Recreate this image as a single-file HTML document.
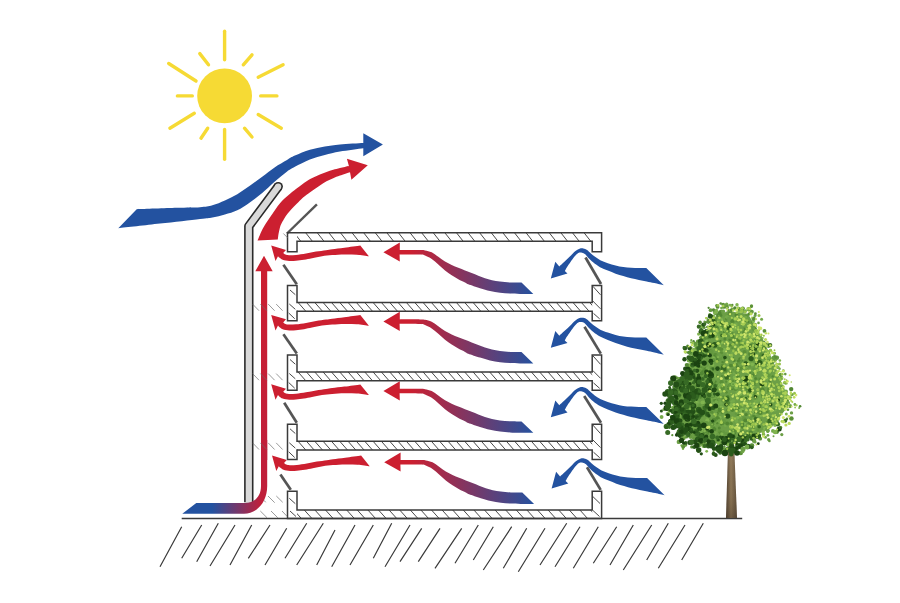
<!DOCTYPE html><html><head><meta charset="utf-8"><style>html,body{margin:0;padding:0;background:#fff;}svg{display:block;}</style></head><body>
<svg width="900" height="603" viewBox="0 0 900 603">
<defs>
<linearGradient id="gm" gradientUnits="userSpaceOnUse" x1="410" y1="0" x2="535" y2="0"><stop offset="0" stop-color="#cc1f30"/><stop offset="1" stop-color="#2352a0"/></linearGradient>
<linearGradient id="gb" gradientUnits="userSpaceOnUse" x1="212" y1="0" x2="261" y2="0"><stop offset="0" stop-color="#2352a0"/><stop offset="1" stop-color="#c01f3a"/></linearGradient>
<linearGradient id="gv" gradientUnits="userSpaceOnUse" x1="0" y1="460" x2="0" y2="256"><stop offset="0" stop-color="#c01f3a"/><stop offset="1" stop-color="#cc1f30"/></linearGradient>
<linearGradient id="gt" x1="0" y1="0" x2="1" y2="0"><stop offset="0" stop-color="#4e3f2e"/><stop offset="0.45" stop-color="#8c7656"/><stop offset="1" stop-color="#5e4e3a"/></linearGradient>
<linearGradient id="gt2" x1="0" y1="0" x2="0" y2="1"><stop offset="0" stop-color="#c8b08a" stop-opacity="0.35"/><stop offset="0.6" stop-color="#8a7252" stop-opacity="0"/><stop offset="1" stop-color="#3a2e22" stop-opacity="0.35"/></linearGradient>
</defs>
<rect width="900" height="603" fill="#fff"/>
<circle cx="224.6" cy="95.9" r="27.4" fill="#f6da34"/>
<line x1="224.6" y1="31.2" x2="224.6" y2="59.8" stroke="#f6da34" stroke-width="3.4" stroke-linecap="round"/>
<line x1="224.6" y1="129.5" x2="224.6" y2="159.3" stroke="#f6da34" stroke-width="3.4" stroke-linecap="round"/>
<line x1="177.4" y1="95.9" x2="192.3" y2="95.9" stroke="#f6da34" stroke-width="3.4" stroke-linecap="round"/>
<line x1="260.7" y1="95.9" x2="276.9" y2="95.9" stroke="#f6da34" stroke-width="3.4" stroke-linecap="round"/>
<line x1="168.7" y1="63.5" x2="196" y2="81" stroke="#f6da34" stroke-width="3.4" stroke-linecap="round"/>
<line x1="258.2" y1="77.2" x2="283.1" y2="64.8" stroke="#f6da34" stroke-width="3.4" stroke-linecap="round"/>
<line x1="169.9" y1="128.2" x2="194.3" y2="113.3" stroke="#f6da34" stroke-width="3.4" stroke-linecap="round"/>
<line x1="258.2" y1="114.5" x2="281.3" y2="128.2" stroke="#f6da34" stroke-width="3.4" stroke-linecap="round"/>
<line x1="199.8" y1="53.6" x2="208.5" y2="64.8" stroke="#f6da34" stroke-width="3.4" stroke-linecap="round"/>
<line x1="252" y1="54.8" x2="243.3" y2="64.8" stroke="#f6da34" stroke-width="3.4" stroke-linecap="round"/>
<line x1="207.7" y1="128.2" x2="201" y2="138.2" stroke="#f6da34" stroke-width="3.4" stroke-linecap="round"/>
<line x1="244.5" y1="128.2" x2="252" y2="137" stroke="#f6da34" stroke-width="3.4" stroke-linecap="round"/>
<path d="M118.3,228.3L136.7,209.2L136.7,209.2C143.37,208.97 166.15,208.13 176.70,207.80C187.25,207.47 194.05,207.62 200.00,207.20C205.95,206.78 208.25,206.42 212.40,205.30C216.55,204.18 220.75,202.35 224.90,200.50C229.05,198.65 233.15,196.65 237.30,194.20C241.45,191.75 245.65,188.70 249.80,185.80C253.95,182.90 258.07,179.87 262.20,176.80C266.33,173.73 270.47,170.20 274.60,167.40C278.73,164.60 283.62,161.97 287.00,160.00C290.38,158.03 291.08,157.30 294.90,155.60C298.72,153.90 304.92,151.33 309.90,149.80C314.88,148.27 319.78,147.30 324.80,146.40C329.82,145.50 333.58,144.97 340.00,144.40C346.42,143.83 359.42,143.23 363.30,143.00L363.3,133.3L382.9,144.4L363.3,156.3L363.3,148.2L363.3,148.2C359.42,148.75 346.42,150.37 340.00,151.50C333.58,152.63 329.82,153.67 324.80,155.00C319.78,156.33 314.88,157.53 309.90,159.50C304.92,161.47 298.70,164.80 294.90,166.80C291.10,168.80 290.48,169.00 287.10,171.50C283.72,174.00 278.75,178.22 274.60,181.80C270.45,185.38 266.33,189.57 262.20,193.00C258.07,196.43 253.95,199.53 249.80,202.40C245.65,205.27 241.45,208.20 237.30,210.20C233.15,212.20 229.05,213.20 224.90,214.40C220.75,215.60 216.55,216.65 212.40,217.40C208.25,218.15 208.73,217.87 200.00,218.90C191.27,219.93 173.62,222.03 160.00,223.60C146.38,225.17 125.25,227.52 118.30,228.30Z" fill="#2352a0"/>
<path d="M257.5,240.6C258.42,238.53 260.88,232.13 263.00,228.20C265.12,224.27 267.37,221.17 270.20,217.00C273.03,212.83 276.98,206.82 280.00,203.20C283.02,199.58 285.53,197.75 288.30,195.30C291.07,192.85 293.55,190.85 296.60,188.50C299.65,186.15 303.82,183.02 306.60,181.20C309.38,179.38 311.08,178.70 313.30,177.60C315.52,176.50 317.70,175.55 319.90,174.60C322.10,173.65 324.28,172.72 326.50,171.90C328.72,171.08 330.95,170.37 333.20,169.70C335.45,169.03 337.38,168.53 340.00,167.90C342.62,167.27 347.42,166.23 348.90,165.90L346.9,158.8L367.8,165.3L351.4,179.7L350,172.3L350,172.3C348.33,172.85 342.80,174.62 340.00,175.60C337.20,176.58 335.45,177.25 333.20,178.20C330.95,179.15 328.72,180.08 326.50,181.30C324.28,182.52 322.10,184.05 319.90,185.50C317.70,186.95 315.52,188.45 313.30,190.00C311.08,191.55 308.43,193.43 306.60,194.80C304.77,196.17 303.90,196.75 302.30,198.20C300.70,199.65 298.78,201.70 297.00,203.50C295.22,205.30 293.18,207.28 291.60,209.00C290.02,210.72 288.77,212.13 287.50,213.80C286.23,215.47 285.08,217.22 284.00,219.00C282.92,220.78 281.72,222.92 281.00,224.50C280.28,226.08 280.12,226.92 279.70,228.50C279.28,230.08 278.82,232.15 278.50,234.00C278.18,235.85 277.92,238.67 277.80,239.60Z" fill="#cc1f30"/>
<path d="M278.2,186.6L248.8,226.2V502.3" fill="none" stroke="#2a2a2a" stroke-width="9.4" stroke-linejoin="round"/>
<circle cx="278.2" cy="186.6" r="4.7" fill="#2a2a2a"/>
<path d="M278.2,186.6L248.8,226.2V502.3" fill="none" stroke="#d9d9d9" stroke-width="6.2" stroke-linejoin="round"/>
<circle cx="278.2" cy="186.6" r="3.1" fill="#d9d9d9"/>
<line x1="287" y1="233.5" x2="316.9" y2="204.3" stroke="#555" stroke-width="2.4"/>
<clipPath id="c0"><rect x="297.0" y="232.8" width="295.20000000000005" height="8.5"/></clipPath>
<g clip-path="url(#c0)"><path d="M270.9,232.8L277.6,241.3M282.5,232.8L289.2,241.3M294.1,232.8L300.8,241.3M305.7,232.8L312.4,241.3M317.3,232.8L324.0,241.3M328.9,232.8L335.6,241.3M340.5,232.8L347.2,241.3M352.1,232.8L358.8,241.3M363.7,232.8L370.4,241.3M375.3,232.8L382.0,241.3M386.9,232.8L393.6,241.3M398.5,232.8L405.2,241.3M410.1,232.8L416.8,241.3M421.7,232.8L428.4,241.3M433.3,232.8L440.0,241.3M444.9,232.8L451.6,241.3M456.5,232.8L463.2,241.3M468.1,232.8L474.8,241.3M479.7,232.8L486.4,241.3M491.3,232.8L498.0,241.3M502.9,232.8L509.6,241.3M514.5,232.8L521.2,241.3M526.1,232.8L532.8,241.3M537.7,232.8L544.4,241.3M549.3,232.8L556.0,241.3M560.9,232.8L567.6,241.3M572.5,232.8L579.2,241.3M584.1,232.8L590.8,241.3M595.7,232.8L602.4,241.3M607.3,232.8L614.0,241.3M618.9,232.8L625.6,241.3" stroke="#4a4a4a" stroke-width="1.0" fill="none"/></g>
<path d="M287.5,232.8H601.6V251.8H592.2V241.3H297.0V251.8H287.5Z" fill="none" stroke="#3a3a3a" stroke-width="1.5"/>
<clipPath id="c1"><rect x="297.0" y="302.5" width="295.20000000000005" height="8.800000000000011"/></clipPath>
<g clip-path="url(#c1)"><path d="M246.7,272.5L299.5,332.5M255.1,272.5L307.9,332.5M263.4,272.5L316.2,332.5M271.7,272.5L324.5,332.5M280.1,272.5L332.9,332.5M288.4,272.5L341.2,332.5M296.7,272.5L349.5,332.5M305.1,272.5L357.9,332.5M313.4,272.5L366.2,332.5M321.7,272.5L374.5,332.5M330.0,272.5L382.8,332.5M338.4,272.5L391.2,332.5M346.7,272.5L399.5,332.5M355.0,272.5L407.8,332.5M363.4,272.5L416.2,332.5M371.7,272.5L424.5,332.5M380.0,272.5L432.8,332.5M388.4,272.5L441.2,332.5M396.7,272.5L449.5,332.5M405.0,272.5L457.8,332.5M413.3,272.5L466.1,332.5M421.7,272.5L474.5,332.5M430.0,272.5L482.8,332.5M438.3,272.5L491.1,332.5M446.7,272.5L499.5,332.5M455.0,272.5L507.8,332.5M463.3,272.5L516.1,332.5M471.7,272.5L524.5,332.5M480.0,272.5L532.8,332.5M488.3,272.5L541.1,332.5M496.6,272.5L549.4,332.5M505.0,272.5L557.8,332.5M513.3,272.5L566.1,332.5M521.6,272.5L574.4,332.5M530.0,272.5L582.8,332.5M538.3,272.5L591.1,332.5M546.6,272.5L599.4,332.5M555.0,272.5L607.8,332.5M563.3,272.5L616.1,332.5M571.6,272.5L624.4,332.5M579.9,272.5L632.7,332.5M588.3,272.5L641.1,332.5M596.6,272.5L649.4,332.5M604.9,272.5L657.7,332.5M613.3,272.5L666.1,332.5M621.6,272.5L674.4,332.5M629.9,272.5L682.7,332.5" stroke="#4a4a4a" stroke-width="1.0" fill="none"/></g>
<path d="M290,290.0L295.3,294.7M289.3,304.0L295.3,309.3M288.7,313.0L294.7,318.7M592.8,286.2L600.5,294.8M592.8,301.0L600.5,308.8M593.5,313.4L599.7,318.9" stroke="#4a4a4a" stroke-width="1.0" fill="none"/>
<path d="M287.5,285.5H297.0V302.5H592.2V285.5H601.6V320.8H592.2V311.3H297.0V320.8H287.5Z" fill="none" stroke="#3a3a3a" stroke-width="1.5"/>
<clipPath id="c2"><rect x="297.0" y="372.0" width="295.20000000000005" height="8.800000000000011"/></clipPath>
<g clip-path="url(#c2)"><path d="M246.7,342.0L299.5,402.0M255.1,342.0L307.9,402.0M263.4,342.0L316.2,402.0M271.7,342.0L324.5,402.0M280.1,342.0L332.9,402.0M288.4,342.0L341.2,402.0M296.7,342.0L349.5,402.0M305.1,342.0L357.9,402.0M313.4,342.0L366.2,402.0M321.7,342.0L374.5,402.0M330.0,342.0L382.8,402.0M338.4,342.0L391.2,402.0M346.7,342.0L399.5,402.0M355.0,342.0L407.8,402.0M363.4,342.0L416.2,402.0M371.7,342.0L424.5,402.0M380.0,342.0L432.8,402.0M388.4,342.0L441.2,402.0M396.7,342.0L449.5,402.0M405.0,342.0L457.8,402.0M413.3,342.0L466.1,402.0M421.7,342.0L474.5,402.0M430.0,342.0L482.8,402.0M438.3,342.0L491.1,402.0M446.7,342.0L499.5,402.0M455.0,342.0L507.8,402.0M463.3,342.0L516.1,402.0M471.7,342.0L524.5,402.0M480.0,342.0L532.8,402.0M488.3,342.0L541.1,402.0M496.6,342.0L549.4,402.0M505.0,342.0L557.8,402.0M513.3,342.0L566.1,402.0M521.6,342.0L574.4,402.0M530.0,342.0L582.8,402.0M538.3,342.0L591.1,402.0M546.6,342.0L599.4,402.0M555.0,342.0L607.8,402.0M563.3,342.0L616.1,402.0M571.6,342.0L624.4,402.0M579.9,342.0L632.7,402.0M588.3,342.0L641.1,402.0M596.6,342.0L649.4,402.0M604.9,342.0L657.7,402.0M613.3,342.0L666.1,402.0M621.6,342.0L674.4,402.0M629.9,342.0L682.7,402.0" stroke="#4a4a4a" stroke-width="1.0" fill="none"/></g>
<path d="M290,359.5L295.3,364.2M289.3,373.5L295.3,378.8M288.7,382.5L294.7,388.2M592.8,355.7L600.5,364.3M592.8,370.5L600.5,378.3M593.5,382.9L599.7,388.4" stroke="#4a4a4a" stroke-width="1.0" fill="none"/>
<path d="M287.5,355.0H297.0V372.0H592.2V355.0H601.6V390.3H592.2V380.8H297.0V390.3H287.5Z" fill="none" stroke="#3a3a3a" stroke-width="1.5"/>
<clipPath id="c3"><rect x="297.0" y="441.3" width="295.20000000000005" height="8.800000000000011"/></clipPath>
<g clip-path="url(#c3)"><path d="M246.7,411.3L299.5,471.3M255.1,411.3L307.9,471.3M263.4,411.3L316.2,471.3M271.7,411.3L324.5,471.3M280.1,411.3L332.9,471.3M288.4,411.3L341.2,471.3M296.7,411.3L349.5,471.3M305.1,411.3L357.9,471.3M313.4,411.3L366.2,471.3M321.7,411.3L374.5,471.3M330.0,411.3L382.8,471.3M338.4,411.3L391.2,471.3M346.7,411.3L399.5,471.3M355.0,411.3L407.8,471.3M363.4,411.3L416.2,471.3M371.7,411.3L424.5,471.3M380.0,411.3L432.8,471.3M388.4,411.3L441.2,471.3M396.7,411.3L449.5,471.3M405.0,411.3L457.8,471.3M413.3,411.3L466.1,471.3M421.7,411.3L474.5,471.3M430.0,411.3L482.8,471.3M438.3,411.3L491.1,471.3M446.7,411.3L499.5,471.3M455.0,411.3L507.8,471.3M463.3,411.3L516.1,471.3M471.7,411.3L524.5,471.3M480.0,411.3L532.8,471.3M488.3,411.3L541.1,471.3M496.6,411.3L549.4,471.3M505.0,411.3L557.8,471.3M513.3,411.3L566.1,471.3M521.6,411.3L574.4,471.3M530.0,411.3L582.8,471.3M538.3,411.3L591.1,471.3M546.6,411.3L599.4,471.3M555.0,411.3L607.8,471.3M563.3,411.3L616.1,471.3M571.6,411.3L624.4,471.3M579.9,411.3L632.7,471.3M588.3,411.3L641.1,471.3M596.6,411.3L649.4,471.3M604.9,411.3L657.7,471.3M613.3,411.3L666.1,471.3M621.6,411.3L674.4,471.3M629.9,411.3L682.7,471.3" stroke="#4a4a4a" stroke-width="1.0" fill="none"/></g>
<path d="M290,428.8L295.3,433.5M289.3,442.8L295.3,448.1M288.7,451.8L294.7,457.5M592.8,425.0L600.5,433.6M592.8,439.8L600.5,447.6M593.5,452.2L599.7,457.7" stroke="#4a4a4a" stroke-width="1.0" fill="none"/>
<path d="M287.5,424.3H297.0V441.3H592.2V424.3H601.6V459.6H592.2V450.1H297.0V459.6H287.5Z" fill="none" stroke="#3a3a3a" stroke-width="1.5"/>
<clipPath id="c4"><rect x="297.0" y="510.0" width="295.20000000000005" height="8.4"/></clipPath>
<g clip-path="url(#c4)"><path d="M245.5,480.0L290.5,530.0M256.1,480.0L301.1,530.0M266.7,480.0L311.7,530.0M277.3,480.0L322.3,530.0M287.9,480.0L332.9,530.0M298.5,480.0L343.5,530.0M309.1,480.0L354.1,530.0M319.7,480.0L364.7,530.0M330.3,480.0L375.3,530.0M340.9,480.0L385.9,530.0M351.5,480.0L396.5,530.0M362.1,480.0L407.1,530.0M372.7,480.0L417.7,530.0M383.3,480.0L428.3,530.0M393.9,480.0L438.9,530.0M404.5,480.0L449.5,530.0M415.1,480.0L460.1,530.0M425.7,480.0L470.7,530.0M436.3,480.0L481.3,530.0M446.9,480.0L491.9,530.0M457.5,480.0L502.5,530.0M468.1,480.0L513.1,530.0M478.7,480.0L523.7,530.0M489.3,480.0L534.3,530.0M499.9,480.0L544.9,530.0M510.5,480.0L555.5,530.0M521.1,480.0L566.1,530.0M531.7,480.0L576.7,530.0M542.3,480.0L587.3,530.0M552.9,480.0L597.9,530.0M563.5,480.0L608.5,530.0M574.1,480.0L619.1,530.0M584.7,480.0L629.7,530.0M595.3,480.0L640.3,530.0M605.9,480.0L650.9,530.0M616.5,480.0L661.5,530.0M627.1,480.0L672.1,530.0" stroke="#4a4a4a" stroke-width="1.0" fill="none"/></g>
<path d="M289.3,498.3L295.3,503.7M290,511L296,516.5M592.8,496.5L600,503.5M593,510.5L599.5,516.5" stroke="#4a4a4a" stroke-width="1.0" fill="none"/>
<path d="M287.5,491.2H297.0V510.0H592.2V491.2H601.6V518.4H287.5Z" fill="none" stroke="#3a3a3a" stroke-width="1.5"/>
<line x1="283.4" y1="264.8" x2="296.8" y2="284.2" stroke="#555" stroke-width="2.7"/>
<line x1="283.4" y1="334.2" x2="296.8" y2="353.6" stroke="#555" stroke-width="2.7"/>
<line x1="284.2" y1="402.8" x2="296.8" y2="422.8" stroke="#555" stroke-width="2.7"/>
<line x1="280.4" y1="474.4" x2="290.8" y2="489.8" stroke="#555" stroke-width="2.7"/>
<line x1="585.5" y1="257.5" x2="601" y2="284" stroke="#555" stroke-width="2.7"/>
<line x1="584.5" y1="326.8" x2="600.8" y2="353.6" stroke="#555" stroke-width="2.7"/>
<line x1="584.2" y1="396" x2="601" y2="422.8" stroke="#555" stroke-width="2.7"/>
<line x1="587" y1="467.3" x2="600.7" y2="489.9" stroke="#555" stroke-width="2.7"/>
<g transform="translate(0,0)"><path d="M271.2,245.5L286,249.9L283.2,253C283.58,253.25 284.53,254.13 285.50,254.50C286.47,254.87 287.25,255.13 289.00,255.20C290.75,255.27 293.17,255.18 296.00,254.90C298.83,254.62 302.67,254.05 306.00,253.50C309.33,252.95 312.67,252.15 316.00,251.60C319.33,251.05 323.30,250.58 326.00,250.20C328.70,249.82 329.13,249.70 332.20,249.30C335.27,248.90 339.72,248.42 344.40,247.80C349.08,247.18 357.65,245.97 360.30,245.60L368.9,256.3L368.9,256.3C366.87,256.05 360.78,255.10 356.70,254.80C352.62,254.50 348.48,254.45 344.40,254.50C340.32,254.55 335.93,254.82 332.20,255.10C328.47,255.38 325.37,255.68 322.00,256.20C318.63,256.72 315.00,257.60 312.00,258.20C309.00,258.80 306.67,259.37 304.00,259.80C301.33,260.23 298.45,260.60 296.00,260.80C293.55,261.00 291.52,261.17 289.30,261.00C287.08,260.83 284.37,260.37 282.70,259.80C281.03,259.23 280.08,258.20 279.30,257.60C278.52,257.00 278.22,256.43 278.00,256.20L275.5,261Z" fill="#cc1f30"/><path d="M383.4,252.2L399.8,242.4L399.8,250L399.6,250C403.00,250.00 415.77,249.93 420.00,250.00C424.23,250.07 423.05,250.02 425.00,250.40C426.95,250.78 429.48,251.23 431.70,252.30C433.92,253.37 436.08,255.27 438.30,256.80C440.52,258.33 442.77,260.13 445.00,261.50C447.23,262.87 449.48,263.95 451.70,265.00C453.92,266.05 456.08,266.90 458.30,267.80C460.52,268.70 462.77,269.53 465.00,270.40C467.23,271.27 469.48,272.12 471.70,273.00C473.92,273.88 476.08,274.83 478.30,275.70C480.52,276.57 482.72,277.45 485.00,278.20C487.28,278.95 489.50,279.63 492.00,280.20C494.50,280.77 497.00,281.22 500.00,281.60C503.00,281.98 506.42,282.33 510.00,282.50C513.58,282.67 519.58,282.58 521.50,282.60L533.3,294L533.3,294C531.08,294.00 523.88,294.07 520.00,294.00C516.12,293.93 513.33,293.80 510.00,293.60C506.67,293.40 503.33,293.23 500.00,292.80C496.67,292.37 493.33,291.77 490.00,291.00C486.67,290.23 483.62,289.32 480.00,288.20C476.38,287.08 470.80,285.25 468.30,284.30C465.80,283.35 466.67,283.35 465.00,282.50C463.33,281.65 460.52,280.42 458.30,279.20C456.08,277.98 453.92,276.67 451.70,275.20C449.48,273.73 447.23,272.20 445.00,270.40C442.77,268.60 440.52,266.30 438.30,264.40C436.08,262.50 433.92,260.47 431.70,259.00C429.48,257.53 426.95,256.33 425.00,255.60C423.05,254.87 424.23,254.80 420.00,254.60C415.77,254.40 403.00,254.43 399.60,254.40L399.8,261.6Z" fill="url(#gm)"/><path d="M550.8,278.4L555.3,261.7L559.3,266.4C560.15,265.62 562.60,263.38 564.40,261.70C566.20,260.02 568.32,258.03 570.10,256.30C571.88,254.57 573.53,252.57 575.10,251.30C576.67,250.03 578.13,249.18 579.50,248.70C580.87,248.22 582.03,248.18 583.30,248.40C584.57,248.62 585.83,249.15 587.10,250.00C588.37,250.85 589.63,252.40 590.90,253.50C592.17,254.60 593.13,255.47 594.70,256.60C596.27,257.73 598.12,259.20 600.30,260.30C602.48,261.40 605.25,262.33 607.80,263.20C610.35,264.07 613.02,264.85 615.60,265.50C618.18,266.15 620.72,266.72 623.30,267.10C625.88,267.48 628.50,267.63 631.10,267.80C633.70,267.97 636.37,268.05 638.90,268.10C641.43,268.15 645.07,268.10 646.30,268.10L663.8,285.3L663.8,285.3C662.23,284.92 657.25,283.65 654.40,283.00C651.55,282.35 649.28,281.92 646.70,281.40C644.12,280.88 641.50,280.42 638.90,279.90C636.30,279.38 633.70,278.95 631.10,278.30C628.50,277.65 625.88,276.77 623.30,276.00C620.72,275.23 618.18,274.60 615.60,273.70C613.02,272.80 610.40,271.68 607.80,270.60C605.20,269.52 602.40,268.53 600.00,267.20C597.60,265.87 595.23,264.03 593.40,262.60C591.57,261.17 590.37,259.98 589.00,258.60C587.63,257.22 586.37,255.28 585.20,254.30C584.03,253.32 583.15,252.92 582.00,252.70C580.85,252.48 579.55,252.37 578.30,253.00C577.05,253.63 575.80,255.00 574.50,256.50C573.20,258.00 571.78,260.18 570.50,262.00C569.22,263.82 567.75,265.90 566.80,267.40C565.85,268.90 565.13,270.40 564.80,271.00L567.5,273.6Z" fill="#2352a0"/></g>
<g transform="translate(0,69.4)"><path d="M271.2,245.5L286,249.9L283.2,253C283.58,253.25 284.53,254.13 285.50,254.50C286.47,254.87 287.25,255.13 289.00,255.20C290.75,255.27 293.17,255.18 296.00,254.90C298.83,254.62 302.67,254.05 306.00,253.50C309.33,252.95 312.67,252.15 316.00,251.60C319.33,251.05 323.30,250.58 326.00,250.20C328.70,249.82 329.13,249.70 332.20,249.30C335.27,248.90 339.72,248.42 344.40,247.80C349.08,247.18 357.65,245.97 360.30,245.60L368.9,256.3L368.9,256.3C366.87,256.05 360.78,255.10 356.70,254.80C352.62,254.50 348.48,254.45 344.40,254.50C340.32,254.55 335.93,254.82 332.20,255.10C328.47,255.38 325.37,255.68 322.00,256.20C318.63,256.72 315.00,257.60 312.00,258.20C309.00,258.80 306.67,259.37 304.00,259.80C301.33,260.23 298.45,260.60 296.00,260.80C293.55,261.00 291.52,261.17 289.30,261.00C287.08,260.83 284.37,260.37 282.70,259.80C281.03,259.23 280.08,258.20 279.30,257.60C278.52,257.00 278.22,256.43 278.00,256.20L275.5,261Z" fill="#cc1f30"/><path d="M383.4,252.2L399.8,242.4L399.8,250L399.6,250C403.00,250.00 415.77,249.93 420.00,250.00C424.23,250.07 423.05,250.02 425.00,250.40C426.95,250.78 429.48,251.23 431.70,252.30C433.92,253.37 436.08,255.27 438.30,256.80C440.52,258.33 442.77,260.13 445.00,261.50C447.23,262.87 449.48,263.95 451.70,265.00C453.92,266.05 456.08,266.90 458.30,267.80C460.52,268.70 462.77,269.53 465.00,270.40C467.23,271.27 469.48,272.12 471.70,273.00C473.92,273.88 476.08,274.83 478.30,275.70C480.52,276.57 482.72,277.45 485.00,278.20C487.28,278.95 489.50,279.63 492.00,280.20C494.50,280.77 497.00,281.22 500.00,281.60C503.00,281.98 506.42,282.33 510.00,282.50C513.58,282.67 519.58,282.58 521.50,282.60L533.3,294L533.3,294C531.08,294.00 523.88,294.07 520.00,294.00C516.12,293.93 513.33,293.80 510.00,293.60C506.67,293.40 503.33,293.23 500.00,292.80C496.67,292.37 493.33,291.77 490.00,291.00C486.67,290.23 483.62,289.32 480.00,288.20C476.38,287.08 470.80,285.25 468.30,284.30C465.80,283.35 466.67,283.35 465.00,282.50C463.33,281.65 460.52,280.42 458.30,279.20C456.08,277.98 453.92,276.67 451.70,275.20C449.48,273.73 447.23,272.20 445.00,270.40C442.77,268.60 440.52,266.30 438.30,264.40C436.08,262.50 433.92,260.47 431.70,259.00C429.48,257.53 426.95,256.33 425.00,255.60C423.05,254.87 424.23,254.80 420.00,254.60C415.77,254.40 403.00,254.43 399.60,254.40L399.8,261.6Z" fill="url(#gm)"/><path d="M550.8,278.4L555.3,261.7L559.3,266.4C560.15,265.62 562.60,263.38 564.40,261.70C566.20,260.02 568.32,258.03 570.10,256.30C571.88,254.57 573.53,252.57 575.10,251.30C576.67,250.03 578.13,249.18 579.50,248.70C580.87,248.22 582.03,248.18 583.30,248.40C584.57,248.62 585.83,249.15 587.10,250.00C588.37,250.85 589.63,252.40 590.90,253.50C592.17,254.60 593.13,255.47 594.70,256.60C596.27,257.73 598.12,259.20 600.30,260.30C602.48,261.40 605.25,262.33 607.80,263.20C610.35,264.07 613.02,264.85 615.60,265.50C618.18,266.15 620.72,266.72 623.30,267.10C625.88,267.48 628.50,267.63 631.10,267.80C633.70,267.97 636.37,268.05 638.90,268.10C641.43,268.15 645.07,268.10 646.30,268.10L663.8,285.3L663.8,285.3C662.23,284.92 657.25,283.65 654.40,283.00C651.55,282.35 649.28,281.92 646.70,281.40C644.12,280.88 641.50,280.42 638.90,279.90C636.30,279.38 633.70,278.95 631.10,278.30C628.50,277.65 625.88,276.77 623.30,276.00C620.72,275.23 618.18,274.60 615.60,273.70C613.02,272.80 610.40,271.68 607.80,270.60C605.20,269.52 602.40,268.53 600.00,267.20C597.60,265.87 595.23,264.03 593.40,262.60C591.57,261.17 590.37,259.98 589.00,258.60C587.63,257.22 586.37,255.28 585.20,254.30C584.03,253.32 583.15,252.92 582.00,252.70C580.85,252.48 579.55,252.37 578.30,253.00C577.05,253.63 575.80,255.00 574.50,256.50C573.20,258.00 571.78,260.18 570.50,262.00C569.22,263.82 567.75,265.90 566.80,267.40C565.85,268.90 565.13,270.40 564.80,271.00L567.5,273.6Z" fill="#2352a0"/></g>
<g transform="translate(0,138.8)"><path d="M271.2,245.5L286,249.9L283.2,253C283.58,253.25 284.53,254.13 285.50,254.50C286.47,254.87 287.25,255.13 289.00,255.20C290.75,255.27 293.17,255.18 296.00,254.90C298.83,254.62 302.67,254.05 306.00,253.50C309.33,252.95 312.67,252.15 316.00,251.60C319.33,251.05 323.30,250.58 326.00,250.20C328.70,249.82 329.13,249.70 332.20,249.30C335.27,248.90 339.72,248.42 344.40,247.80C349.08,247.18 357.65,245.97 360.30,245.60L368.9,256.3L368.9,256.3C366.87,256.05 360.78,255.10 356.70,254.80C352.62,254.50 348.48,254.45 344.40,254.50C340.32,254.55 335.93,254.82 332.20,255.10C328.47,255.38 325.37,255.68 322.00,256.20C318.63,256.72 315.00,257.60 312.00,258.20C309.00,258.80 306.67,259.37 304.00,259.80C301.33,260.23 298.45,260.60 296.00,260.80C293.55,261.00 291.52,261.17 289.30,261.00C287.08,260.83 284.37,260.37 282.70,259.80C281.03,259.23 280.08,258.20 279.30,257.60C278.52,257.00 278.22,256.43 278.00,256.20L275.5,261Z" fill="#cc1f30"/><path d="M383.4,252.2L399.8,242.4L399.8,250L399.6,250C403.00,250.00 415.77,249.93 420.00,250.00C424.23,250.07 423.05,250.02 425.00,250.40C426.95,250.78 429.48,251.23 431.70,252.30C433.92,253.37 436.08,255.27 438.30,256.80C440.52,258.33 442.77,260.13 445.00,261.50C447.23,262.87 449.48,263.95 451.70,265.00C453.92,266.05 456.08,266.90 458.30,267.80C460.52,268.70 462.77,269.53 465.00,270.40C467.23,271.27 469.48,272.12 471.70,273.00C473.92,273.88 476.08,274.83 478.30,275.70C480.52,276.57 482.72,277.45 485.00,278.20C487.28,278.95 489.50,279.63 492.00,280.20C494.50,280.77 497.00,281.22 500.00,281.60C503.00,281.98 506.42,282.33 510.00,282.50C513.58,282.67 519.58,282.58 521.50,282.60L533.3,294L533.3,294C531.08,294.00 523.88,294.07 520.00,294.00C516.12,293.93 513.33,293.80 510.00,293.60C506.67,293.40 503.33,293.23 500.00,292.80C496.67,292.37 493.33,291.77 490.00,291.00C486.67,290.23 483.62,289.32 480.00,288.20C476.38,287.08 470.80,285.25 468.30,284.30C465.80,283.35 466.67,283.35 465.00,282.50C463.33,281.65 460.52,280.42 458.30,279.20C456.08,277.98 453.92,276.67 451.70,275.20C449.48,273.73 447.23,272.20 445.00,270.40C442.77,268.60 440.52,266.30 438.30,264.40C436.08,262.50 433.92,260.47 431.70,259.00C429.48,257.53 426.95,256.33 425.00,255.60C423.05,254.87 424.23,254.80 420.00,254.60C415.77,254.40 403.00,254.43 399.60,254.40L399.8,261.6Z" fill="url(#gm)"/><path d="M550.8,278.4L555.3,261.7L559.3,266.4C560.15,265.62 562.60,263.38 564.40,261.70C566.20,260.02 568.32,258.03 570.10,256.30C571.88,254.57 573.53,252.57 575.10,251.30C576.67,250.03 578.13,249.18 579.50,248.70C580.87,248.22 582.03,248.18 583.30,248.40C584.57,248.62 585.83,249.15 587.10,250.00C588.37,250.85 589.63,252.40 590.90,253.50C592.17,254.60 593.13,255.47 594.70,256.60C596.27,257.73 598.12,259.20 600.30,260.30C602.48,261.40 605.25,262.33 607.80,263.20C610.35,264.07 613.02,264.85 615.60,265.50C618.18,266.15 620.72,266.72 623.30,267.10C625.88,267.48 628.50,267.63 631.10,267.80C633.70,267.97 636.37,268.05 638.90,268.10C641.43,268.15 645.07,268.10 646.30,268.10L663.8,285.3L663.8,285.3C662.23,284.92 657.25,283.65 654.40,283.00C651.55,282.35 649.28,281.92 646.70,281.40C644.12,280.88 641.50,280.42 638.90,279.90C636.30,279.38 633.70,278.95 631.10,278.30C628.50,277.65 625.88,276.77 623.30,276.00C620.72,275.23 618.18,274.60 615.60,273.70C613.02,272.80 610.40,271.68 607.80,270.60C605.20,269.52 602.40,268.53 600.00,267.20C597.60,265.87 595.23,264.03 593.40,262.60C591.57,261.17 590.37,259.98 589.00,258.60C587.63,257.22 586.37,255.28 585.20,254.30C584.03,253.32 583.15,252.92 582.00,252.70C580.85,252.48 579.55,252.37 578.30,253.00C577.05,253.63 575.80,255.00 574.50,256.50C573.20,258.00 571.78,260.18 570.50,262.00C569.22,263.82 567.75,265.90 566.80,267.40C565.85,268.90 565.13,270.40 564.80,271.00L567.5,273.6Z" fill="#2352a0"/></g>
<g transform="translate(0.8,210.0)"><path d="M271.2,245.5L286,249.9L283.2,253C283.58,253.25 284.53,254.13 285.50,254.50C286.47,254.87 287.25,255.13 289.00,255.20C290.75,255.27 293.17,255.18 296.00,254.90C298.83,254.62 302.67,254.05 306.00,253.50C309.33,252.95 312.67,252.15 316.00,251.60C319.33,251.05 323.30,250.58 326.00,250.20C328.70,249.82 329.13,249.70 332.20,249.30C335.27,248.90 339.72,248.42 344.40,247.80C349.08,247.18 357.65,245.97 360.30,245.60L368.9,256.3L368.9,256.3C366.87,256.05 360.78,255.10 356.70,254.80C352.62,254.50 348.48,254.45 344.40,254.50C340.32,254.55 335.93,254.82 332.20,255.10C328.47,255.38 325.37,255.68 322.00,256.20C318.63,256.72 315.00,257.60 312.00,258.20C309.00,258.80 306.67,259.37 304.00,259.80C301.33,260.23 298.45,260.60 296.00,260.80C293.55,261.00 291.52,261.17 289.30,261.00C287.08,260.83 284.37,260.37 282.70,259.80C281.03,259.23 280.08,258.20 279.30,257.60C278.52,257.00 278.22,256.43 278.00,256.20L275.5,261Z" fill="#cc1f30"/><path d="M383.4,252.2L399.8,242.4L399.8,250L399.6,250C403.00,250.00 415.77,249.93 420.00,250.00C424.23,250.07 423.05,250.02 425.00,250.40C426.95,250.78 429.48,251.23 431.70,252.30C433.92,253.37 436.08,255.27 438.30,256.80C440.52,258.33 442.77,260.13 445.00,261.50C447.23,262.87 449.48,263.95 451.70,265.00C453.92,266.05 456.08,266.90 458.30,267.80C460.52,268.70 462.77,269.53 465.00,270.40C467.23,271.27 469.48,272.12 471.70,273.00C473.92,273.88 476.08,274.83 478.30,275.70C480.52,276.57 482.72,277.45 485.00,278.20C487.28,278.95 489.50,279.63 492.00,280.20C494.50,280.77 497.00,281.22 500.00,281.60C503.00,281.98 506.42,282.33 510.00,282.50C513.58,282.67 519.58,282.58 521.50,282.60L533.3,294L533.3,294C531.08,294.00 523.88,294.07 520.00,294.00C516.12,293.93 513.33,293.80 510.00,293.60C506.67,293.40 503.33,293.23 500.00,292.80C496.67,292.37 493.33,291.77 490.00,291.00C486.67,290.23 483.62,289.32 480.00,288.20C476.38,287.08 470.80,285.25 468.30,284.30C465.80,283.35 466.67,283.35 465.00,282.50C463.33,281.65 460.52,280.42 458.30,279.20C456.08,277.98 453.92,276.67 451.70,275.20C449.48,273.73 447.23,272.20 445.00,270.40C442.77,268.60 440.52,266.30 438.30,264.40C436.08,262.50 433.92,260.47 431.70,259.00C429.48,257.53 426.95,256.33 425.00,255.60C423.05,254.87 424.23,254.80 420.00,254.60C415.77,254.40 403.00,254.43 399.60,254.40L399.8,261.6Z" fill="url(#gm)"/><path d="M550.8,278.4L555.3,261.7L559.3,266.4C560.15,265.62 562.60,263.38 564.40,261.70C566.20,260.02 568.32,258.03 570.10,256.30C571.88,254.57 573.53,252.57 575.10,251.30C576.67,250.03 578.13,249.18 579.50,248.70C580.87,248.22 582.03,248.18 583.30,248.40C584.57,248.62 585.83,249.15 587.10,250.00C588.37,250.85 589.63,252.40 590.90,253.50C592.17,254.60 593.13,255.47 594.70,256.60C596.27,257.73 598.12,259.20 600.30,260.30C602.48,261.40 605.25,262.33 607.80,263.20C610.35,264.07 613.02,264.85 615.60,265.50C618.18,266.15 620.72,266.72 623.30,267.10C625.88,267.48 628.50,267.63 631.10,267.80C633.70,267.97 636.37,268.05 638.90,268.10C641.43,268.15 645.07,268.10 646.30,268.10L663.8,285.3L663.8,285.3C662.23,284.92 657.25,283.65 654.40,283.00C651.55,282.35 649.28,281.92 646.70,281.40C644.12,280.88 641.50,280.42 638.90,279.90C636.30,279.38 633.70,278.95 631.10,278.30C628.50,277.65 625.88,276.77 623.30,276.00C620.72,275.23 618.18,274.60 615.60,273.70C613.02,272.80 610.40,271.68 607.80,270.60C605.20,269.52 602.40,268.53 600.00,267.20C597.60,265.87 595.23,264.03 593.40,262.60C591.57,261.17 590.37,259.98 589.00,258.60C587.63,257.22 586.37,255.28 585.20,254.30C584.03,253.32 583.15,252.92 582.00,252.70C580.85,252.48 579.55,252.37 578.30,253.00C577.05,253.63 575.80,255.00 574.50,256.50C573.20,258.00 571.78,260.18 570.50,262.00C569.22,263.82 567.75,265.90 566.80,267.40C565.85,268.90 565.13,270.40 564.80,271.00L567.5,273.6Z" fill="#2352a0"/></g>
<path d="M182.3,513.7L196.3,503L245,503C254,503 261,497 261,486L261,440L267.2,440L267.2,486C267.2,502 257,513.7 244,513.7Z" fill="url(#gb)"/>
<path d="M261,460L261,271.3L255.3,271.3L264,255.8L272.7,271.3L267.2,271.3L267.2,460Z" fill="url(#gv)"/>
<path d="M283.4,233.5L287.8,238M252.6,304.1L259.0,310.7M260.4,304.1L266.79999999999995,310.7M268.2,304.1L274.59999999999997,310.7M276.2,304.1L282.59999999999997,310.7M252.6,373.6L259.0,380.2M260.4,373.6L266.79999999999995,380.2M268.2,373.6L274.59999999999997,380.2M276.2,373.6L282.59999999999997,380.2M252.6,442.9L259.0,449.5M260.4,442.9L266.79999999999995,449.5M268.2,442.9L274.59999999999997,449.5M276.2,442.9L282.59999999999997,449.5M268,496L274.7,502.7M276.3,496L282.7,502.3M264,500.3L265.7,502.3M260.3,511L267,517.7M271,511L277.7,517.7M282,511L287,516.3" stroke="#6a6a6a" stroke-width="0.9" fill="none" opacity="0.75"/>
<line x1="181.7" y1="518.5" x2="742.2" y2="518.5" stroke="#3a3a3a" stroke-width="1.6"/>
<path d="M160,566.7L181.7,526.7M181.7,558.3L201.7,525M196.7,561.7L218.3,523.3M210,566L235,525M230,565L251.7,525M248.3,558.3L270,525M265,565L286.7,528.3M285,558.3L306.7,523.3M296.7,565L323.3,523.3M316.7,565L335,530M331.7,566.7L355,525M350,565L373.3,525M373.3,558.3L391.7,523.3M385,566.7L410,525M400,561.7L421.7,528.3M418.3,561.7L440,528.3M435,568.3L461.7,528.3M455,563.3L478.3,525M473.3,560L493.3,526.7M483.3,570L511.7,526.7M503.3,568.3L526.7,528.3M518.3,571.7L545,528.3M540,565L566.7,523.3M555,566.7L580,526.7M573.3,568.3L598.3,526.7M593.3,563.3L616.7,526.7M610,565L633.3,525M623.3,570L651.7,525M646.7,560L668.3,523.3M658.3,568.3L685,525M681.7,560L703.3,523.3" stroke="#3a3a3a" stroke-width="1.2" fill="none"/>
<path d="M728.4,436 L733.8,436 L737,518 L726,518 Z" fill="url(#gt)"/><path d="M728.4,436 L733.8,436 L737,518 L726,518 Z" fill="url(#gt2)"/>
<path d="M716.4,314.9L728.4,311.2L747.9,313.7L762.8,339.0L774.4,363.9L783.5,388.0L790.3,403.5L780.5,415.9L770.4,428.4L747.9,438.5L735.5,443.5L715.5,443.5L690.6,438.5L678.1,423.5L673.1,408.5L675.6,391.0L683.1,378.5L690.6,373.6L691.9,353.6L701.8,340.7L709.5,327.8Z" fill="#6c9f46"/>
<g><circle cx="726.8" cy="333.4" r="1.5" fill="#64993f"/><circle cx="682.9" cy="437.7" r="1.8" fill="#6c9f46"/><circle cx="728.6" cy="345.1" r="2.2" fill="#5a8f37"/><circle cx="709.7" cy="359.9" r="1.6" fill="#5a8f37"/><circle cx="748.5" cy="446.2" r="1.9" fill="#74a94a"/><circle cx="701.8" cy="426.2" r="1.2" fill="#528733"/><circle cx="724.7" cy="362.9" r="1.4" fill="#528733"/><circle cx="741.3" cy="314.3" r="1.2" fill="#74a94a"/><circle cx="724.4" cy="374.0" r="2.2" fill="#528733"/><circle cx="738.9" cy="376.5" r="1.9" fill="#6c9f46"/><circle cx="698.0" cy="373.6" r="1.8" fill="#74a94a"/><circle cx="736.0" cy="319.9" r="1.1" fill="#80b44f"/><circle cx="757.6" cy="362.0" r="1.4" fill="#528733"/><circle cx="739.6" cy="437.7" r="1.6" fill="#6c9f46"/><circle cx="754.5" cy="328.8" r="2.3" fill="#528733"/><circle cx="680.4" cy="441.8" r="1.0" fill="#6c9f46"/><circle cx="726.2" cy="355.9" r="1.0" fill="#74a94a"/><circle cx="728.4" cy="411.0" r="1.3" fill="#6c9f46"/><circle cx="718.6" cy="345.6" r="1.0" fill="#528733"/><circle cx="728.5" cy="386.1" r="1.3" fill="#528733"/><circle cx="706.4" cy="341.9" r="2.1" fill="#80b44f"/><circle cx="739.6" cy="407.2" r="2.0" fill="#528733"/><circle cx="720.4" cy="388.7" r="1.6" fill="#528733"/><circle cx="728.2" cy="384.2" r="1.7" fill="#6c9f46"/><circle cx="720.7" cy="303.5" r="1.3" fill="#5a8f37"/><circle cx="699.8" cy="446.2" r="1.1" fill="#64993f"/><circle cx="687.6" cy="385.3" r="1.7" fill="#6c9f46"/><circle cx="768.6" cy="439.6" r="1.6" fill="#6c9f46"/><circle cx="695.3" cy="384.7" r="2.1" fill="#64993f"/><circle cx="707.3" cy="388.3" r="1.3" fill="#528733"/><circle cx="759.2" cy="329.5" r="1.2" fill="#64993f"/><circle cx="704.5" cy="369.6" r="2.1" fill="#528733"/><circle cx="757.3" cy="340.9" r="1.9" fill="#64993f"/><circle cx="726.6" cy="422.3" r="1.6" fill="#6c9f46"/><circle cx="708.6" cy="307.8" r="1.1" fill="#528733"/><circle cx="712.6" cy="397.0" r="2.2" fill="#528733"/><circle cx="766.4" cy="409.8" r="1.4" fill="#64993f"/><circle cx="685.8" cy="352.2" r="1.3" fill="#5a8f37"/><circle cx="747.7" cy="397.9" r="1.2" fill="#528733"/><circle cx="703.5" cy="445.7" r="2.2" fill="#80b44f"/><circle cx="701.4" cy="378.7" r="2.1" fill="#64993f"/><circle cx="770.5" cy="372.2" r="1.5" fill="#64993f"/><circle cx="733.6" cy="376.2" r="2.2" fill="#6c9f46"/><circle cx="761.0" cy="404.6" r="1.0" fill="#6c9f46"/><circle cx="773.4" cy="394.6" r="1.4" fill="#5a8f37"/><circle cx="739.7" cy="412.2" r="2.0" fill="#74a94a"/><circle cx="700.2" cy="385.2" r="1.8" fill="#5a8f37"/><circle cx="711.3" cy="419.7" r="1.9" fill="#64993f"/><circle cx="712.3" cy="369.1" r="2.2" fill="#528733"/><circle cx="721.2" cy="322.2" r="1.5" fill="#528733"/><circle cx="715.2" cy="324.0" r="1.2" fill="#80b44f"/><circle cx="728.6" cy="410.6" r="1.9" fill="#6c9f46"/><circle cx="691.5" cy="408.3" r="1.6" fill="#528733"/><circle cx="767.6" cy="380.8" r="1.5" fill="#6c9f46"/><circle cx="781.9" cy="397.1" r="1.8" fill="#74a94a"/><circle cx="783.0" cy="391.8" r="1.0" fill="#5a8f37"/><circle cx="730.6" cy="438.4" r="1.7" fill="#80b44f"/><circle cx="765.0" cy="391.4" r="2.2" fill="#6c9f46"/><circle cx="753.4" cy="433.7" r="1.4" fill="#74a94a"/><circle cx="721.4" cy="386.6" r="1.9" fill="#64993f"/><circle cx="719.2" cy="423.8" r="1.6" fill="#74a94a"/><circle cx="713.8" cy="398.9" r="2.1" fill="#74a94a"/><circle cx="702.7" cy="341.2" r="1.4" fill="#5a8f37"/><circle cx="720.5" cy="327.2" r="1.2" fill="#80b44f"/><circle cx="718.9" cy="339.4" r="1.7" fill="#80b44f"/><circle cx="737.5" cy="373.1" r="1.6" fill="#5a8f37"/><circle cx="744.1" cy="329.5" r="2.0" fill="#528733"/><circle cx="720.6" cy="342.4" r="2.2" fill="#5a8f37"/><circle cx="740.8" cy="430.7" r="1.3" fill="#6c9f46"/><circle cx="737.2" cy="328.9" r="1.4" fill="#80b44f"/><circle cx="734.1" cy="440.0" r="1.4" fill="#528733"/><circle cx="707.4" cy="327.1" r="1.4" fill="#528733"/><circle cx="702.4" cy="369.3" r="2.1" fill="#5a8f37"/><circle cx="742.2" cy="367.8" r="1.2" fill="#528733"/><circle cx="761.3" cy="380.7" r="1.8" fill="#528733"/><circle cx="708.7" cy="348.6" r="1.2" fill="#528733"/><circle cx="766.6" cy="414.9" r="1.1" fill="#6c9f46"/><circle cx="701.2" cy="330.4" r="2.1" fill="#74a94a"/><circle cx="722.2" cy="343.4" r="1.8" fill="#6c9f46"/><circle cx="722.6" cy="335.3" r="2.2" fill="#80b44f"/><circle cx="715.9" cy="392.5" r="1.9" fill="#6c9f46"/><circle cx="728.4" cy="434.9" r="1.6" fill="#528733"/><circle cx="730.5" cy="374.9" r="1.4" fill="#6c9f46"/><circle cx="700.7" cy="428.4" r="1.3" fill="#528733"/><circle cx="691.3" cy="340.2" r="1.1" fill="#74a94a"/><circle cx="740.5" cy="334.5" r="2.0" fill="#80b44f"/><circle cx="702.1" cy="422.6" r="1.8" fill="#64993f"/><circle cx="732.7" cy="357.4" r="1.5" fill="#6c9f46"/><circle cx="706.6" cy="331.2" r="1.6" fill="#528733"/><circle cx="791.2" cy="389.1" r="2.2" fill="#528733"/><circle cx="720.1" cy="432.6" r="2.0" fill="#5a8f37"/><circle cx="697.8" cy="402.2" r="1.5" fill="#74a94a"/><circle cx="717.9" cy="393.5" r="2.0" fill="#64993f"/><circle cx="685.0" cy="416.2" r="1.1" fill="#80b44f"/><circle cx="715.5" cy="386.7" r="1.5" fill="#64993f"/><circle cx="729.6" cy="406.3" r="2.2" fill="#74a94a"/><circle cx="750.1" cy="391.0" r="2.0" fill="#528733"/><circle cx="703.7" cy="409.3" r="2.1" fill="#6c9f46"/><circle cx="699.0" cy="395.8" r="1.0" fill="#74a94a"/><circle cx="698.6" cy="358.6" r="2.0" fill="#5a8f37"/><circle cx="717.3" cy="400.6" r="1.0" fill="#528733"/><circle cx="743.1" cy="311.3" r="1.8" fill="#64993f"/><circle cx="734.4" cy="327.2" r="1.7" fill="#528733"/><circle cx="731.0" cy="310.4" r="1.8" fill="#80b44f"/><circle cx="731.5" cy="401.4" r="1.0" fill="#80b44f"/><circle cx="770.2" cy="361.8" r="1.6" fill="#528733"/><circle cx="684.5" cy="427.6" r="2.2" fill="#80b44f"/><circle cx="718.3" cy="427.7" r="1.8" fill="#64993f"/><circle cx="703.5" cy="389.7" r="1.0" fill="#80b44f"/><circle cx="721.0" cy="320.1" r="2.2" fill="#80b44f"/><circle cx="743.3" cy="346.3" r="2.0" fill="#74a94a"/><circle cx="725.4" cy="375.3" r="2.1" fill="#74a94a"/><circle cx="744.5" cy="430.6" r="2.2" fill="#5a8f37"/><circle cx="710.5" cy="364.0" r="2.0" fill="#74a94a"/><circle cx="751.8" cy="311.8" r="2.0" fill="#64993f"/><circle cx="751.5" cy="305.9" r="1.7" fill="#64993f"/><circle cx="753.1" cy="347.3" r="1.2" fill="#74a94a"/><circle cx="757.1" cy="332.9" r="1.2" fill="#80b44f"/><circle cx="719.6" cy="399.3" r="1.1" fill="#6c9f46"/><circle cx="686.8" cy="410.8" r="1.0" fill="#80b44f"/><circle cx="730.1" cy="358.5" r="1.0" fill="#64993f"/><circle cx="776.9" cy="357.8" r="2.2" fill="#64993f"/><circle cx="709.7" cy="352.5" r="1.5" fill="#5a8f37"/><circle cx="718.7" cy="332.3" r="2.2" fill="#74a94a"/><circle cx="755.3" cy="405.5" r="2.2" fill="#528733"/><circle cx="698.2" cy="344.0" r="1.1" fill="#5a8f37"/><circle cx="721.6" cy="382.2" r="2.1" fill="#5a8f37"/><circle cx="701.7" cy="376.5" r="1.0" fill="#64993f"/><circle cx="753.7" cy="411.2" r="1.3" fill="#80b44f"/><circle cx="780.2" cy="400.0" r="1.4" fill="#80b44f"/><circle cx="721.5" cy="308.1" r="1.4" fill="#74a94a"/><circle cx="720.6" cy="377.2" r="1.5" fill="#74a94a"/><circle cx="718.0" cy="334.1" r="1.3" fill="#6c9f46"/><circle cx="701.1" cy="443.9" r="1.9" fill="#6c9f46"/><circle cx="719.9" cy="410.5" r="1.9" fill="#528733"/><circle cx="697.7" cy="398.9" r="2.3" fill="#6c9f46"/><circle cx="737.0" cy="409.7" r="1.7" fill="#5a8f37"/><circle cx="767.0" cy="377.0" r="1.0" fill="#64993f"/><circle cx="726.9" cy="305.4" r="1.8" fill="#64993f"/><circle cx="713.2" cy="395.7" r="2.0" fill="#528733"/><circle cx="694.9" cy="425.9" r="1.9" fill="#6c9f46"/><circle cx="716.1" cy="433.3" r="1.7" fill="#74a94a"/><circle cx="717.6" cy="434.0" r="1.4" fill="#6c9f46"/><circle cx="741.0" cy="319.4" r="1.4" fill="#6c9f46"/><circle cx="726.8" cy="411.5" r="1.6" fill="#64993f"/><circle cx="723.5" cy="390.7" r="2.1" fill="#64993f"/><circle cx="774.3" cy="361.3" r="1.4" fill="#5a8f37"/><circle cx="675.0" cy="406.6" r="1.9" fill="#5a8f37"/><circle cx="744.8" cy="437.4" r="1.9" fill="#74a94a"/><circle cx="686.5" cy="437.0" r="1.6" fill="#5a8f37"/><circle cx="742.4" cy="329.4" r="1.7" fill="#6c9f46"/><circle cx="732.5" cy="442.0" r="1.9" fill="#6c9f46"/><circle cx="734.9" cy="409.8" r="1.5" fill="#6c9f46"/><circle cx="760.3" cy="356.2" r="1.7" fill="#5a8f37"/><circle cx="782.5" cy="389.3" r="2.2" fill="#80b44f"/><circle cx="721.9" cy="407.8" r="1.8" fill="#80b44f"/><circle cx="716.7" cy="388.6" r="2.2" fill="#5a8f37"/><circle cx="776.8" cy="404.5" r="2.1" fill="#74a94a"/><circle cx="727.3" cy="437.8" r="1.0" fill="#6c9f46"/><circle cx="745.3" cy="341.2" r="2.1" fill="#74a94a"/><circle cx="756.0" cy="371.8" r="2.0" fill="#64993f"/><circle cx="706.2" cy="378.5" r="2.3" fill="#64993f"/><circle cx="740.6" cy="418.3" r="1.3" fill="#6c9f46"/><circle cx="697.9" cy="423.4" r="1.4" fill="#5a8f37"/><circle cx="710.1" cy="419.3" r="1.3" fill="#74a94a"/><circle cx="697.3" cy="432.5" r="1.5" fill="#5a8f37"/><circle cx="705.9" cy="366.2" r="1.8" fill="#5a8f37"/><circle cx="707.0" cy="416.7" r="1.3" fill="#80b44f"/><circle cx="733.0" cy="432.7" r="2.3" fill="#6c9f46"/><circle cx="689.2" cy="394.2" r="2.3" fill="#528733"/><circle cx="693.7" cy="438.6" r="1.5" fill="#64993f"/><circle cx="675.2" cy="381.3" r="2.1" fill="#80b44f"/><circle cx="710.6" cy="426.8" r="2.2" fill="#64993f"/><circle cx="705.1" cy="399.3" r="1.0" fill="#528733"/><circle cx="721.3" cy="424.3" r="1.2" fill="#528733"/><circle cx="750.8" cy="392.8" r="2.0" fill="#6c9f46"/><circle cx="741.0" cy="339.6" r="1.1" fill="#5a8f37"/><circle cx="694.1" cy="350.0" r="2.2" fill="#80b44f"/><circle cx="767.5" cy="376.3" r="1.2" fill="#6c9f46"/><circle cx="747.3" cy="388.0" r="2.2" fill="#5a8f37"/><circle cx="699.0" cy="358.3" r="1.0" fill="#6c9f46"/><circle cx="779.6" cy="368.8" r="1.2" fill="#6c9f46"/><circle cx="715.4" cy="399.8" r="1.1" fill="#80b44f"/><circle cx="753.7" cy="342.9" r="2.1" fill="#64993f"/><circle cx="707.9" cy="394.4" r="2.1" fill="#528733"/><circle cx="728.2" cy="388.8" r="1.0" fill="#528733"/><circle cx="729.7" cy="363.7" r="2.2" fill="#6c9f46"/><circle cx="739.3" cy="444.7" r="1.5" fill="#528733"/><circle cx="785.3" cy="374.1" r="1.3" fill="#64993f"/><circle cx="768.3" cy="352.1" r="2.0" fill="#80b44f"/><circle cx="714.1" cy="402.8" r="1.6" fill="#74a94a"/><circle cx="761.0" cy="353.8" r="1.7" fill="#5a8f37"/><circle cx="751.6" cy="349.9" r="1.5" fill="#74a94a"/><circle cx="716.1" cy="378.0" r="1.6" fill="#74a94a"/><circle cx="760.4" cy="336.9" r="1.4" fill="#74a94a"/><circle cx="666.2" cy="425.9" r="1.5" fill="#5a8f37"/><circle cx="685.6" cy="445.0" r="1.7" fill="#64993f"/><circle cx="689.4" cy="366.6" r="2.2" fill="#64993f"/><circle cx="706.2" cy="346.4" r="1.6" fill="#6c9f46"/><circle cx="719.9" cy="417.4" r="1.7" fill="#80b44f"/><circle cx="703.6" cy="444.1" r="1.6" fill="#528733"/><circle cx="688.7" cy="352.5" r="1.8" fill="#528733"/><circle cx="729.4" cy="312.8" r="1.8" fill="#6c9f46"/><circle cx="759.3" cy="406.2" r="2.0" fill="#5a8f37"/><circle cx="698.4" cy="367.7" r="1.7" fill="#80b44f"/><circle cx="677.4" cy="378.1" r="1.7" fill="#64993f"/><circle cx="683.6" cy="416.1" r="1.8" fill="#64993f"/><circle cx="723.7" cy="374.3" r="2.2" fill="#6c9f46"/><circle cx="720.9" cy="311.9" r="2.2" fill="#5a8f37"/><circle cx="780.3" cy="374.6" r="1.6" fill="#528733"/><circle cx="763.9" cy="359.7" r="1.5" fill="#5a8f37"/><circle cx="678.7" cy="433.1" r="1.6" fill="#74a94a"/><circle cx="734.3" cy="360.9" r="1.9" fill="#6c9f46"/><circle cx="712.7" cy="360.3" r="2.0" fill="#6c9f46"/><circle cx="732.5" cy="320.0" r="1.8" fill="#80b44f"/><circle cx="737.5" cy="378.6" r="2.1" fill="#6c9f46"/><circle cx="785.6" cy="383.4" r="1.4" fill="#74a94a"/><circle cx="684.2" cy="430.3" r="1.8" fill="#80b44f"/><circle cx="706.3" cy="364.3" r="2.0" fill="#5a8f37"/><circle cx="689.1" cy="409.7" r="2.0" fill="#64993f"/><circle cx="717.5" cy="315.3" r="1.6" fill="#64993f"/><circle cx="722.5" cy="385.1" r="2.2" fill="#80b44f"/><circle cx="737.2" cy="413.2" r="1.4" fill="#74a94a"/><circle cx="702.0" cy="440.0" r="1.1" fill="#74a94a"/><circle cx="735.7" cy="388.3" r="1.0" fill="#528733"/><circle cx="757.3" cy="374.6" r="1.5" fill="#6c9f46"/><circle cx="712.1" cy="383.8" r="2.2" fill="#6c9f46"/><circle cx="724.9" cy="351.1" r="1.2" fill="#80b44f"/><circle cx="783.4" cy="370.5" r="1.2" fill="#64993f"/><circle cx="724.9" cy="372.4" r="1.6" fill="#64993f"/><circle cx="752.0" cy="335.4" r="2.2" fill="#6c9f46"/><circle cx="741.5" cy="404.4" r="2.0" fill="#80b44f"/><circle cx="737.6" cy="377.7" r="2.0" fill="#6c9f46"/><circle cx="714.0" cy="420.5" r="1.2" fill="#5a8f37"/><circle cx="745.8" cy="438.1" r="2.2" fill="#64993f"/><circle cx="701.4" cy="368.5" r="2.1" fill="#64993f"/><circle cx="767.7" cy="431.4" r="1.5" fill="#74a94a"/><circle cx="697.9" cy="434.9" r="2.1" fill="#74a94a"/><circle cx="732.5" cy="340.7" r="1.4" fill="#5a8f37"/><circle cx="673.0" cy="392.3" r="1.1" fill="#528733"/><circle cx="755.0" cy="375.3" r="2.1" fill="#64993f"/><circle cx="711.7" cy="327.0" r="1.8" fill="#528733"/><circle cx="729.5" cy="350.3" r="1.7" fill="#6c9f46"/><circle cx="711.7" cy="322.8" r="1.7" fill="#74a94a"/><circle cx="759.6" cy="365.1" r="1.4" fill="#6c9f46"/><circle cx="688.9" cy="395.0" r="1.5" fill="#5a8f37"/><circle cx="701.7" cy="364.0" r="1.6" fill="#80b44f"/><circle cx="706.0" cy="431.8" r="1.3" fill="#5a8f37"/><circle cx="780.6" cy="427.4" r="1.7" fill="#64993f"/><circle cx="725.7" cy="402.6" r="1.0" fill="#6c9f46"/><circle cx="733.2" cy="369.4" r="1.0" fill="#5a8f37"/><circle cx="676.2" cy="425.6" r="1.1" fill="#6c9f46"/><circle cx="786.3" cy="413.9" r="1.5" fill="#80b44f"/><circle cx="749.6" cy="391.6" r="2.2" fill="#64993f"/><circle cx="742.2" cy="415.7" r="1.4" fill="#64993f"/><circle cx="709.7" cy="421.6" r="1.3" fill="#64993f"/><circle cx="729.5" cy="382.7" r="2.1" fill="#80b44f"/><circle cx="732.9" cy="388.2" r="1.2" fill="#5a8f37"/><circle cx="687.8" cy="367.3" r="1.7" fill="#74a94a"/><circle cx="768.5" cy="360.2" r="2.1" fill="#6c9f46"/><circle cx="693.3" cy="362.8" r="1.8" fill="#64993f"/><circle cx="708.2" cy="348.5" r="1.2" fill="#6c9f46"/><circle cx="699.3" cy="360.9" r="2.1" fill="#6c9f46"/><circle cx="707.0" cy="344.0" r="1.7" fill="#5a8f37"/><circle cx="770.0" cy="417.8" r="1.8" fill="#6c9f46"/><circle cx="697.8" cy="356.1" r="1.4" fill="#5a8f37"/><circle cx="728.5" cy="417.5" r="2.0" fill="#64993f"/><circle cx="753.6" cy="429.4" r="1.7" fill="#80b44f"/><circle cx="742.3" cy="386.3" r="1.8" fill="#64993f"/><circle cx="726.9" cy="380.8" r="1.2" fill="#80b44f"/><circle cx="705.1" cy="383.4" r="1.9" fill="#5a8f37"/><circle cx="766.7" cy="376.3" r="1.4" fill="#74a94a"/><circle cx="727.7" cy="418.8" r="1.9" fill="#6c9f46"/><circle cx="710.9" cy="356.4" r="1.0" fill="#528733"/><circle cx="718.5" cy="325.5" r="1.9" fill="#80b44f"/><circle cx="737.9" cy="370.1" r="2.2" fill="#528733"/><circle cx="678.4" cy="431.4" r="1.8" fill="#528733"/><circle cx="724.8" cy="398.9" r="1.2" fill="#5a8f37"/><circle cx="733.2" cy="321.6" r="2.2" fill="#64993f"/><circle cx="688.2" cy="417.3" r="2.2" fill="#5a8f37"/><circle cx="741.7" cy="434.3" r="1.8" fill="#64993f"/><circle cx="692.6" cy="389.9" r="2.2" fill="#64993f"/><circle cx="782.8" cy="404.1" r="2.2" fill="#528733"/><circle cx="720.1" cy="354.7" r="1.2" fill="#80b44f"/><circle cx="770.7" cy="365.3" r="1.3" fill="#528733"/><circle cx="722.5" cy="362.1" r="1.2" fill="#528733"/><circle cx="767.9" cy="435.3" r="1.4" fill="#6c9f46"/><circle cx="725.8" cy="370.6" r="1.7" fill="#528733"/><circle cx="716.5" cy="324.6" r="1.0" fill="#74a94a"/><circle cx="709.1" cy="319.9" r="1.1" fill="#74a94a"/><circle cx="768.4" cy="387.1" r="1.8" fill="#74a94a"/><circle cx="681.4" cy="378.1" r="1.1" fill="#64993f"/><circle cx="760.6" cy="397.2" r="1.7" fill="#74a94a"/><circle cx="711.9" cy="383.3" r="1.1" fill="#80b44f"/><circle cx="710.9" cy="419.5" r="1.7" fill="#5a8f37"/><circle cx="737.0" cy="448.9" r="1.8" fill="#528733"/><circle cx="707.0" cy="360.3" r="1.8" fill="#64993f"/><circle cx="713.0" cy="382.4" r="2.0" fill="#74a94a"/><circle cx="714.6" cy="317.6" r="1.0" fill="#5a8f37"/><circle cx="725.2" cy="448.8" r="1.2" fill="#80b44f"/><circle cx="717.1" cy="406.6" r="2.0" fill="#6c9f46"/><circle cx="700.3" cy="368.9" r="1.5" fill="#74a94a"/><circle cx="683.5" cy="392.8" r="2.0" fill="#528733"/><circle cx="776.9" cy="364.6" r="1.7" fill="#64993f"/><circle cx="780.7" cy="397.4" r="1.4" fill="#5a8f37"/><circle cx="702.8" cy="395.3" r="1.1" fill="#74a94a"/><circle cx="701.1" cy="426.5" r="1.8" fill="#80b44f"/><circle cx="710.7" cy="423.7" r="1.3" fill="#64993f"/><circle cx="712.6" cy="325.4" r="2.1" fill="#74a94a"/><circle cx="693.4" cy="426.7" r="1.8" fill="#74a94a"/><circle cx="726.4" cy="438.1" r="1.8" fill="#74a94a"/><circle cx="690.6" cy="436.9" r="1.5" fill="#80b44f"/><circle cx="673.0" cy="407.8" r="2.0" fill="#74a94a"/><circle cx="716.6" cy="418.8" r="2.1" fill="#6c9f46"/><circle cx="675.0" cy="410.1" r="1.7" fill="#64993f"/><circle cx="703.9" cy="434.7" r="1.5" fill="#64993f"/><circle cx="725.5" cy="401.6" r="2.3" fill="#64993f"/><circle cx="738.0" cy="341.3" r="2.2" fill="#5a8f37"/><circle cx="726.8" cy="355.0" r="1.9" fill="#6c9f46"/><circle cx="697.8" cy="341.5" r="1.9" fill="#64993f"/><circle cx="750.5" cy="435.7" r="2.2" fill="#74a94a"/><circle cx="747.8" cy="377.7" r="1.4" fill="#64993f"/><circle cx="722.9" cy="323.8" r="1.5" fill="#528733"/><circle cx="741.7" cy="432.3" r="2.0" fill="#5a8f37"/><circle cx="770.5" cy="425.1" r="2.1" fill="#74a94a"/><circle cx="738.4" cy="385.6" r="1.5" fill="#6c9f46"/><circle cx="693.2" cy="397.1" r="1.0" fill="#80b44f"/><circle cx="714.9" cy="354.8" r="2.1" fill="#64993f"/><circle cx="705.5" cy="338.3" r="1.4" fill="#5a8f37"/><circle cx="761.4" cy="380.1" r="1.7" fill="#528733"/><circle cx="689.3" cy="387.3" r="1.3" fill="#5a8f37"/><circle cx="707.0" cy="382.6" r="2.2" fill="#5a8f37"/><circle cx="729.6" cy="333.3" r="1.7" fill="#80b44f"/><circle cx="741.6" cy="386.9" r="2.2" fill="#64993f"/><circle cx="742.8" cy="379.0" r="2.2" fill="#74a94a"/><circle cx="683.8" cy="438.4" r="1.8" fill="#64993f"/><circle cx="713.9" cy="382.6" r="2.3" fill="#5a8f37"/><circle cx="686.8" cy="419.6" r="1.6" fill="#6c9f46"/><circle cx="695.6" cy="374.5" r="1.8" fill="#64993f"/><circle cx="697.3" cy="449.5" r="1.4" fill="#5a8f37"/><circle cx="737.0" cy="446.0" r="2.0" fill="#64993f"/><circle cx="715.5" cy="354.8" r="1.8" fill="#5a8f37"/><circle cx="726.7" cy="352.3" r="1.9" fill="#6c9f46"/><circle cx="751.0" cy="339.1" r="1.9" fill="#6c9f46"/><circle cx="721.3" cy="325.5" r="1.5" fill="#64993f"/><circle cx="724.5" cy="342.9" r="2.0" fill="#6c9f46"/><circle cx="733.0" cy="387.5" r="1.9" fill="#64993f"/><circle cx="695.5" cy="366.4" r="1.8" fill="#74a94a"/><circle cx="716.6" cy="335.3" r="2.2" fill="#74a94a"/><circle cx="764.9" cy="383.9" r="1.1" fill="#64993f"/><circle cx="698.7" cy="412.5" r="2.3" fill="#64993f"/><circle cx="724.0" cy="331.7" r="1.2" fill="#528733"/><circle cx="688.5" cy="365.5" r="2.3" fill="#80b44f"/><circle cx="747.9" cy="426.7" r="2.1" fill="#6c9f46"/><circle cx="688.9" cy="380.6" r="1.6" fill="#5a8f37"/><circle cx="726.5" cy="374.5" r="1.2" fill="#80b44f"/><circle cx="751.9" cy="395.3" r="1.1" fill="#6c9f46"/><circle cx="740.1" cy="394.5" r="1.0" fill="#528733"/><circle cx="785.7" cy="394.7" r="2.2" fill="#80b44f"/><circle cx="700.0" cy="362.7" r="1.4" fill="#528733"/><circle cx="741.4" cy="360.4" r="1.4" fill="#528733"/><circle cx="733.9" cy="373.4" r="1.2" fill="#74a94a"/><circle cx="741.4" cy="363.1" r="1.5" fill="#80b44f"/><circle cx="697.1" cy="386.8" r="1.8" fill="#528733"/><circle cx="704.4" cy="412.6" r="2.0" fill="#74a94a"/><circle cx="758.0" cy="365.5" r="1.7" fill="#528733"/><circle cx="744.0" cy="340.5" r="2.1" fill="#74a94a"/><circle cx="723.2" cy="344.0" r="1.2" fill="#5a8f37"/><circle cx="702.4" cy="371.6" r="1.2" fill="#528733"/><circle cx="744.0" cy="399.8" r="1.3" fill="#74a94a"/><circle cx="721.2" cy="437.9" r="2.1" fill="#64993f"/><circle cx="740.6" cy="368.5" r="1.7" fill="#5a8f37"/><circle cx="721.0" cy="403.0" r="1.9" fill="#74a94a"/><circle cx="683.0" cy="448.7" r="1.2" fill="#80b44f"/><circle cx="706.9" cy="383.2" r="2.1" fill="#6c9f46"/><circle cx="709.5" cy="374.5" r="2.1" fill="#6c9f46"/><circle cx="711.0" cy="409.2" r="1.2" fill="#6c9f46"/><circle cx="682.0" cy="380.3" r="2.3" fill="#6c9f46"/><circle cx="724.6" cy="416.5" r="1.8" fill="#74a94a"/><circle cx="702.7" cy="414.6" r="1.7" fill="#6c9f46"/><circle cx="692.8" cy="393.4" r="2.1" fill="#74a94a"/><circle cx="750.9" cy="418.9" r="1.4" fill="#64993f"/><circle cx="734.4" cy="329.6" r="2.0" fill="#74a94a"/><circle cx="741.6" cy="314.6" r="1.2" fill="#6c9f46"/><circle cx="691.2" cy="347.9" r="1.5" fill="#6c9f46"/><circle cx="688.9" cy="411.0" r="2.1" fill="#64993f"/><circle cx="711.6" cy="382.5" r="2.1" fill="#74a94a"/><circle cx="744.2" cy="423.0" r="2.1" fill="#80b44f"/><circle cx="779.9" cy="360.5" r="1.3" fill="#80b44f"/><circle cx="711.7" cy="412.2" r="1.7" fill="#5a8f37"/><circle cx="701.5" cy="415.1" r="1.4" fill="#74a94a"/><circle cx="673.2" cy="417.1" r="1.9" fill="#64993f"/><circle cx="668.0" cy="426.6" r="1.7" fill="#74a94a"/><circle cx="692.6" cy="423.3" r="1.4" fill="#80b44f"/><circle cx="723.8" cy="421.3" r="2.2" fill="#64993f"/><circle cx="720.3" cy="351.9" r="1.9" fill="#74a94a"/><circle cx="686.2" cy="377.6" r="1.3" fill="#6c9f46"/><circle cx="713.4" cy="316.4" r="1.2" fill="#80b44f"/><circle cx="726.6" cy="376.5" r="1.5" fill="#74a94a"/><circle cx="689.3" cy="367.5" r="1.2" fill="#80b44f"/><circle cx="703.8" cy="360.5" r="2.2" fill="#6c9f46"/><circle cx="683.2" cy="446.6" r="2.1" fill="#5a8f37"/><circle cx="696.7" cy="379.1" r="1.9" fill="#5a8f37"/><circle cx="787.2" cy="399.9" r="1.2" fill="#5a8f37"/><circle cx="731.1" cy="450.9" r="1.2" fill="#74a94a"/><circle cx="725.6" cy="349.9" r="1.4" fill="#528733"/><circle cx="748.2" cy="396.9" r="1.3" fill="#5a8f37"/><circle cx="692.9" cy="383.8" r="1.3" fill="#80b44f"/><circle cx="767.2" cy="343.4" r="1.5" fill="#6c9f46"/><circle cx="712.2" cy="339.5" r="1.4" fill="#6c9f46"/><circle cx="753.4" cy="411.6" r="1.3" fill="#80b44f"/><circle cx="695.2" cy="420.1" r="1.4" fill="#528733"/><circle cx="718.1" cy="417.0" r="1.1" fill="#64993f"/><circle cx="761.8" cy="411.9" r="2.2" fill="#6c9f46"/><circle cx="704.4" cy="334.8" r="1.6" fill="#74a94a"/><circle cx="734.1" cy="352.6" r="1.3" fill="#64993f"/><circle cx="756.6" cy="432.5" r="2.2" fill="#6c9f46"/><circle cx="682.6" cy="386.6" r="1.2" fill="#6c9f46"/><circle cx="726.2" cy="317.7" r="1.5" fill="#80b44f"/><circle cx="713.1" cy="345.4" r="2.1" fill="#6c9f46"/><circle cx="681.9" cy="430.8" r="1.4" fill="#74a94a"/><circle cx="765.1" cy="379.5" r="1.1" fill="#528733"/><circle cx="726.4" cy="376.2" r="1.0" fill="#80b44f"/><circle cx="723.9" cy="307.3" r="1.5" fill="#528733"/><circle cx="714.5" cy="356.4" r="1.3" fill="#528733"/><circle cx="675.5" cy="403.5" r="1.6" fill="#64993f"/><circle cx="703.4" cy="432.6" r="1.1" fill="#80b44f"/><circle cx="732.1" cy="321.1" r="2.0" fill="#528733"/><circle cx="702.1" cy="337.3" r="2.3" fill="#64993f"/><circle cx="727.5" cy="307.2" r="1.5" fill="#6c9f46"/><circle cx="748.9" cy="348.5" r="1.5" fill="#74a94a"/><circle cx="754.8" cy="345.6" r="1.5" fill="#6c9f46"/><circle cx="715.6" cy="313.2" r="1.9" fill="#5a8f37"/><circle cx="756.0" cy="352.7" r="1.0" fill="#5a8f37"/><circle cx="706.6" cy="318.3" r="1.3" fill="#6c9f46"/><circle cx="704.0" cy="390.0" r="1.6" fill="#80b44f"/><circle cx="693.5" cy="432.0" r="2.2" fill="#6c9f46"/><circle cx="775.0" cy="425.0" r="1.9" fill="#80b44f"/><circle cx="704.6" cy="444.6" r="1.2" fill="#528733"/><circle cx="698.8" cy="427.2" r="2.3" fill="#64993f"/><circle cx="727.2" cy="410.3" r="1.4" fill="#5a8f37"/><circle cx="737.9" cy="362.6" r="1.2" fill="#64993f"/><circle cx="671.4" cy="416.5" r="1.5" fill="#64993f"/><circle cx="791.5" cy="412.9" r="1.7" fill="#6c9f46"/><circle cx="738.2" cy="308.1" r="1.3" fill="#5a8f37"/><circle cx="722.0" cy="342.9" r="1.5" fill="#80b44f"/><circle cx="689.2" cy="429.3" r="1.6" fill="#5a8f37"/><circle cx="776.9" cy="405.1" r="1.9" fill="#80b44f"/><circle cx="745.6" cy="325.3" r="1.4" fill="#6c9f46"/><circle cx="692.3" cy="431.5" r="2.3" fill="#80b44f"/><circle cx="717.1" cy="386.1" r="2.0" fill="#5a8f37"/><circle cx="714.5" cy="406.2" r="2.2" fill="#528733"/><circle cx="718.0" cy="417.4" r="1.5" fill="#6c9f46"/><circle cx="716.9" cy="413.3" r="2.0" fill="#528733"/><circle cx="738.6" cy="415.6" r="1.8" fill="#528733"/><circle cx="728.0" cy="354.0" r="1.6" fill="#80b44f"/><circle cx="750.1" cy="363.3" r="1.3" fill="#6c9f46"/><circle cx="755.4" cy="381.9" r="1.7" fill="#64993f"/><circle cx="723.1" cy="327.8" r="2.0" fill="#528733"/><circle cx="734.1" cy="342.3" r="1.4" fill="#528733"/><circle cx="774.0" cy="410.6" r="1.1" fill="#80b44f"/><circle cx="755.3" cy="396.5" r="1.5" fill="#64993f"/><circle cx="703.4" cy="403.0" r="2.0" fill="#5a8f37"/><circle cx="735.7" cy="349.2" r="2.2" fill="#64993f"/><circle cx="691.3" cy="351.4" r="2.0" fill="#528733"/><circle cx="721.1" cy="352.9" r="1.6" fill="#5a8f37"/><circle cx="709.7" cy="375.9" r="2.1" fill="#5a8f37"/><circle cx="762.7" cy="338.0" r="1.1" fill="#80b44f"/><circle cx="738.9" cy="332.1" r="1.7" fill="#528733"/><circle cx="717.6" cy="306.9" r="1.9" fill="#5a8f37"/><circle cx="718.9" cy="443.3" r="2.2" fill="#80b44f"/><circle cx="723.3" cy="423.5" r="1.4" fill="#5a8f37"/><circle cx="709.2" cy="346.1" r="1.1" fill="#5a8f37"/><circle cx="756.4" cy="339.6" r="1.4" fill="#5a8f37"/><circle cx="707.6" cy="365.6" r="1.8" fill="#80b44f"/><circle cx="703.6" cy="353.0" r="1.8" fill="#528733"/><circle cx="755.3" cy="415.7" r="1.4" fill="#6c9f46"/><circle cx="684.4" cy="383.5" r="1.1" fill="#80b44f"/><circle cx="689.5" cy="415.5" r="2.0" fill="#64993f"/><circle cx="712.2" cy="431.8" r="1.7" fill="#6c9f46"/><circle cx="674.3" cy="387.0" r="2.1" fill="#528733"/><circle cx="708.3" cy="322.1" r="1.8" fill="#528733"/><circle cx="774.5" cy="353.3" r="1.5" fill="#74a94a"/><circle cx="686.5" cy="378.9" r="1.9" fill="#64993f"/><circle cx="706.3" cy="397.9" r="1.3" fill="#6c9f46"/><circle cx="704.6" cy="338.0" r="1.3" fill="#5a8f37"/><circle cx="744.9" cy="430.5" r="2.3" fill="#64993f"/><circle cx="739.0" cy="406.3" r="2.0" fill="#528733"/><circle cx="756.3" cy="384.7" r="1.2" fill="#5a8f37"/><circle cx="775.5" cy="410.4" r="1.1" fill="#74a94a"/><circle cx="726.0" cy="415.1" r="1.6" fill="#64993f"/><circle cx="741.3" cy="337.2" r="2.2" fill="#74a94a"/><circle cx="729.5" cy="435.9" r="1.1" fill="#74a94a"/><circle cx="706.1" cy="407.3" r="1.0" fill="#6c9f46"/><circle cx="784.8" cy="405.8" r="2.0" fill="#5a8f37"/><circle cx="697.3" cy="420.6" r="2.3" fill="#74a94a"/><circle cx="745.1" cy="344.3" r="1.8" fill="#64993f"/><circle cx="724.4" cy="334.3" r="1.4" fill="#6c9f46"/><circle cx="768.3" cy="403.5" r="1.1" fill="#64993f"/><circle cx="717.6" cy="355.8" r="1.9" fill="#64993f"/><circle cx="708.4" cy="321.6" r="2.0" fill="#64993f"/><circle cx="703.8" cy="407.9" r="2.2" fill="#528733"/><circle cx="754.6" cy="334.3" r="2.0" fill="#528733"/><circle cx="763.1" cy="431.7" r="1.8" fill="#80b44f"/><circle cx="741.7" cy="409.9" r="2.2" fill="#80b44f"/><circle cx="691.7" cy="446.9" r="1.6" fill="#528733"/><circle cx="710.9" cy="405.2" r="1.1" fill="#74a94a"/><circle cx="742.4" cy="322.8" r="1.3" fill="#5a8f37"/><circle cx="756.8" cy="391.6" r="1.6" fill="#74a94a"/><circle cx="725.1" cy="359.1" r="1.6" fill="#528733"/><circle cx="713.7" cy="386.9" r="2.0" fill="#64993f"/><circle cx="731.2" cy="406.5" r="2.1" fill="#80b44f"/><circle cx="697.8" cy="374.3" r="2.2" fill="#74a94a"/><circle cx="756.1" cy="391.5" r="1.1" fill="#6c9f46"/><circle cx="718.0" cy="425.0" r="2.0" fill="#6c9f46"/><circle cx="674.8" cy="377.5" r="2.3" fill="#5a8f37"/><circle cx="716.8" cy="327.7" r="2.0" fill="#528733"/><circle cx="695.0" cy="398.3" r="1.7" fill="#64993f"/><circle cx="757.6" cy="436.2" r="1.2" fill="#80b44f"/><circle cx="707.9" cy="446.0" r="1.0" fill="#80b44f"/><circle cx="711.8" cy="418.6" r="1.7" fill="#6c9f46"/><circle cx="719.5" cy="340.6" r="1.5" fill="#528733"/><circle cx="788.0" cy="409.7" r="1.3" fill="#64993f"/><circle cx="778.0" cy="367.5" r="1.8" fill="#80b44f"/><circle cx="738.7" cy="375.7" r="1.3" fill="#64993f"/><circle cx="707.5" cy="368.6" r="1.9" fill="#74a94a"/><circle cx="700.1" cy="322.4" r="1.8" fill="#5a8f37"/><circle cx="771.4" cy="364.2" r="1.2" fill="#5a8f37"/><circle cx="746.1" cy="414.6" r="1.6" fill="#528733"/><circle cx="729.9" cy="369.3" r="1.2" fill="#74a94a"/><circle cx="690.2" cy="396.5" r="2.3" fill="#6c9f46"/><circle cx="707.4" cy="336.1" r="1.8" fill="#74a94a"/><circle cx="754.9" cy="383.5" r="2.0" fill="#5a8f37"/><circle cx="700.8" cy="436.7" r="1.6" fill="#5a8f37"/><circle cx="689.5" cy="417.8" r="2.0" fill="#64993f"/><circle cx="718.7" cy="342.0" r="2.1" fill="#528733"/><circle cx="716.3" cy="428.0" r="1.8" fill="#6c9f46"/><circle cx="716.6" cy="375.2" r="1.2" fill="#5a8f37"/><circle cx="731.5" cy="434.8" r="1.5" fill="#74a94a"/><circle cx="734.2" cy="433.4" r="1.9" fill="#528733"/><circle cx="715.0" cy="312.4" r="2.1" fill="#80b44f"/><circle cx="713.0" cy="399.8" r="1.0" fill="#64993f"/><circle cx="741.4" cy="435.0" r="2.1" fill="#74a94a"/><circle cx="744.9" cy="367.4" r="1.4" fill="#6c9f46"/><circle cx="748.9" cy="309.2" r="2.2" fill="#6c9f46"/><circle cx="719.3" cy="428.1" r="1.5" fill="#528733"/><circle cx="726.8" cy="442.4" r="1.8" fill="#5a8f37"/><circle cx="713.2" cy="392.4" r="1.4" fill="#6c9f46"/><circle cx="713.6" cy="357.6" r="1.4" fill="#80b44f"/><circle cx="751.2" cy="365.6" r="1.3" fill="#74a94a"/><circle cx="676.7" cy="412.0" r="2.1" fill="#5a8f37"/><circle cx="760.2" cy="438.7" r="1.9" fill="#5a8f37"/><circle cx="715.8" cy="449.1" r="1.8" fill="#64993f"/><circle cx="792.1" cy="394.5" r="1.6" fill="#6c9f46"/><circle cx="756.7" cy="401.8" r="2.3" fill="#74a94a"/><circle cx="744.1" cy="380.2" r="1.3" fill="#5a8f37"/><circle cx="794.9" cy="404.5" r="1.4" fill="#74a94a"/><circle cx="740.8" cy="453.1" r="2.2" fill="#5a8f37"/><circle cx="698.4" cy="438.8" r="1.2" fill="#80b44f"/><circle cx="791.4" cy="418.5" r="2.3" fill="#5a8f37"/><circle cx="717.1" cy="360.5" r="1.8" fill="#74a94a"/><circle cx="765.1" cy="428.5" r="2.0" fill="#80b44f"/><circle cx="767.2" cy="411.8" r="1.5" fill="#5a8f37"/><circle cx="768.5" cy="375.0" r="2.2" fill="#64993f"/><circle cx="737.3" cy="420.6" r="1.2" fill="#528733"/><circle cx="773.5" cy="423.3" r="2.0" fill="#6c9f46"/><circle cx="697.8" cy="420.4" r="1.8" fill="#6c9f46"/><circle cx="746.3" cy="392.8" r="2.2" fill="#5a8f37"/><circle cx="683.9" cy="435.9" r="1.5" fill="#80b44f"/><circle cx="713.8" cy="315.6" r="1.1" fill="#80b44f"/><circle cx="733.0" cy="330.3" r="1.1" fill="#74a94a"/><circle cx="753.0" cy="348.5" r="2.0" fill="#6c9f46"/><circle cx="787.5" cy="396.0" r="1.6" fill="#74a94a"/><circle cx="769.0" cy="390.9" r="1.9" fill="#5a8f37"/><circle cx="699.7" cy="405.2" r="1.2" fill="#64993f"/><circle cx="717.9" cy="358.5" r="1.9" fill="#528733"/><circle cx="718.7" cy="347.1" r="1.3" fill="#6c9f46"/><circle cx="697.5" cy="353.7" r="1.0" fill="#5a8f37"/><circle cx="744.5" cy="367.6" r="2.0" fill="#74a94a"/><circle cx="701.6" cy="402.5" r="1.1" fill="#74a94a"/><circle cx="751.9" cy="417.6" r="1.1" fill="#64993f"/><circle cx="781.2" cy="376.9" r="1.5" fill="#80b44f"/><circle cx="729.1" cy="405.6" r="1.1" fill="#80b44f"/><circle cx="697.9" cy="369.7" r="1.7" fill="#64993f"/><circle cx="753.9" cy="417.4" r="2.3" fill="#528733"/><circle cx="729.1" cy="418.8" r="1.1" fill="#6c9f46"/><circle cx="753.4" cy="369.0" r="1.2" fill="#64993f"/><circle cx="775.1" cy="431.6" r="1.3" fill="#528733"/><circle cx="723.3" cy="397.5" r="1.9" fill="#5a8f37"/><circle cx="692.0" cy="390.9" r="2.3" fill="#5a8f37"/><circle cx="771.0" cy="397.3" r="1.6" fill="#528733"/><circle cx="727.1" cy="403.3" r="1.5" fill="#64993f"/><circle cx="700.3" cy="397.9" r="1.0" fill="#5a8f37"/><circle cx="716.6" cy="305.6" r="1.5" fill="#64993f"/><circle cx="721.5" cy="353.0" r="1.3" fill="#5a8f37"/><circle cx="720.0" cy="338.8" r="1.2" fill="#6c9f46"/><circle cx="691.8" cy="412.3" r="1.1" fill="#74a94a"/><circle cx="735.6" cy="324.7" r="2.2" fill="#74a94a"/><circle cx="723.1" cy="411.6" r="1.1" fill="#528733"/><circle cx="707.9" cy="335.0" r="1.0" fill="#528733"/><circle cx="728.8" cy="364.6" r="1.4" fill="#64993f"/><circle cx="724.8" cy="350.3" r="2.2" fill="#80b44f"/><circle cx="723.0" cy="366.8" r="2.2" fill="#528733"/><circle cx="763.0" cy="399.4" r="1.3" fill="#80b44f"/><circle cx="695.8" cy="354.6" r="2.1" fill="#74a94a"/><circle cx="742.3" cy="383.9" r="1.5" fill="#528733"/><circle cx="731.9" cy="388.4" r="1.8" fill="#528733"/><circle cx="731.6" cy="365.7" r="1.6" fill="#5a8f37"/><circle cx="680.4" cy="393.3" r="1.8" fill="#64993f"/><circle cx="730.3" cy="385.3" r="2.3" fill="#5a8f37"/><circle cx="719.2" cy="345.8" r="2.2" fill="#5a8f37"/><circle cx="752.4" cy="371.5" r="1.8" fill="#74a94a"/><circle cx="729.2" cy="375.2" r="1.3" fill="#5a8f37"/><circle cx="732.6" cy="381.4" r="1.8" fill="#5a8f37"/><circle cx="692.4" cy="390.6" r="1.2" fill="#74a94a"/><circle cx="737.0" cy="304.7" r="1.7" fill="#80b44f"/><circle cx="741.4" cy="397.5" r="1.1" fill="#64993f"/><circle cx="760.5" cy="363.6" r="2.3" fill="#5a8f37"/><circle cx="715.7" cy="381.4" r="1.0" fill="#528733"/><circle cx="727.2" cy="337.8" r="2.0" fill="#6c9f46"/><circle cx="712.2" cy="436.8" r="2.2" fill="#5a8f37"/><circle cx="690.7" cy="354.0" r="2.1" fill="#6c9f46"/><circle cx="786.6" cy="399.7" r="1.3" fill="#528733"/><circle cx="724.6" cy="446.3" r="1.0" fill="#5a8f37"/><circle cx="710.5" cy="362.4" r="2.2" fill="#80b44f"/><circle cx="743.0" cy="411.0" r="1.1" fill="#528733"/><circle cx="741.4" cy="347.3" r="1.9" fill="#64993f"/><circle cx="724.0" cy="437.1" r="1.1" fill="#6c9f46"/><circle cx="731.5" cy="310.1" r="1.7" fill="#80b44f"/><circle cx="777.0" cy="431.8" r="2.1" fill="#528733"/><circle cx="728.7" cy="314.2" r="1.8" fill="#5a8f37"/><circle cx="736.3" cy="318.2" r="1.1" fill="#5a8f37"/><circle cx="711.9" cy="320.6" r="1.4" fill="#80b44f"/><circle cx="748.5" cy="322.1" r="1.1" fill="#528733"/><circle cx="770.4" cy="360.1" r="1.9" fill="#64993f"/><circle cx="738.9" cy="344.3" r="2.3" fill="#64993f"/><circle cx="761.0" cy="415.4" r="1.5" fill="#80b44f"/><circle cx="731.4" cy="310.5" r="1.4" fill="#528733"/><circle cx="702.0" cy="329.9" r="1.4" fill="#6c9f46"/><circle cx="732.2" cy="426.0" r="1.4" fill="#74a94a"/><circle cx="697.0" cy="363.4" r="1.7" fill="#64993f"/><circle cx="737.2" cy="391.7" r="1.6" fill="#74a94a"/><circle cx="761.5" cy="410.0" r="1.5" fill="#528733"/><circle cx="730.0" cy="404.7" r="1.5" fill="#6c9f46"/><circle cx="713.9" cy="375.4" r="1.3" fill="#64993f"/><circle cx="678.7" cy="394.0" r="1.8" fill="#5a8f37"/><circle cx="661.6" cy="417.0" r="1.9" fill="#74a94a"/><circle cx="725.3" cy="330.0" r="1.1" fill="#64993f"/><circle cx="707.7" cy="355.1" r="1.9" fill="#528733"/><circle cx="693.4" cy="394.0" r="1.9" fill="#5a8f37"/><circle cx="715.7" cy="324.9" r="1.1" fill="#80b44f"/><circle cx="753.6" cy="329.2" r="1.5" fill="#64993f"/><circle cx="688.5" cy="424.5" r="2.0" fill="#528733"/><circle cx="756.2" cy="425.1" r="1.4" fill="#528733"/><circle cx="730.0" cy="435.6" r="1.1" fill="#6c9f46"/><circle cx="723.1" cy="311.6" r="2.1" fill="#6c9f46"/><circle cx="719.3" cy="315.4" r="2.3" fill="#528733"/><circle cx="784.2" cy="402.7" r="1.7" fill="#80b44f"/><circle cx="701.9" cy="326.1" r="2.2" fill="#80b44f"/><circle cx="699.6" cy="349.7" r="1.6" fill="#528733"/><circle cx="764.4" cy="387.7" r="1.5" fill="#6c9f46"/><circle cx="759.4" cy="436.6" r="1.5" fill="#528733"/><circle cx="755.7" cy="378.5" r="1.5" fill="#528733"/><circle cx="733.6" cy="358.8" r="1.7" fill="#6c9f46"/><circle cx="727.4" cy="312.9" r="1.6" fill="#6c9f46"/><circle cx="677.9" cy="412.3" r="2.2" fill="#74a94a"/><circle cx="731.8" cy="449.2" r="1.5" fill="#80b44f"/><circle cx="713.5" cy="310.0" r="1.8" fill="#528733"/><circle cx="704.4" cy="442.5" r="2.2" fill="#74a94a"/><circle cx="763.1" cy="405.7" r="1.5" fill="#80b44f"/><circle cx="704.0" cy="347.4" r="2.0" fill="#64993f"/><circle cx="773.5" cy="436.3" r="1.0" fill="#6c9f46"/><circle cx="708.3" cy="409.8" r="1.1" fill="#64993f"/><circle cx="663.8" cy="409.5" r="1.5" fill="#74a94a"/><circle cx="762.7" cy="373.7" r="1.0" fill="#6c9f46"/><circle cx="723.0" cy="322.2" r="1.9" fill="#74a94a"/><circle cx="726.8" cy="333.0" r="1.7" fill="#64993f"/><circle cx="737.8" cy="320.4" r="1.6" fill="#528733"/><circle cx="722.1" cy="376.4" r="1.4" fill="#5a8f37"/><circle cx="767.5" cy="422.2" r="1.4" fill="#5a8f37"/><circle cx="703.7" cy="340.4" r="1.5" fill="#64993f"/><circle cx="737.3" cy="371.8" r="1.8" fill="#6c9f46"/><circle cx="704.0" cy="356.4" r="1.1" fill="#6c9f46"/><circle cx="693.9" cy="351.8" r="1.8" fill="#80b44f"/><circle cx="737.5" cy="366.8" r="1.7" fill="#528733"/><circle cx="767.4" cy="426.7" r="1.5" fill="#80b44f"/><circle cx="702.0" cy="431.7" r="1.5" fill="#74a94a"/><circle cx="758.2" cy="380.8" r="1.8" fill="#6c9f46"/><circle cx="755.1" cy="435.0" r="1.3" fill="#5a8f37"/><circle cx="726.6" cy="319.0" r="1.8" fill="#5a8f37"/><circle cx="725.3" cy="331.2" r="1.2" fill="#74a94a"/><circle cx="726.7" cy="440.6" r="2.1" fill="#80b44f"/><circle cx="685.9" cy="392.0" r="1.5" fill="#80b44f"/><circle cx="753.8" cy="328.2" r="1.3" fill="#6c9f46"/><circle cx="706.7" cy="335.0" r="2.0" fill="#74a94a"/><circle cx="713.6" cy="420.5" r="2.1" fill="#6c9f46"/><circle cx="755.1" cy="349.6" r="1.5" fill="#5a8f37"/><circle cx="745.0" cy="430.2" r="1.2" fill="#6c9f46"/><circle cx="725.9" cy="442.8" r="1.8" fill="#64993f"/><circle cx="743.6" cy="380.5" r="1.4" fill="#64993f"/><circle cx="728.0" cy="364.1" r="1.4" fill="#74a94a"/><circle cx="723.1" cy="356.1" r="1.4" fill="#64993f"/><circle cx="699.0" cy="424.6" r="1.1" fill="#528733"/><circle cx="774.7" cy="357.2" r="2.2" fill="#5a8f37"/><circle cx="710.6" cy="310.2" r="1.9" fill="#64993f"/><circle cx="759.3" cy="358.1" r="1.9" fill="#6c9f46"/><circle cx="726.2" cy="342.8" r="1.1" fill="#528733"/><circle cx="768.1" cy="346.6" r="1.1" fill="#80b44f"/><circle cx="696.0" cy="434.4" r="2.1" fill="#5a8f37"/><circle cx="717.7" cy="359.8" r="1.8" fill="#528733"/><circle cx="678.8" cy="441.9" r="2.2" fill="#6c9f46"/><circle cx="688.3" cy="427.7" r="1.6" fill="#80b44f"/><circle cx="750.4" cy="354.1" r="2.3" fill="#528733"/><circle cx="721.8" cy="433.8" r="1.5" fill="#80b44f"/><circle cx="702.0" cy="414.8" r="1.1" fill="#80b44f"/><circle cx="707.4" cy="365.2" r="1.9" fill="#6c9f46"/><circle cx="719.0" cy="315.4" r="1.1" fill="#6c9f46"/><circle cx="678.0" cy="403.8" r="1.5" fill="#5a8f37"/><circle cx="711.4" cy="396.9" r="1.6" fill="#528733"/><circle cx="728.3" cy="310.1" r="1.4" fill="#5a8f37"/><circle cx="726.6" cy="360.1" r="1.7" fill="#74a94a"/><circle cx="701.7" cy="338.6" r="1.3" fill="#528733"/><circle cx="722.8" cy="370.5" r="1.7" fill="#6c9f46"/><circle cx="698.6" cy="334.1" r="1.6" fill="#80b44f"/><circle cx="763.1" cy="395.9" r="2.2" fill="#5a8f37"/><circle cx="742.4" cy="423.9" r="2.0" fill="#528733"/><circle cx="736.7" cy="430.5" r="1.4" fill="#528733"/><circle cx="707.5" cy="427.1" r="2.3" fill="#528733"/><circle cx="692.5" cy="417.3" r="1.4" fill="#74a94a"/><circle cx="744.4" cy="320.3" r="2.2" fill="#528733"/><circle cx="736.7" cy="379.7" r="1.8" fill="#528733"/><circle cx="771.1" cy="417.6" r="2.0" fill="#74a94a"/><circle cx="741.0" cy="416.8" r="1.3" fill="#74a94a"/><circle cx="713.4" cy="437.2" r="1.9" fill="#74a94a"/><circle cx="739.4" cy="353.0" r="1.4" fill="#64993f"/><circle cx="739.2" cy="321.0" r="2.0" fill="#6c9f46"/><circle cx="734.4" cy="327.9" r="2.0" fill="#80b44f"/><circle cx="684.8" cy="443.9" r="1.5" fill="#80b44f"/><circle cx="727.4" cy="317.1" r="2.0" fill="#74a94a"/><circle cx="756.6" cy="344.6" r="1.6" fill="#80b44f"/><circle cx="740.3" cy="362.5" r="1.4" fill="#64993f"/><circle cx="677.7" cy="384.4" r="1.3" fill="#6c9f46"/><circle cx="725.5" cy="440.0" r="1.6" fill="#80b44f"/><circle cx="737.1" cy="407.5" r="1.1" fill="#5a8f37"/><circle cx="701.4" cy="431.1" r="1.4" fill="#6c9f46"/><circle cx="732.4" cy="421.1" r="1.8" fill="#74a94a"/><circle cx="709.5" cy="353.8" r="1.1" fill="#64993f"/><circle cx="731.7" cy="428.8" r="1.3" fill="#74a94a"/><circle cx="769.2" cy="408.2" r="1.5" fill="#80b44f"/><circle cx="768.0" cy="430.6" r="1.9" fill="#6c9f46"/><circle cx="669.6" cy="410.5" r="2.2" fill="#80b44f"/><circle cx="744.5" cy="376.1" r="1.4" fill="#6c9f46"/><circle cx="763.2" cy="389.8" r="1.8" fill="#64993f"/><circle cx="714.9" cy="425.9" r="1.3" fill="#528733"/><circle cx="730.6" cy="372.1" r="1.6" fill="#528733"/><circle cx="739.3" cy="308.6" r="1.7" fill="#528733"/><circle cx="715.7" cy="410.4" r="2.1" fill="#64993f"/><circle cx="790.0" cy="406.1" r="2.1" fill="#6c9f46"/><circle cx="732.2" cy="386.5" r="2.2" fill="#64993f"/><circle cx="768.8" cy="360.7" r="1.5" fill="#64993f"/><circle cx="721.9" cy="413.1" r="1.2" fill="#5a8f37"/><circle cx="720.7" cy="439.9" r="2.3" fill="#74a94a"/><circle cx="756.6" cy="410.8" r="1.1" fill="#64993f"/><circle cx="714.0" cy="420.3" r="2.3" fill="#528733"/><circle cx="700.2" cy="337.5" r="1.2" fill="#64993f"/><circle cx="733.0" cy="448.2" r="2.1" fill="#6c9f46"/><circle cx="735.5" cy="362.9" r="1.7" fill="#80b44f"/><circle cx="737.9" cy="397.5" r="1.0" fill="#64993f"/><circle cx="695.4" cy="445.4" r="1.2" fill="#74a94a"/><circle cx="742.8" cy="308.6" r="2.1" fill="#528733"/><circle cx="705.7" cy="322.3" r="1.3" fill="#5a8f37"/><circle cx="736.4" cy="314.9" r="1.9" fill="#528733"/><circle cx="694.4" cy="422.8" r="1.8" fill="#5a8f37"/><circle cx="696.5" cy="346.2" r="1.7" fill="#6c9f46"/><circle cx="682.3" cy="411.7" r="1.7" fill="#5a8f37"/><circle cx="770.4" cy="415.7" r="1.1" fill="#64993f"/><circle cx="799.1" cy="408.1" r="1.0" fill="#80b44f"/><circle cx="730.8" cy="424.2" r="2.0" fill="#6c9f46"/><circle cx="687.6" cy="345.9" r="1.5" fill="#528733"/><circle cx="717.1" cy="416.5" r="1.2" fill="#5a8f37"/><circle cx="733.7" cy="337.3" r="1.0" fill="#528733"/><circle cx="686.8" cy="365.0" r="2.1" fill="#528733"/><circle cx="714.3" cy="429.0" r="2.0" fill="#5a8f37"/><circle cx="730.4" cy="318.4" r="1.3" fill="#74a94a"/><circle cx="670.6" cy="424.9" r="1.3" fill="#528733"/><circle cx="704.2" cy="327.5" r="1.5" fill="#5a8f37"/><circle cx="701.5" cy="429.5" r="1.9" fill="#80b44f"/><circle cx="731.2" cy="345.2" r="1.4" fill="#528733"/><circle cx="758.4" cy="379.1" r="1.5" fill="#64993f"/><circle cx="682.6" cy="417.6" r="1.1" fill="#528733"/><circle cx="784.2" cy="403.4" r="1.9" fill="#5a8f37"/><circle cx="699.4" cy="429.5" r="1.6" fill="#6c9f46"/><circle cx="739.1" cy="311.0" r="2.1" fill="#80b44f"/><circle cx="735.7" cy="430.2" r="2.3" fill="#5a8f37"/><circle cx="690.7" cy="362.5" r="1.6" fill="#80b44f"/><circle cx="738.3" cy="340.2" r="2.0" fill="#528733"/><circle cx="704.5" cy="383.6" r="1.1" fill="#64993f"/><circle cx="683.8" cy="401.3" r="1.4" fill="#64993f"/><circle cx="751.4" cy="379.8" r="1.6" fill="#64993f"/><circle cx="738.8" cy="398.8" r="2.1" fill="#80b44f"/><circle cx="734.7" cy="340.4" r="1.7" fill="#80b44f"/><circle cx="774.9" cy="396.0" r="1.2" fill="#80b44f"/><circle cx="721.7" cy="423.7" r="1.2" fill="#528733"/><circle cx="757.3" cy="343.3" r="1.4" fill="#528733"/><circle cx="737.5" cy="435.0" r="2.1" fill="#6c9f46"/><circle cx="732.1" cy="431.9" r="2.1" fill="#5a8f37"/><circle cx="715.5" cy="386.7" r="1.8" fill="#6c9f46"/><circle cx="721.8" cy="397.6" r="1.3" fill="#6c9f46"/><circle cx="720.0" cy="367.3" r="1.1" fill="#74a94a"/><circle cx="714.3" cy="429.0" r="2.0" fill="#528733"/><circle cx="699.0" cy="413.0" r="1.1" fill="#528733"/><circle cx="704.9" cy="430.7" r="1.2" fill="#80b44f"/><circle cx="741.2" cy="421.6" r="1.4" fill="#74a94a"/><circle cx="740.2" cy="393.6" r="2.2" fill="#80b44f"/><circle cx="732.4" cy="410.2" r="1.7" fill="#528733"/><circle cx="735.9" cy="349.8" r="1.1" fill="#64993f"/><circle cx="751.1" cy="390.9" r="2.0" fill="#80b44f"/><circle cx="758.5" cy="322.9" r="1.3" fill="#6c9f46"/><circle cx="707.9" cy="421.6" r="1.8" fill="#6c9f46"/><circle cx="766.7" cy="429.4" r="1.8" fill="#6c9f46"/><circle cx="747.2" cy="377.6" r="1.2" fill="#5a8f37"/><circle cx="697.0" cy="354.4" r="1.2" fill="#5a8f37"/><circle cx="772.5" cy="361.8" r="1.6" fill="#528733"/><circle cx="690.5" cy="382.1" r="1.8" fill="#74a94a"/><circle cx="731.1" cy="446.9" r="1.7" fill="#64993f"/><circle cx="699.3" cy="366.2" r="1.7" fill="#5a8f37"/><circle cx="712.8" cy="407.1" r="2.1" fill="#74a94a"/><circle cx="709.4" cy="446.0" r="1.1" fill="#74a94a"/><circle cx="729.8" cy="353.1" r="1.8" fill="#6c9f46"/><circle cx="700.1" cy="414.8" r="1.3" fill="#64993f"/><circle cx="732.6" cy="395.9" r="1.2" fill="#6c9f46"/><circle cx="704.4" cy="365.4" r="2.1" fill="#6c9f46"/><circle cx="700.4" cy="365.8" r="1.0" fill="#80b44f"/><circle cx="732.7" cy="352.3" r="1.1" fill="#80b44f"/><circle cx="701.4" cy="415.3" r="1.1" fill="#5a8f37"/><circle cx="732.3" cy="309.4" r="1.7" fill="#6c9f46"/><circle cx="754.4" cy="408.2" r="1.1" fill="#64993f"/><circle cx="771.2" cy="415.5" r="2.1" fill="#6c9f46"/><circle cx="719.5" cy="348.7" r="2.2" fill="#5a8f37"/><circle cx="761.6" cy="319.2" r="1.5" fill="#74a94a"/><circle cx="717.1" cy="404.4" r="1.3" fill="#6c9f46"/><circle cx="729.4" cy="385.1" r="1.3" fill="#64993f"/><circle cx="733.2" cy="432.9" r="1.5" fill="#80b44f"/><circle cx="690.3" cy="436.8" r="2.0" fill="#64993f"/><circle cx="720.0" cy="324.8" r="1.5" fill="#80b44f"/><circle cx="697.9" cy="388.0" r="1.5" fill="#74a94a"/><circle cx="726.3" cy="381.5" r="1.2" fill="#5a8f37"/><circle cx="721.4" cy="369.6" r="1.4" fill="#528733"/><circle cx="722.4" cy="329.5" r="1.8" fill="#64993f"/><circle cx="701.6" cy="333.0" r="1.9" fill="#528733"/><circle cx="728.8" cy="387.2" r="1.2" fill="#64993f"/><circle cx="701.6" cy="333.5" r="1.2" fill="#74a94a"/><circle cx="707.8" cy="377.6" r="1.5" fill="#528733"/><circle cx="698.5" cy="451.2" r="1.7" fill="#528733"/><circle cx="714.9" cy="374.0" r="1.8" fill="#74a94a"/><circle cx="731.1" cy="432.7" r="1.8" fill="#74a94a"/><circle cx="692.0" cy="413.3" r="2.3" fill="#6c9f46"/><circle cx="745.3" cy="367.6" r="2.2" fill="#80b44f"/><circle cx="782.7" cy="385.5" r="1.1" fill="#74a94a"/><circle cx="688.6" cy="379.0" r="1.8" fill="#528733"/><circle cx="709.7" cy="314.6" r="1.5" fill="#6c9f46"/><circle cx="753.8" cy="391.1" r="2.0" fill="#64993f"/><circle cx="710.6" cy="392.9" r="1.4" fill="#528733"/><circle cx="729.2" cy="318.7" r="2.2" fill="#6c9f46"/><circle cx="698.4" cy="361.3" r="2.0" fill="#74a94a"/><circle cx="709.8" cy="380.6" r="1.5" fill="#528733"/><circle cx="722.8" cy="399.2" r="1.2" fill="#5a8f37"/><circle cx="701.0" cy="331.2" r="1.4" fill="#80b44f"/><circle cx="721.9" cy="443.3" r="2.3" fill="#6c9f46"/><circle cx="722.7" cy="365.8" r="2.1" fill="#5a8f37"/><circle cx="766.5" cy="376.2" r="1.0" fill="#6c9f46"/><circle cx="721.1" cy="407.1" r="1.7" fill="#80b44f"/><circle cx="735.4" cy="319.0" r="2.1" fill="#80b44f"/><circle cx="758.2" cy="421.3" r="1.7" fill="#80b44f"/><circle cx="731.7" cy="337.6" r="1.1" fill="#5a8f37"/><circle cx="760.7" cy="361.0" r="1.8" fill="#80b44f"/><circle cx="755.0" cy="426.6" r="1.7" fill="#80b44f"/><circle cx="716.2" cy="387.2" r="1.0" fill="#74a94a"/><circle cx="725.8" cy="416.6" r="1.0" fill="#6c9f46"/><circle cx="750.1" cy="363.7" r="1.6" fill="#74a94a"/><circle cx="672.3" cy="435.2" r="1.1" fill="#5a8f37"/><circle cx="746.2" cy="316.0" r="1.4" fill="#5a8f37"/><circle cx="754.8" cy="341.0" r="1.1" fill="#6c9f46"/><circle cx="769.6" cy="372.4" r="1.4" fill="#80b44f"/><circle cx="684.3" cy="374.3" r="1.7" fill="#64993f"/><circle cx="723.8" cy="315.1" r="1.4" fill="#6c9f46"/><circle cx="719.7" cy="385.3" r="1.7" fill="#80b44f"/><circle cx="691.2" cy="364.6" r="1.7" fill="#74a94a"/><circle cx="732.9" cy="357.5" r="1.2" fill="#528733"/><circle cx="701.2" cy="367.2" r="1.0" fill="#5a8f37"/><circle cx="739.8" cy="380.7" r="1.3" fill="#64993f"/><circle cx="739.6" cy="361.6" r="2.1" fill="#64993f"/><circle cx="761.0" cy="403.7" r="1.7" fill="#528733"/><circle cx="701.5" cy="342.2" r="1.4" fill="#80b44f"/><circle cx="751.7" cy="390.9" r="1.2" fill="#74a94a"/><circle cx="773.4" cy="359.7" r="1.9" fill="#64993f"/><circle cx="691.8" cy="370.1" r="1.2" fill="#64993f"/><circle cx="747.4" cy="397.9" r="1.0" fill="#74a94a"/><circle cx="679.5" cy="386.6" r="1.0" fill="#528733"/><circle cx="752.2" cy="423.7" r="2.2" fill="#74a94a"/><circle cx="737.3" cy="402.3" r="1.4" fill="#6c9f46"/><circle cx="742.5" cy="322.9" r="2.3" fill="#80b44f"/><circle cx="760.4" cy="419.9" r="1.2" fill="#528733"/><circle cx="753.1" cy="360.7" r="1.6" fill="#64993f"/><circle cx="755.1" cy="315.4" r="1.5" fill="#6c9f46"/><circle cx="734.8" cy="377.7" r="2.1" fill="#80b44f"/><circle cx="677.3" cy="390.1" r="2.0" fill="#528733"/><circle cx="748.1" cy="361.8" r="1.6" fill="#80b44f"/><circle cx="731.5" cy="331.8" r="2.1" fill="#528733"/><circle cx="756.5" cy="351.7" r="1.1" fill="#5a8f37"/><circle cx="699.5" cy="412.5" r="1.6" fill="#80b44f"/><circle cx="703.5" cy="426.3" r="1.2" fill="#528733"/><circle cx="740.3" cy="410.3" r="1.2" fill="#80b44f"/><circle cx="687.2" cy="433.2" r="2.1" fill="#64993f"/><circle cx="713.0" cy="388.2" r="2.1" fill="#74a94a"/><circle cx="768.2" cy="404.6" r="2.1" fill="#74a94a"/><circle cx="745.0" cy="367.2" r="1.3" fill="#64993f"/><circle cx="773.5" cy="423.0" r="1.2" fill="#80b44f"/><circle cx="715.0" cy="394.1" r="1.9" fill="#64993f"/><circle cx="720.8" cy="332.4" r="1.9" fill="#64993f"/><circle cx="740.0" cy="359.0" r="1.8" fill="#528733"/><circle cx="771.4" cy="384.3" r="1.9" fill="#528733"/><circle cx="702.0" cy="432.3" r="1.3" fill="#74a94a"/><circle cx="712.0" cy="373.5" r="1.9" fill="#64993f"/><circle cx="744.8" cy="396.9" r="1.1" fill="#74a94a"/><circle cx="679.3" cy="412.8" r="2.3" fill="#5a8f37"/><circle cx="741.0" cy="345.4" r="1.9" fill="#5a8f37"/><circle cx="691.1" cy="342.4" r="1.1" fill="#80b44f"/><circle cx="740.6" cy="397.3" r="1.4" fill="#74a94a"/><circle cx="705.1" cy="444.8" r="1.9" fill="#528733"/><circle cx="781.8" cy="434.6" r="1.6" fill="#6c9f46"/><circle cx="753.2" cy="374.1" r="1.8" fill="#528733"/><circle cx="734.2" cy="360.5" r="1.5" fill="#528733"/><circle cx="764.5" cy="330.9" r="1.9" fill="#5a8f37"/><circle cx="720.8" cy="391.6" r="1.6" fill="#80b44f"/><circle cx="680.8" cy="393.8" r="1.9" fill="#64993f"/><circle cx="719.6" cy="409.5" r="1.9" fill="#528733"/><circle cx="745.9" cy="408.7" r="1.2" fill="#80b44f"/><circle cx="725.2" cy="363.6" r="1.7" fill="#6c9f46"/><circle cx="763.6" cy="360.7" r="2.0" fill="#80b44f"/><circle cx="694.3" cy="346.3" r="1.1" fill="#80b44f"/><circle cx="708.9" cy="375.3" r="1.7" fill="#5a8f37"/><circle cx="768.8" cy="383.2" r="1.1" fill="#80b44f"/><circle cx="750.5" cy="407.1" r="1.6" fill="#80b44f"/><circle cx="772.7" cy="376.4" r="1.2" fill="#528733"/><circle cx="743.2" cy="373.0" r="1.6" fill="#6c9f46"/><circle cx="732.9" cy="309.4" r="1.1" fill="#74a94a"/><circle cx="706.1" cy="344.7" r="1.5" fill="#6c9f46"/><circle cx="731.4" cy="379.4" r="1.3" fill="#6c9f46"/><circle cx="700.0" cy="356.4" r="1.3" fill="#5a8f37"/><circle cx="741.8" cy="385.1" r="1.7" fill="#528733"/><circle cx="749.0" cy="377.0" r="1.2" fill="#80b44f"/><circle cx="722.6" cy="330.6" r="1.0" fill="#80b44f"/><circle cx="710.6" cy="429.7" r="1.1" fill="#64993f"/><circle cx="759.9" cy="409.8" r="1.4" fill="#528733"/><circle cx="708.3" cy="370.3" r="1.3" fill="#80b44f"/><circle cx="734.7" cy="339.3" r="1.1" fill="#528733"/><circle cx="745.7" cy="317.0" r="1.5" fill="#74a94a"/><circle cx="786.9" cy="418.9" r="1.3" fill="#528733"/><circle cx="730.0" cy="305.2" r="1.4" fill="#80b44f"/><circle cx="712.6" cy="382.6" r="1.2" fill="#80b44f"/><circle cx="717.7" cy="404.7" r="1.7" fill="#74a94a"/><circle cx="707.1" cy="380.5" r="1.4" fill="#6c9f46"/><circle cx="707.8" cy="433.8" r="1.3" fill="#5a8f37"/><circle cx="704.0" cy="362.0" r="1.3" fill="#5a8f37"/><circle cx="716.7" cy="423.4" r="2.1" fill="#74a94a"/><circle cx="704.4" cy="411.5" r="1.7" fill="#528733"/><circle cx="716.3" cy="426.0" r="1.8" fill="#6c9f46"/><circle cx="728.0" cy="326.9" r="1.4" fill="#528733"/><circle cx="741.3" cy="359.3" r="1.4" fill="#6c9f46"/><circle cx="706.5" cy="419.1" r="1.9" fill="#6c9f46"/><circle cx="700.9" cy="396.7" r="1.8" fill="#528733"/><circle cx="737.3" cy="385.0" r="2.0" fill="#74a94a"/><circle cx="759.2" cy="395.7" r="1.4" fill="#74a94a"/><circle cx="740.2" cy="444.1" r="1.9" fill="#80b44f"/><circle cx="738.0" cy="385.8" r="2.2" fill="#64993f"/><circle cx="750.2" cy="336.6" r="2.1" fill="#80b44f"/><circle cx="697.7" cy="411.7" r="2.2" fill="#74a94a"/><circle cx="766.9" cy="375.0" r="1.1" fill="#80b44f"/><circle cx="710.4" cy="388.8" r="1.8" fill="#64993f"/><circle cx="727.1" cy="374.7" r="1.6" fill="#80b44f"/><circle cx="752.1" cy="417.9" r="1.6" fill="#64993f"/><circle cx="708.1" cy="338.0" r="1.1" fill="#528733"/><circle cx="712.6" cy="423.7" r="1.3" fill="#528733"/><circle cx="692.4" cy="359.7" r="1.2" fill="#528733"/><circle cx="755.8" cy="373.5" r="1.1" fill="#80b44f"/><circle cx="745.7" cy="441.7" r="1.8" fill="#80b44f"/><circle cx="744.5" cy="352.1" r="2.0" fill="#5a8f37"/><circle cx="715.1" cy="319.9" r="2.2" fill="#5a8f37"/><circle cx="769.4" cy="441.0" r="1.3" fill="#64993f"/><circle cx="710.5" cy="430.0" r="2.1" fill="#80b44f"/><circle cx="687.2" cy="410.4" r="1.2" fill="#74a94a"/><circle cx="716.8" cy="386.5" r="1.3" fill="#6c9f46"/><circle cx="723.4" cy="366.2" r="1.7" fill="#528733"/><circle cx="716.2" cy="370.7" r="1.1" fill="#6c9f46"/><circle cx="735.6" cy="388.8" r="2.2" fill="#5a8f37"/><circle cx="705.5" cy="375.1" r="1.6" fill="#5a8f37"/><circle cx="725.9" cy="433.6" r="1.7" fill="#64993f"/><circle cx="768.7" cy="345.8" r="2.1" fill="#64993f"/><circle cx="764.2" cy="373.6" r="1.8" fill="#80b44f"/><circle cx="753.8" cy="404.1" r="1.9" fill="#80b44f"/><circle cx="699.2" cy="439.4" r="1.1" fill="#6c9f46"/><circle cx="695.5" cy="364.6" r="1.4" fill="#5a8f37"/><circle cx="715.0" cy="375.8" r="1.3" fill="#80b44f"/><circle cx="708.7" cy="438.6" r="1.1" fill="#5a8f37"/><circle cx="711.7" cy="432.6" r="1.8" fill="#528733"/><circle cx="735.4" cy="401.9" r="1.1" fill="#6c9f46"/><circle cx="721.0" cy="328.2" r="1.3" fill="#80b44f"/><circle cx="699.2" cy="449.5" r="1.5" fill="#80b44f"/><circle cx="704.4" cy="402.2" r="1.6" fill="#74a94a"/><circle cx="749.9" cy="312.9" r="1.3" fill="#74a94a"/><circle cx="736.0" cy="371.7" r="1.4" fill="#64993f"/><circle cx="726.4" cy="392.3" r="1.4" fill="#5a8f37"/><circle cx="723.6" cy="431.7" r="1.4" fill="#64993f"/><circle cx="707.1" cy="335.8" r="1.5" fill="#528733"/><circle cx="738.0" cy="377.6" r="2.0" fill="#528733"/><circle cx="784.2" cy="392.3" r="1.0" fill="#80b44f"/><circle cx="754.0" cy="440.7" r="2.2" fill="#6c9f46"/><circle cx="760.3" cy="379.1" r="1.5" fill="#5a8f37"/><circle cx="768.9" cy="354.1" r="1.4" fill="#64993f"/><circle cx="695.0" cy="408.4" r="2.0" fill="#80b44f"/><circle cx="756.9" cy="384.4" r="1.4" fill="#6c9f46"/><circle cx="695.8" cy="432.3" r="2.2" fill="#528733"/><circle cx="695.8" cy="404.6" r="1.8" fill="#74a94a"/><circle cx="691.5" cy="394.8" r="1.4" fill="#64993f"/><circle cx="759.2" cy="392.7" r="1.6" fill="#74a94a"/><circle cx="777.4" cy="387.0" r="1.3" fill="#64993f"/><circle cx="691.5" cy="425.0" r="1.4" fill="#528733"/><circle cx="677.5" cy="381.6" r="1.6" fill="#528733"/><circle cx="751.4" cy="306.7" r="1.4" fill="#5a8f37"/><circle cx="760.4" cy="335.6" r="1.7" fill="#74a94a"/><circle cx="755.3" cy="410.2" r="1.9" fill="#74a94a"/><circle cx="726.3" cy="330.5" r="1.9" fill="#80b44f"/><circle cx="743.0" cy="434.0" r="1.3" fill="#64993f"/><circle cx="722.7" cy="387.7" r="2.2" fill="#5a8f37"/><circle cx="696.2" cy="345.4" r="2.2" fill="#80b44f"/><circle cx="682.1" cy="401.2" r="1.0" fill="#528733"/><circle cx="708.4" cy="320.4" r="1.6" fill="#5a8f37"/><circle cx="738.5" cy="369.6" r="1.2" fill="#528733"/><circle cx="753.3" cy="427.3" r="1.9" fill="#5a8f37"/><circle cx="751.8" cy="381.5" r="1.9" fill="#64993f"/><circle cx="733.0" cy="384.2" r="2.1" fill="#80b44f"/><circle cx="706.5" cy="428.3" r="1.2" fill="#80b44f"/><circle cx="738.3" cy="361.3" r="1.2" fill="#74a94a"/><circle cx="740.8" cy="339.4" r="1.4" fill="#64993f"/><circle cx="721.3" cy="370.7" r="1.4" fill="#5a8f37"/><circle cx="749.4" cy="327.1" r="1.8" fill="#5a8f37"/><circle cx="736.1" cy="387.6" r="1.9" fill="#80b44f"/><circle cx="752.1" cy="322.1" r="1.4" fill="#5a8f37"/><circle cx="800.1" cy="406.3" r="1.3" fill="#528733"/><circle cx="719.0" cy="344.9" r="2.2" fill="#74a94a"/><circle cx="751.2" cy="444.8" r="1.2" fill="#64993f"/><circle cx="740.6" cy="379.9" r="1.5" fill="#6c9f46"/><circle cx="722.1" cy="348.7" r="1.2" fill="#80b44f"/><circle cx="766.9" cy="400.1" r="1.4" fill="#528733"/><circle cx="770.5" cy="397.1" r="1.1" fill="#64993f"/><circle cx="732.3" cy="305.0" r="1.2" fill="#5a8f37"/><circle cx="781.1" cy="378.0" r="2.2" fill="#6c9f46"/><circle cx="685.1" cy="412.2" r="2.0" fill="#5a8f37"/><circle cx="677.9" cy="424.2" r="1.1" fill="#74a94a"/><circle cx="750.9" cy="418.9" r="1.5" fill="#6c9f46"/><circle cx="754.9" cy="400.0" r="1.4" fill="#80b44f"/><circle cx="730.6" cy="365.4" r="1.6" fill="#528733"/><circle cx="752.4" cy="396.8" r="1.2" fill="#64993f"/><circle cx="710.1" cy="360.9" r="2.2" fill="#6c9f46"/><circle cx="713.4" cy="360.8" r="1.3" fill="#528733"/><circle cx="764.2" cy="358.6" r="1.1" fill="#64993f"/><circle cx="704.5" cy="321.6" r="1.1" fill="#6c9f46"/><circle cx="699.2" cy="377.4" r="1.9" fill="#6c9f46"/><circle cx="752.6" cy="406.7" r="1.9" fill="#80b44f"/><circle cx="750.6" cy="418.8" r="1.3" fill="#64993f"/><circle cx="727.8" cy="444.3" r="2.2" fill="#80b44f"/><circle cx="697.2" cy="411.2" r="1.6" fill="#528733"/><circle cx="699.4" cy="370.9" r="2.0" fill="#74a94a"/><circle cx="711.1" cy="331.3" r="1.5" fill="#5a8f37"/><circle cx="739.9" cy="447.0" r="2.3" fill="#5a8f37"/><circle cx="754.0" cy="357.5" r="1.5" fill="#64993f"/><circle cx="714.6" cy="326.4" r="1.6" fill="#74a94a"/><circle cx="695.3" cy="343.9" r="2.1" fill="#64993f"/><circle cx="730.0" cy="339.6" r="1.6" fill="#528733"/><circle cx="730.6" cy="336.9" r="2.1" fill="#64993f"/><circle cx="766.7" cy="396.8" r="1.5" fill="#74a94a"/><circle cx="700.3" cy="439.9" r="2.2" fill="#528733"/><circle cx="751.0" cy="398.1" r="1.0" fill="#6c9f46"/><circle cx="728.0" cy="335.8" r="1.2" fill="#64993f"/><circle cx="760.1" cy="358.9" r="1.6" fill="#5a8f37"/><circle cx="747.1" cy="370.7" r="2.3" fill="#5a8f37"/><circle cx="711.0" cy="399.1" r="1.7" fill="#74a94a"/><circle cx="714.3" cy="322.5" r="1.2" fill="#528733"/><circle cx="723.7" cy="450.2" r="2.1" fill="#64993f"/><circle cx="707.1" cy="382.4" r="2.0" fill="#64993f"/><circle cx="762.2" cy="389.7" r="2.2" fill="#528733"/><circle cx="713.1" cy="336.8" r="1.8" fill="#528733"/><circle cx="717.6" cy="367.1" r="1.1" fill="#6c9f46"/><circle cx="697.2" cy="360.2" r="2.1" fill="#6c9f46"/><circle cx="714.7" cy="425.6" r="1.0" fill="#74a94a"/><circle cx="759.8" cy="399.6" r="2.1" fill="#74a94a"/><circle cx="722.8" cy="370.0" r="1.8" fill="#74a94a"/><circle cx="706.4" cy="444.8" r="2.0" fill="#6c9f46"/><circle cx="667.1" cy="400.6" r="1.6" fill="#6c9f46"/><circle cx="751.6" cy="407.1" r="1.9" fill="#80b44f"/><circle cx="719.9" cy="385.2" r="1.1" fill="#74a94a"/><circle cx="688.0" cy="388.3" r="2.1" fill="#5a8f37"/><circle cx="716.3" cy="393.6" r="2.2" fill="#80b44f"/><circle cx="738.6" cy="346.8" r="1.2" fill="#6c9f46"/><circle cx="728.4" cy="325.0" r="1.3" fill="#74a94a"/><circle cx="710.1" cy="376.1" r="2.3" fill="#528733"/><circle cx="756.1" cy="412.2" r="1.9" fill="#528733"/><circle cx="751.6" cy="378.8" r="2.3" fill="#80b44f"/><circle cx="699.5" cy="378.5" r="2.0" fill="#528733"/><circle cx="731.1" cy="423.4" r="1.7" fill="#5a8f37"/><circle cx="763.1" cy="361.8" r="1.8" fill="#6c9f46"/><circle cx="719.0" cy="397.4" r="1.1" fill="#64993f"/><circle cx="678.0" cy="408.4" r="1.4" fill="#5a8f37"/><circle cx="745.6" cy="405.2" r="1.3" fill="#64993f"/><circle cx="733.1" cy="420.2" r="2.2" fill="#6c9f46"/><circle cx="742.6" cy="426.9" r="1.7" fill="#528733"/><circle cx="768.7" cy="388.9" r="1.6" fill="#5a8f37"/><circle cx="732.2" cy="348.1" r="1.1" fill="#5a8f37"/><circle cx="731.8" cy="405.0" r="2.0" fill="#80b44f"/><circle cx="784.2" cy="382.7" r="1.2" fill="#6c9f46"/><circle cx="718.6" cy="418.9" r="1.8" fill="#5a8f37"/><circle cx="740.4" cy="406.5" r="2.1" fill="#64993f"/><circle cx="738.4" cy="361.1" r="1.5" fill="#528733"/><circle cx="728.4" cy="402.7" r="1.6" fill="#528733"/><circle cx="749.5" cy="371.7" r="2.0" fill="#528733"/><circle cx="693.8" cy="415.9" r="1.2" fill="#74a94a"/><circle cx="739.0" cy="309.4" r="1.1" fill="#528733"/><circle cx="752.2" cy="445.4" r="2.1" fill="#5a8f37"/><circle cx="736.7" cy="410.2" r="1.9" fill="#5a8f37"/><circle cx="698.5" cy="437.4" r="2.3" fill="#80b44f"/><circle cx="772.9" cy="430.9" r="1.9" fill="#74a94a"/><circle cx="775.1" cy="432.0" r="2.3" fill="#80b44f"/><circle cx="682.3" cy="430.2" r="1.4" fill="#6c9f46"/><circle cx="716.7" cy="422.3" r="1.5" fill="#64993f"/><circle cx="790.3" cy="397.2" r="1.5" fill="#6c9f46"/><circle cx="737.9" cy="417.4" r="1.7" fill="#80b44f"/><circle cx="730.8" cy="374.2" r="1.6" fill="#6c9f46"/><circle cx="764.0" cy="347.5" r="2.1" fill="#528733"/><circle cx="699.1" cy="443.1" r="1.9" fill="#528733"/><circle cx="729.3" cy="324.5" r="2.0" fill="#64993f"/><circle cx="712.3" cy="424.7" r="1.5" fill="#5a8f37"/><circle cx="755.2" cy="365.1" r="1.3" fill="#64993f"/><circle cx="698.0" cy="353.2" r="1.4" fill="#5a8f37"/><circle cx="727.8" cy="396.5" r="1.6" fill="#528733"/><circle cx="736.5" cy="420.8" r="2.2" fill="#74a94a"/><circle cx="719.3" cy="313.0" r="2.0" fill="#528733"/><circle cx="771.4" cy="410.1" r="1.7" fill="#5a8f37"/><circle cx="723.3" cy="392.8" r="1.6" fill="#6c9f46"/><circle cx="769.9" cy="379.3" r="1.0" fill="#64993f"/><circle cx="749.5" cy="423.5" r="2.0" fill="#5a8f37"/><circle cx="687.2" cy="389.0" r="1.1" fill="#5a8f37"/><circle cx="667.7" cy="414.0" r="2.1" fill="#74a94a"/><circle cx="757.9" cy="430.0" r="1.4" fill="#64993f"/><circle cx="678.7" cy="405.6" r="1.8" fill="#528733"/><circle cx="696.8" cy="348.0" r="1.8" fill="#5a8f37"/><circle cx="767.7" cy="398.0" r="1.6" fill="#6c9f46"/><circle cx="754.9" cy="324.8" r="2.1" fill="#64993f"/><circle cx="734.9" cy="308.1" r="1.8" fill="#528733"/><circle cx="696.6" cy="401.7" r="1.2" fill="#80b44f"/><circle cx="752.3" cy="372.9" r="1.4" fill="#64993f"/><circle cx="744.9" cy="355.9" r="1.2" fill="#74a94a"/><circle cx="730.1" cy="313.5" r="2.2" fill="#5a8f37"/><circle cx="710.3" cy="387.6" r="1.8" fill="#6c9f46"/><circle cx="696.0" cy="362.1" r="1.6" fill="#528733"/><circle cx="696.9" cy="366.2" r="1.1" fill="#5a8f37"/><circle cx="721.7" cy="349.2" r="1.6" fill="#5a8f37"/><circle cx="726.7" cy="304.0" r="1.6" fill="#74a94a"/><circle cx="741.8" cy="397.7" r="2.2" fill="#5a8f37"/><circle cx="742.8" cy="383.5" r="1.1" fill="#528733"/><circle cx="717.2" cy="422.7" r="1.5" fill="#80b44f"/><circle cx="716.4" cy="310.8" r="2.0" fill="#80b44f"/><circle cx="763.4" cy="434.2" r="1.6" fill="#6c9f46"/><circle cx="715.1" cy="400.7" r="1.8" fill="#528733"/><circle cx="716.7" cy="345.5" r="2.0" fill="#528733"/><circle cx="711.7" cy="345.9" r="2.0" fill="#74a94a"/><circle cx="737.2" cy="342.6" r="1.5" fill="#5a8f37"/><circle cx="689.9" cy="403.6" r="1.4" fill="#74a94a"/><circle cx="690.4" cy="352.1" r="1.8" fill="#528733"/><circle cx="746.0" cy="437.3" r="1.9" fill="#528733"/><circle cx="736.0" cy="414.1" r="1.4" fill="#64993f"/><circle cx="711.4" cy="316.5" r="2.1" fill="#5a8f37"/><circle cx="730.2" cy="373.7" r="1.1" fill="#64993f"/><circle cx="755.6" cy="414.2" r="1.1" fill="#80b44f"/><circle cx="732.3" cy="336.1" r="1.8" fill="#528733"/><circle cx="699.5" cy="363.4" r="1.2" fill="#64993f"/><circle cx="730.9" cy="310.0" r="1.0" fill="#528733"/><circle cx="722.8" cy="400.8" r="1.7" fill="#64993f"/><circle cx="755.1" cy="441.9" r="1.5" fill="#6c9f46"/><circle cx="751.5" cy="422.3" r="2.2" fill="#528733"/><circle cx="725.4" cy="425.6" r="1.5" fill="#74a94a"/><circle cx="750.6" cy="432.6" r="2.2" fill="#528733"/><circle cx="749.0" cy="314.1" r="1.6" fill="#528733"/><circle cx="755.8" cy="394.8" r="2.2" fill="#528733"/><circle cx="754.8" cy="399.2" r="1.3" fill="#64993f"/><circle cx="741.3" cy="316.9" r="2.2" fill="#6c9f46"/><circle cx="738.8" cy="398.9" r="1.5" fill="#64993f"/><circle cx="713.5" cy="451.3" r="1.0" fill="#6c9f46"/><circle cx="722.0" cy="408.8" r="1.5" fill="#64993f"/><circle cx="773.9" cy="409.2" r="1.1" fill="#5a8f37"/><circle cx="739.5" cy="412.3" r="1.1" fill="#64993f"/><circle cx="680.5" cy="415.1" r="1.3" fill="#74a94a"/><circle cx="777.0" cy="421.9" r="1.8" fill="#528733"/><circle cx="710.9" cy="415.2" r="1.8" fill="#74a94a"/><circle cx="724.0" cy="448.2" r="1.6" fill="#6c9f46"/><circle cx="757.7" cy="394.9" r="1.1" fill="#80b44f"/><circle cx="767.2" cy="378.9" r="1.5" fill="#74a94a"/><circle cx="714.6" cy="326.0" r="2.0" fill="#528733"/><circle cx="764.3" cy="342.3" r="1.3" fill="#528733"/><circle cx="710.4" cy="351.2" r="2.0" fill="#528733"/><circle cx="711.5" cy="351.7" r="2.2" fill="#64993f"/><circle cx="765.3" cy="357.5" r="1.9" fill="#5a8f37"/><circle cx="726.4" cy="326.0" r="2.0" fill="#64993f"/><circle cx="701.8" cy="373.3" r="2.1" fill="#528733"/><circle cx="724.9" cy="338.9" r="1.5" fill="#528733"/><circle cx="749.8" cy="408.1" r="1.1" fill="#64993f"/><circle cx="709.3" cy="398.6" r="1.7" fill="#528733"/><circle cx="770.4" cy="392.7" r="1.8" fill="#80b44f"/><circle cx="720.2" cy="358.5" r="2.1" fill="#64993f"/><circle cx="681.6" cy="445.4" r="1.2" fill="#6c9f46"/><circle cx="701.8" cy="383.4" r="2.2" fill="#80b44f"/><circle cx="760.2" cy="412.8" r="2.2" fill="#528733"/><circle cx="770.8" cy="405.0" r="1.6" fill="#5a8f37"/><circle cx="763.7" cy="434.6" r="1.5" fill="#80b44f"/><circle cx="723.1" cy="304.6" r="1.8" fill="#5a8f37"/><circle cx="689.9" cy="405.6" r="1.6" fill="#5a8f37"/><circle cx="742.8" cy="451.5" r="1.7" fill="#74a94a"/><circle cx="702.6" cy="402.4" r="2.0" fill="#80b44f"/><circle cx="703.6" cy="433.4" r="1.3" fill="#528733"/><circle cx="744.3" cy="346.6" r="1.3" fill="#528733"/><circle cx="733.1" cy="400.9" r="1.9" fill="#74a94a"/><circle cx="750.9" cy="394.7" r="2.0" fill="#80b44f"/><circle cx="717.1" cy="418.0" r="1.8" fill="#528733"/><circle cx="749.6" cy="365.8" r="1.9" fill="#64993f"/><circle cx="732.1" cy="353.2" r="1.5" fill="#74a94a"/><circle cx="731.2" cy="445.5" r="1.3" fill="#5a8f37"/><circle cx="744.2" cy="418.8" r="2.1" fill="#64993f"/><circle cx="719.1" cy="420.8" r="1.9" fill="#74a94a"/><circle cx="751.6" cy="381.6" r="1.2" fill="#528733"/><circle cx="768.5" cy="357.5" r="2.1" fill="#74a94a"/><circle cx="785.0" cy="395.9" r="1.8" fill="#80b44f"/><circle cx="718.3" cy="338.4" r="2.3" fill="#74a94a"/><circle cx="739.4" cy="400.0" r="1.8" fill="#6c9f46"/><circle cx="719.4" cy="345.3" r="1.3" fill="#80b44f"/><circle cx="707.4" cy="420.3" r="2.1" fill="#80b44f"/><circle cx="755.4" cy="313.7" r="1.4" fill="#5a8f37"/><circle cx="679.8" cy="407.3" r="2.0" fill="#74a94a"/><circle cx="715.6" cy="414.0" r="1.8" fill="#80b44f"/><circle cx="761.1" cy="387.1" r="1.7" fill="#5a8f37"/><circle cx="719.1" cy="387.9" r="1.4" fill="#80b44f"/><circle cx="688.3" cy="367.5" r="1.5" fill="#528733"/><circle cx="731.0" cy="326.0" r="1.5" fill="#64993f"/><circle cx="752.3" cy="364.3" r="1.9" fill="#80b44f"/><circle cx="699.5" cy="370.5" r="1.8" fill="#64993f"/><circle cx="712.9" cy="365.0" r="1.5" fill="#80b44f"/><circle cx="785.9" cy="391.7" r="2.1" fill="#74a94a"/><circle cx="679.6" cy="396.6" r="1.3" fill="#528733"/><circle cx="772.9" cy="357.4" r="1.5" fill="#64993f"/><circle cx="745.5" cy="310.7" r="1.5" fill="#74a94a"/><circle cx="726.2" cy="306.7" r="2.0" fill="#64993f"/><circle cx="707.4" cy="378.6" r="2.2" fill="#74a94a"/><circle cx="719.6" cy="355.6" r="2.3" fill="#6c9f46"/><circle cx="751.7" cy="345.4" r="1.8" fill="#5a8f37"/><circle cx="699.6" cy="439.0" r="1.7" fill="#5a8f37"/><circle cx="702.1" cy="392.7" r="2.2" fill="#80b44f"/><circle cx="753.4" cy="418.8" r="1.6" fill="#74a94a"/><circle cx="748.6" cy="404.8" r="1.7" fill="#74a94a"/><circle cx="717.4" cy="345.1" r="1.8" fill="#74a94a"/><circle cx="688.4" cy="360.8" r="1.6" fill="#74a94a"/><circle cx="762.4" cy="364.2" r="1.2" fill="#80b44f"/><circle cx="769.4" cy="417.3" r="1.4" fill="#5a8f37"/><circle cx="723.4" cy="372.3" r="1.3" fill="#64993f"/><circle cx="703.7" cy="353.4" r="1.7" fill="#80b44f"/><circle cx="708.8" cy="405.4" r="2.0" fill="#6c9f46"/><circle cx="753.4" cy="336.6" r="1.9" fill="#74a94a"/><circle cx="758.8" cy="421.4" r="1.9" fill="#5a8f37"/><circle cx="731.7" cy="356.6" r="1.7" fill="#80b44f"/><circle cx="693.8" cy="381.0" r="1.7" fill="#74a94a"/><circle cx="679.3" cy="378.5" r="1.4" fill="#74a94a"/><circle cx="704.6" cy="446.4" r="1.2" fill="#74a94a"/><circle cx="749.8" cy="399.1" r="1.9" fill="#5a8f37"/><circle cx="747.8" cy="384.8" r="2.0" fill="#64993f"/><circle cx="715.7" cy="411.6" r="1.4" fill="#6c9f46"/><circle cx="727.4" cy="331.2" r="1.9" fill="#5a8f37"/><circle cx="699.4" cy="433.1" r="1.2" fill="#74a94a"/><circle cx="718.8" cy="431.2" r="1.0" fill="#64993f"/><circle cx="727.2" cy="423.5" r="1.9" fill="#528733"/><circle cx="716.6" cy="408.8" r="1.2" fill="#74a94a"/><circle cx="745.3" cy="420.6" r="2.0" fill="#528733"/><circle cx="754.2" cy="356.9" r="1.5" fill="#74a94a"/><circle cx="718.0" cy="357.2" r="1.1" fill="#80b44f"/><circle cx="759.0" cy="352.4" r="1.4" fill="#6c9f46"/><circle cx="688.3" cy="410.1" r="1.9" fill="#74a94a"/><circle cx="736.6" cy="364.5" r="1.5" fill="#5a8f37"/><circle cx="709.5" cy="387.2" r="1.8" fill="#64993f"/><circle cx="721.0" cy="315.4" r="1.4" fill="#528733"/><circle cx="712.3" cy="395.4" r="2.2" fill="#6c9f46"/><circle cx="745.4" cy="363.1" r="2.0" fill="#528733"/><circle cx="732.7" cy="330.4" r="2.1" fill="#74a94a"/><circle cx="682.9" cy="418.3" r="1.2" fill="#5a8f37"/><circle cx="748.8" cy="387.2" r="1.9" fill="#74a94a"/><circle cx="717.3" cy="423.2" r="1.2" fill="#528733"/><circle cx="709.8" cy="439.4" r="1.2" fill="#64993f"/><circle cx="730.9" cy="333.1" r="1.2" fill="#64993f"/><circle cx="713.5" cy="359.4" r="1.3" fill="#64993f"/><circle cx="718.5" cy="396.4" r="1.7" fill="#80b44f"/><circle cx="750.7" cy="407.4" r="1.0" fill="#528733"/><circle cx="724.7" cy="305.2" r="1.8" fill="#6c9f46"/><circle cx="744.3" cy="332.6" r="2.1" fill="#5a8f37"/><circle cx="675.9" cy="381.2" r="1.6" fill="#528733"/><circle cx="674.4" cy="392.3" r="1.7" fill="#6c9f46"/><circle cx="747.6" cy="433.9" r="1.3" fill="#64993f"/><circle cx="753.4" cy="321.5" r="1.6" fill="#80b44f"/><circle cx="712.1" cy="424.4" r="1.0" fill="#80b44f"/><circle cx="702.5" cy="415.6" r="1.2" fill="#528733"/><circle cx="733.1" cy="384.3" r="1.0" fill="#64993f"/><circle cx="769.8" cy="380.9" r="1.4" fill="#528733"/><circle cx="699.4" cy="347.9" r="1.4" fill="#528733"/><circle cx="719.4" cy="320.2" r="2.2" fill="#74a94a"/><circle cx="698.1" cy="411.8" r="1.4" fill="#64993f"/><circle cx="776.0" cy="359.9" r="1.1" fill="#6c9f46"/><circle cx="704.3" cy="425.9" r="1.3" fill="#80b44f"/><circle cx="745.5" cy="392.1" r="2.0" fill="#64993f"/><circle cx="706.6" cy="423.3" r="2.3" fill="#64993f"/><circle cx="711.8" cy="328.5" r="1.5" fill="#5a8f37"/><circle cx="706.7" cy="451.3" r="1.4" fill="#80b44f"/><circle cx="753.6" cy="318.8" r="2.2" fill="#5a8f37"/><circle cx="728.3" cy="399.0" r="1.9" fill="#80b44f"/><circle cx="707.3" cy="397.9" r="1.1" fill="#528733"/><circle cx="680.2" cy="384.7" r="1.4" fill="#64993f"/><circle cx="717.5" cy="344.1" r="1.9" fill="#74a94a"/><circle cx="741.2" cy="386.3" r="1.9" fill="#528733"/><circle cx="736.5" cy="358.3" r="1.3" fill="#6c9f46"/><circle cx="710.9" cy="370.6" r="1.6" fill="#6c9f46"/><circle cx="716.2" cy="401.8" r="1.9" fill="#74a94a"/><circle cx="734.1" cy="406.7" r="1.8" fill="#5a8f37"/><circle cx="707.6" cy="335.2" r="1.6" fill="#6c9f46"/><circle cx="748.0" cy="433.5" r="1.2" fill="#6c9f46"/><circle cx="708.3" cy="416.6" r="1.4" fill="#5a8f37"/><circle cx="765.5" cy="437.3" r="1.5" fill="#74a94a"/><circle cx="715.6" cy="345.5" r="1.6" fill="#528733"/><circle cx="711.6" cy="345.5" r="1.8" fill="#6c9f46"/><circle cx="693.6" cy="341.2" r="1.2" fill="#528733"/><circle cx="713.1" cy="380.5" r="2.2" fill="#6c9f46"/><circle cx="679.9" cy="412.6" r="2.3" fill="#74a94a"/><circle cx="726.3" cy="405.0" r="1.8" fill="#74a94a"/><circle cx="741.8" cy="451.6" r="1.0" fill="#6c9f46"/><circle cx="765.4" cy="425.5" r="1.4" fill="#6c9f46"/><circle cx="690.0" cy="408.8" r="1.0" fill="#80b44f"/><circle cx="709.3" cy="380.1" r="2.8" fill="#2c5c1d"/><circle cx="704.9" cy="446.0" r="2.1" fill="#376a25"/><circle cx="709.1" cy="402.2" r="1.6" fill="#2c5c1d"/><circle cx="770.1" cy="345.1" r="2.2" fill="#376a25"/><circle cx="698.7" cy="450.0" r="2.7" fill="#234f17"/><circle cx="721.7" cy="335.4" r="1.6" fill="#376a25"/><circle cx="728.7" cy="440.1" r="2.7" fill="#2c5c1d"/><circle cx="686.9" cy="378.8" r="2.0" fill="#376a25"/><circle cx="698.0" cy="393.7" r="1.6" fill="#1b4311"/><circle cx="672.0" cy="400.1" r="2.3" fill="#376a25"/><circle cx="722.8" cy="438.3" r="2.3" fill="#1b4311"/><circle cx="717.5" cy="368.6" r="2.3" fill="#234f17"/><circle cx="707.1" cy="428.9" r="1.8" fill="#1b4311"/><circle cx="703.1" cy="394.8" r="2.4" fill="#1b4311"/><circle cx="670.7" cy="421.1" r="2.4" fill="#1b4311"/><circle cx="698.2" cy="348.1" r="1.9" fill="#376a25"/><circle cx="705.2" cy="407.8" r="2.4" fill="#376a25"/><circle cx="691.4" cy="431.3" r="2.4" fill="#234f17"/><circle cx="685.7" cy="381.7" r="1.4" fill="#376a25"/><circle cx="710.4" cy="316.2" r="2.5" fill="#234f17"/><circle cx="715.2" cy="385.9" r="1.9" fill="#376a25"/><circle cx="719.4" cy="449.9" r="2.6" fill="#234f17"/><circle cx="674.9" cy="417.6" r="1.7" fill="#2c5c1d"/><circle cx="706.5" cy="350.4" r="2.2" fill="#234f17"/><circle cx="696.8" cy="380.4" r="2.7" fill="#2c5c1d"/><circle cx="688.8" cy="368.6" r="1.6" fill="#234f17"/><circle cx="703.9" cy="332.5" r="2.3" fill="#1b4311"/><circle cx="676.2" cy="419.6" r="1.8" fill="#376a25"/><circle cx="696.4" cy="399.5" r="1.4" fill="#234f17"/><circle cx="704.5" cy="412.0" r="2.4" fill="#376a25"/><circle cx="722.5" cy="322.9" r="2.3" fill="#376a25"/><circle cx="697.5" cy="365.4" r="1.9" fill="#376a25"/><circle cx="742.7" cy="437.1" r="2.2" fill="#2c5c1d"/><circle cx="697.7" cy="423.3" r="2.6" fill="#1b4311"/><circle cx="731.1" cy="454.3" r="2.2" fill="#2c5c1d"/><circle cx="688.0" cy="404.3" r="1.6" fill="#1b4311"/><circle cx="712.2" cy="335.2" r="2.5" fill="#1b4311"/><circle cx="674.1" cy="391.3" r="2.9" fill="#2c5c1d"/><circle cx="708.8" cy="431.0" r="1.5" fill="#2c5c1d"/><circle cx="749.7" cy="436.9" r="1.7" fill="#2c5c1d"/><circle cx="670.3" cy="421.9" r="2.3" fill="#234f17"/><circle cx="676.8" cy="416.1" r="3.0" fill="#2c5c1d"/><circle cx="688.3" cy="434.4" r="2.2" fill="#2c5c1d"/><circle cx="697.5" cy="439.4" r="2.6" fill="#2c5c1d"/><circle cx="676.2" cy="417.5" r="2.9" fill="#376a25"/><circle cx="693.1" cy="411.5" r="2.5" fill="#234f17"/><circle cx="667.5" cy="408.0" r="1.6" fill="#2c5c1d"/><circle cx="676.2" cy="425.2" r="2.1" fill="#234f17"/><circle cx="727.1" cy="449.1" r="1.8" fill="#2c5c1d"/><circle cx="680.7" cy="411.7" r="1.9" fill="#1b4311"/><circle cx="701.1" cy="329.9" r="1.8" fill="#376a25"/><circle cx="698.6" cy="416.3" r="2.9" fill="#376a25"/><circle cx="694.6" cy="396.7" r="2.1" fill="#1b4311"/><circle cx="689.8" cy="383.9" r="1.9" fill="#1b4311"/><circle cx="724.9" cy="357.5" r="1.8" fill="#234f17"/><circle cx="695.3" cy="380.5" r="1.9" fill="#2c5c1d"/><circle cx="667.6" cy="391.6" r="2.7" fill="#2c5c1d"/><circle cx="714.6" cy="394.1" r="1.6" fill="#2c5c1d"/><circle cx="710.4" cy="375.3" r="2.7" fill="#1b4311"/><circle cx="698.0" cy="390.3" r="2.4" fill="#2c5c1d"/><circle cx="671.3" cy="422.0" r="3.0" fill="#2c5c1d"/><circle cx="720.2" cy="452.8" r="2.0" fill="#376a25"/><circle cx="668.1" cy="393.8" r="2.7" fill="#1b4311"/><circle cx="672.2" cy="428.1" r="1.6" fill="#376a25"/><circle cx="676.2" cy="408.0" r="2.6" fill="#234f17"/><circle cx="693.2" cy="422.2" r="1.5" fill="#1b4311"/><circle cx="738.0" cy="445.6" r="2.5" fill="#376a25"/><circle cx="679.4" cy="427.4" r="1.6" fill="#1b4311"/><circle cx="745.9" cy="363.8" r="2.5" fill="#2c5c1d"/><circle cx="674.3" cy="402.1" r="2.8" fill="#2c5c1d"/><circle cx="696.7" cy="395.1" r="2.8" fill="#2c5c1d"/><circle cx="686.2" cy="433.1" r="2.7" fill="#376a25"/><circle cx="675.5" cy="417.0" r="2.9" fill="#1b4311"/><circle cx="711.7" cy="431.3" r="2.2" fill="#1b4311"/><circle cx="728.8" cy="327.5" r="2.5" fill="#2c5c1d"/><circle cx="758.6" cy="405.4" r="1.5" fill="#1b4311"/><circle cx="667.9" cy="408.9" r="1.5" fill="#2c5c1d"/><circle cx="668.4" cy="404.3" r="2.4" fill="#234f17"/><circle cx="727.6" cy="416.1" r="2.6" fill="#234f17"/><circle cx="686.0" cy="416.6" r="1.6" fill="#2c5c1d"/><circle cx="670.8" cy="401.3" r="2.4" fill="#2c5c1d"/><circle cx="695.4" cy="416.0" r="1.8" fill="#376a25"/><circle cx="692.6" cy="365.2" r="2.4" fill="#376a25"/><circle cx="758.3" cy="443.7" r="1.4" fill="#1b4311"/><circle cx="669.7" cy="396.6" r="2.2" fill="#376a25"/><circle cx="748.3" cy="435.1" r="2.0" fill="#376a25"/><circle cx="709.3" cy="395.0" r="2.3" fill="#376a25"/><circle cx="699.6" cy="348.2" r="1.9" fill="#234f17"/><circle cx="701.2" cy="441.8" r="1.9" fill="#1b4311"/><circle cx="669.3" cy="427.1" r="1.8" fill="#376a25"/><circle cx="746.2" cy="438.0" r="1.9" fill="#234f17"/><circle cx="698.3" cy="384.9" r="2.3" fill="#234f17"/><circle cx="717.7" cy="394.3" r="2.1" fill="#234f17"/><circle cx="709.2" cy="389.7" r="1.8" fill="#1b4311"/><circle cx="682.9" cy="382.4" r="2.0" fill="#1b4311"/><circle cx="728.0" cy="449.5" r="1.6" fill="#376a25"/><circle cx="708.5" cy="441.9" r="1.5" fill="#2c5c1d"/><circle cx="701.2" cy="436.4" r="2.3" fill="#234f17"/><circle cx="672.7" cy="412.0" r="2.0" fill="#2c5c1d"/><circle cx="713.3" cy="444.3" r="2.3" fill="#2c5c1d"/><circle cx="679.4" cy="430.8" r="2.0" fill="#2c5c1d"/><circle cx="708.4" cy="445.8" r="2.6" fill="#2c5c1d"/><circle cx="671.3" cy="399.0" r="2.4" fill="#234f17"/><circle cx="680.4" cy="420.7" r="2.2" fill="#234f17"/><circle cx="692.8" cy="409.3" r="1.8" fill="#2c5c1d"/><circle cx="681.5" cy="402.2" r="2.9" fill="#1b4311"/><circle cx="711.6" cy="407.7" r="1.6" fill="#1b4311"/><circle cx="710.3" cy="443.6" r="1.7" fill="#2c5c1d"/><circle cx="677.1" cy="414.3" r="2.2" fill="#1b4311"/><circle cx="669.6" cy="406.7" r="1.6" fill="#376a25"/><circle cx="713.5" cy="447.6" r="1.6" fill="#1b4311"/><circle cx="696.8" cy="417.5" r="2.3" fill="#234f17"/><circle cx="698.2" cy="429.4" r="1.6" fill="#234f17"/><circle cx="697.3" cy="439.2" r="2.0" fill="#2c5c1d"/><circle cx="743.2" cy="443.4" r="2.8" fill="#234f17"/><circle cx="692.9" cy="391.1" r="1.7" fill="#2c5c1d"/><circle cx="668.5" cy="424.0" r="2.1" fill="#1b4311"/><circle cx="710.8" cy="361.2" r="2.4" fill="#1b4311"/><circle cx="675.2" cy="392.2" r="2.6" fill="#1b4311"/><circle cx="676.4" cy="425.7" r="2.7" fill="#376a25"/><circle cx="686.2" cy="379.0" r="1.7" fill="#376a25"/><circle cx="680.8" cy="383.8" r="1.9" fill="#2c5c1d"/><circle cx="665.2" cy="403.2" r="1.8" fill="#1b4311"/><circle cx="693.1" cy="392.1" r="2.9" fill="#376a25"/><circle cx="709.9" cy="371.7" r="1.5" fill="#1b4311"/><circle cx="678.1" cy="381.4" r="1.6" fill="#2c5c1d"/><circle cx="740.0" cy="435.0" r="2.1" fill="#1b4311"/><circle cx="755.5" cy="348.5" r="2.2" fill="#2c5c1d"/><circle cx="683.9" cy="383.3" r="2.1" fill="#234f17"/><circle cx="698.7" cy="362.9" r="1.9" fill="#1b4311"/><circle cx="696.2" cy="396.9" r="2.7" fill="#376a25"/><circle cx="675.2" cy="413.0" r="2.0" fill="#234f17"/><circle cx="714.7" cy="344.8" r="2.9" fill="#2c5c1d"/><circle cx="692.4" cy="402.9" r="1.6" fill="#2c5c1d"/><circle cx="720.4" cy="437.0" r="1.5" fill="#234f17"/><circle cx="691.2" cy="429.2" r="1.8" fill="#2c5c1d"/><circle cx="751.1" cy="358.6" r="2.6" fill="#2c5c1d"/><circle cx="693.5" cy="382.8" r="1.7" fill="#376a25"/><circle cx="690.0" cy="369.4" r="1.7" fill="#2c5c1d"/><circle cx="680.9" cy="383.3" r="2.2" fill="#2c5c1d"/><circle cx="704.9" cy="438.0" r="1.7" fill="#2c5c1d"/><circle cx="713.0" cy="368.9" r="1.4" fill="#376a25"/><circle cx="708.0" cy="401.1" r="2.2" fill="#234f17"/><circle cx="750.3" cy="390.5" r="2.0" fill="#234f17"/><circle cx="673.2" cy="378.6" r="3.0" fill="#1b4311"/><circle cx="675.3" cy="416.6" r="2.9" fill="#2c5c1d"/><circle cx="668.2" cy="414.6" r="1.5" fill="#1b4311"/><circle cx="669.6" cy="387.5" r="1.4" fill="#2c5c1d"/><circle cx="699.3" cy="393.1" r="2.2" fill="#234f17"/><circle cx="688.3" cy="397.6" r="2.5" fill="#2c5c1d"/><circle cx="673.8" cy="390.9" r="2.7" fill="#2c5c1d"/><circle cx="688.4" cy="386.6" r="2.4" fill="#2c5c1d"/><circle cx="685.6" cy="442.9" r="1.9" fill="#2c5c1d"/><circle cx="700.4" cy="429.3" r="1.6" fill="#2c5c1d"/><circle cx="697.1" cy="390.7" r="2.0" fill="#2c5c1d"/><circle cx="718.2" cy="439.9" r="1.7" fill="#234f17"/><circle cx="683.2" cy="415.9" r="1.5" fill="#376a25"/><circle cx="709.3" cy="444.3" r="2.6" fill="#234f17"/><circle cx="785.3" cy="420.7" r="2.0" fill="#376a25"/><circle cx="707.3" cy="405.7" r="2.7" fill="#2c5c1d"/><circle cx="709.6" cy="408.7" r="2.2" fill="#1b4311"/><circle cx="697.7" cy="434.0" r="2.7" fill="#376a25"/><circle cx="751.1" cy="350.0" r="1.8" fill="#234f17"/><circle cx="699.7" cy="426.0" r="2.5" fill="#234f17"/><circle cx="669.6" cy="400.8" r="2.1" fill="#234f17"/><circle cx="678.0" cy="406.0" r="2.4" fill="#376a25"/><circle cx="684.0" cy="386.5" r="1.7" fill="#2c5c1d"/><circle cx="668.9" cy="394.9" r="1.6" fill="#376a25"/><circle cx="691.5" cy="417.1" r="3.0" fill="#234f17"/><circle cx="708.8" cy="443.0" r="1.4" fill="#234f17"/><circle cx="681.7" cy="390.3" r="1.8" fill="#1b4311"/><circle cx="695.2" cy="364.4" r="1.9" fill="#1b4311"/><circle cx="698.6" cy="418.8" r="1.6" fill="#376a25"/><circle cx="690.0" cy="394.5" r="2.7" fill="#234f17"/><circle cx="701.8" cy="435.7" r="2.6" fill="#234f17"/><circle cx="700.1" cy="356.3" r="2.9" fill="#1b4311"/><circle cx="685.3" cy="368.8" r="2.3" fill="#234f17"/><circle cx="701.1" cy="414.4" r="2.0" fill="#376a25"/><circle cx="733.8" cy="450.1" r="1.5" fill="#376a25"/><circle cx="685.9" cy="431.8" r="1.9" fill="#2c5c1d"/><circle cx="698.7" cy="378.3" r="2.5" fill="#1b4311"/><circle cx="681.4" cy="412.0" r="1.9" fill="#2c5c1d"/><circle cx="668.8" cy="405.8" r="1.9" fill="#234f17"/><circle cx="703.5" cy="324.7" r="2.1" fill="#234f17"/><circle cx="680.4" cy="381.5" r="2.3" fill="#1b4311"/><circle cx="711.3" cy="375.4" r="2.8" fill="#234f17"/><circle cx="779.2" cy="428.9" r="2.5" fill="#1b4311"/><circle cx="705.8" cy="376.2" r="2.1" fill="#376a25"/><circle cx="724.4" cy="442.3" r="3.0" fill="#1b4311"/><circle cx="698.4" cy="425.2" r="1.5" fill="#234f17"/><circle cx="689.8" cy="442.5" r="2.5" fill="#234f17"/><circle cx="685.5" cy="377.8" r="1.7" fill="#2c5c1d"/><circle cx="669.6" cy="396.0" r="2.3" fill="#376a25"/><circle cx="755.4" cy="396.8" r="1.7" fill="#1b4311"/><circle cx="769.9" cy="421.0" r="2.5" fill="#376a25"/><circle cx="677.4" cy="383.9" r="1.7" fill="#234f17"/><circle cx="685.9" cy="400.2" r="1.8" fill="#376a25"/><circle cx="675.5" cy="400.8" r="1.7" fill="#2c5c1d"/><circle cx="675.9" cy="396.4" r="2.3" fill="#1b4311"/><circle cx="710.8" cy="373.9" r="2.3" fill="#1b4311"/><circle cx="689.5" cy="348.1" r="2.2" fill="#234f17"/><circle cx="695.8" cy="431.8" r="2.7" fill="#376a25"/><circle cx="709.8" cy="355.3" r="2.1" fill="#1b4311"/><circle cx="679.0" cy="405.9" r="2.6" fill="#1b4311"/><circle cx="746.4" cy="384.4" r="1.9" fill="#2c5c1d"/><circle cx="736.5" cy="443.8" r="1.4" fill="#1b4311"/><circle cx="689.0" cy="373.8" r="2.9" fill="#376a25"/><circle cx="687.5" cy="418.7" r="3.0" fill="#1b4311"/><circle cx="721.1" cy="446.3" r="2.4" fill="#234f17"/><circle cx="712.6" cy="443.7" r="2.2" fill="#2c5c1d"/><circle cx="731.0" cy="444.2" r="1.9" fill="#2c5c1d"/><circle cx="745.8" cy="398.2" r="1.5" fill="#376a25"/><circle cx="681.5" cy="440.4" r="2.6" fill="#1b4311"/><circle cx="706.6" cy="371.9" r="2.5" fill="#234f17"/><circle cx="661.3" cy="403.3" r="1.6" fill="#234f17"/><circle cx="694.5" cy="392.5" r="2.7" fill="#234f17"/><circle cx="706.3" cy="386.5" r="2.0" fill="#2c5c1d"/><circle cx="754.0" cy="436.0" r="2.6" fill="#1b4311"/><circle cx="713.0" cy="443.1" r="2.5" fill="#376a25"/><circle cx="706.2" cy="436.7" r="2.1" fill="#1b4311"/><circle cx="666.3" cy="426.4" r="2.6" fill="#376a25"/><circle cx="682.3" cy="373.3" r="2.2" fill="#1b4311"/><circle cx="699.6" cy="360.0" r="1.9" fill="#1b4311"/><circle cx="697.8" cy="381.9" r="2.3" fill="#234f17"/><circle cx="747.9" cy="446.5" r="2.8" fill="#234f17"/><circle cx="677.8" cy="433.9" r="2.1" fill="#2c5c1d"/><circle cx="707.7" cy="384.9" r="2.4" fill="#2c5c1d"/><circle cx="755.9" cy="419.5" r="2.4" fill="#376a25"/><circle cx="672.7" cy="410.5" r="1.9" fill="#376a25"/><circle cx="696.1" cy="390.4" r="1.8" fill="#234f17"/><circle cx="749.9" cy="346.7" r="2.4" fill="#376a25"/><circle cx="732.5" cy="443.5" r="1.6" fill="#376a25"/><circle cx="676.6" cy="435.0" r="1.7" fill="#1b4311"/><circle cx="726.9" cy="399.1" r="2.8" fill="#376a25"/><circle cx="697.1" cy="370.8" r="2.1" fill="#234f17"/><circle cx="780.2" cy="427.9" r="1.4" fill="#376a25"/><circle cx="679.3" cy="435.2" r="2.1" fill="#234f17"/><circle cx="777.9" cy="424.3" r="2.2" fill="#376a25"/><circle cx="700.7" cy="438.1" r="2.8" fill="#2c5c1d"/><circle cx="702.7" cy="378.9" r="1.9" fill="#376a25"/><circle cx="683.6" cy="374.3" r="2.8" fill="#1b4311"/><circle cx="703.2" cy="354.4" r="1.6" fill="#376a25"/><circle cx="692.2" cy="388.4" r="2.8" fill="#2c5c1d"/><circle cx="697.5" cy="437.9" r="1.4" fill="#2c5c1d"/><circle cx="682.7" cy="431.4" r="2.9" fill="#2c5c1d"/><circle cx="700.3" cy="415.6" r="1.5" fill="#2c5c1d"/><circle cx="674.4" cy="403.3" r="2.2" fill="#376a25"/><circle cx="673.9" cy="420.0" r="1.7" fill="#376a25"/><circle cx="759.2" cy="426.7" r="1.8" fill="#376a25"/><circle cx="743.5" cy="441.3" r="1.6" fill="#2c5c1d"/><circle cx="668.3" cy="393.6" r="1.8" fill="#2c5c1d"/><circle cx="675.3" cy="392.9" r="1.5" fill="#376a25"/><circle cx="698.5" cy="365.8" r="1.9" fill="#1b4311"/><circle cx="712.1" cy="442.4" r="2.9" fill="#2c5c1d"/><circle cx="703.8" cy="425.2" r="2.8" fill="#1b4311"/><circle cx="694.3" cy="432.4" r="1.4" fill="#1b4311"/><circle cx="732.7" cy="437.9" r="2.2" fill="#376a25"/><circle cx="751.5" cy="438.8" r="2.0" fill="#2c5c1d"/><circle cx="699.7" cy="440.4" r="1.8" fill="#1b4311"/><circle cx="692.0" cy="413.7" r="2.1" fill="#234f17"/><circle cx="686.3" cy="412.3" r="2.2" fill="#376a25"/><circle cx="692.4" cy="396.9" r="2.3" fill="#234f17"/><circle cx="707.0" cy="414.8" r="2.1" fill="#376a25"/><circle cx="691.7" cy="388.4" r="1.7" fill="#2c5c1d"/><circle cx="690.7" cy="412.4" r="2.4" fill="#2c5c1d"/><circle cx="712.6" cy="321.5" r="3.0" fill="#2c5c1d"/><circle cx="701.6" cy="436.2" r="2.3" fill="#376a25"/><circle cx="757.5" cy="436.0" r="2.9" fill="#234f17"/><circle cx="674.8" cy="422.5" r="1.7" fill="#376a25"/><circle cx="694.6" cy="370.6" r="1.8" fill="#376a25"/><circle cx="732.7" cy="437.1" r="2.8" fill="#376a25"/><circle cx="701.1" cy="362.4" r="1.4" fill="#376a25"/><circle cx="677.6" cy="409.6" r="1.9" fill="#234f17"/><circle cx="677.4" cy="426.2" r="1.5" fill="#1b4311"/><circle cx="679.3" cy="381.7" r="2.7" fill="#376a25"/><circle cx="676.7" cy="409.1" r="1.8" fill="#2c5c1d"/><circle cx="757.5" cy="344.0" r="1.9" fill="#1b4311"/><circle cx="699.7" cy="391.1" r="1.9" fill="#376a25"/><circle cx="740.3" cy="446.2" r="2.7" fill="#1b4311"/><circle cx="680.5" cy="388.0" r="2.0" fill="#1b4311"/><circle cx="700.3" cy="331.7" r="1.8" fill="#1b4311"/><circle cx="696.9" cy="431.6" r="1.4" fill="#2c5c1d"/><circle cx="726.9" cy="377.3" r="2.5" fill="#376a25"/><circle cx="700.9" cy="345.6" r="1.9" fill="#2c5c1d"/><circle cx="706.3" cy="439.8" r="2.5" fill="#376a25"/><circle cx="671.8" cy="398.3" r="2.9" fill="#2c5c1d"/><circle cx="670.6" cy="410.5" r="1.6" fill="#234f17"/><circle cx="682.2" cy="389.8" r="2.8" fill="#2c5c1d"/><circle cx="685.0" cy="348.2" r="2.2" fill="#2c5c1d"/><circle cx="731.7" cy="446.9" r="2.7" fill="#234f17"/><circle cx="736.9" cy="448.1" r="2.0" fill="#1b4311"/><circle cx="694.8" cy="441.7" r="2.1" fill="#234f17"/><circle cx="691.0" cy="424.7" r="2.1" fill="#1b4311"/><circle cx="684.7" cy="417.8" r="2.1" fill="#2c5c1d"/><circle cx="668.6" cy="403.8" r="2.6" fill="#2c5c1d"/><circle cx="684.5" cy="359.2" r="2.2" fill="#234f17"/><circle cx="678.1" cy="413.6" r="2.0" fill="#376a25"/><circle cx="666.5" cy="408.0" r="2.9" fill="#1b4311"/><circle cx="717.8" cy="447.3" r="2.4" fill="#1b4311"/><circle cx="735.4" cy="441.7" r="2.3" fill="#1b4311"/><circle cx="702.3" cy="393.6" r="1.5" fill="#2c5c1d"/><circle cx="699.4" cy="412.3" r="1.8" fill="#2c5c1d"/><circle cx="691.4" cy="441.7" r="2.5" fill="#376a25"/><circle cx="708.6" cy="441.4" r="2.1" fill="#1b4311"/><circle cx="747.5" cy="438.3" r="1.8" fill="#376a25"/><circle cx="704.8" cy="324.1" r="1.6" fill="#376a25"/><circle cx="692.4" cy="375.4" r="2.8" fill="#2c5c1d"/><circle cx="733.1" cy="436.4" r="1.7" fill="#1b4311"/><circle cx="700.7" cy="341.3" r="2.8" fill="#2c5c1d"/><circle cx="689.6" cy="403.6" r="2.0" fill="#2c5c1d"/><circle cx="692.4" cy="394.5" r="2.5" fill="#2c5c1d"/><circle cx="706.4" cy="330.9" r="1.9" fill="#234f17"/><circle cx="698.6" cy="375.1" r="1.7" fill="#234f17"/><circle cx="745.5" cy="440.4" r="1.8" fill="#376a25"/><circle cx="770.7" cy="404.7" r="1.7" fill="#234f17"/><circle cx="679.3" cy="395.3" r="1.8" fill="#376a25"/><circle cx="676.1" cy="411.7" r="1.9" fill="#1b4311"/><circle cx="684.0" cy="347.5" r="1.4" fill="#376a25"/><circle cx="701.1" cy="357.8" r="1.9" fill="#376a25"/><circle cx="705.8" cy="332.1" r="2.6" fill="#234f17"/><circle cx="694.3" cy="447.0" r="2.1" fill="#2c5c1d"/><circle cx="713.0" cy="407.7" r="2.3" fill="#2c5c1d"/><circle cx="695.4" cy="442.0" r="2.3" fill="#234f17"/><circle cx="756.6" cy="363.1" r="1.7" fill="#234f17"/><circle cx="682.0" cy="410.0" r="2.4" fill="#2c5c1d"/><circle cx="683.8" cy="413.0" r="3.0" fill="#1b4311"/><circle cx="678.5" cy="407.1" r="1.7" fill="#234f17"/><circle cx="700.8" cy="344.5" r="2.8" fill="#376a25"/><circle cx="679.9" cy="410.6" r="2.7" fill="#2c5c1d"/><circle cx="685.5" cy="376.7" r="2.5" fill="#2c5c1d"/><circle cx="691.3" cy="412.1" r="2.1" fill="#234f17"/><circle cx="676.6" cy="408.8" r="2.1" fill="#376a25"/><circle cx="666.4" cy="427.1" r="1.7" fill="#2c5c1d"/><circle cx="683.6" cy="443.2" r="1.5" fill="#1b4311"/><circle cx="701.4" cy="439.9" r="2.0" fill="#1b4311"/><circle cx="714.7" cy="389.3" r="1.8" fill="#1b4311"/><circle cx="704.2" cy="363.1" r="2.6" fill="#1b4311"/><circle cx="704.6" cy="390.0" r="3.0" fill="#2c5c1d"/><circle cx="710.3" cy="327.6" r="2.1" fill="#234f17"/><circle cx="689.3" cy="399.6" r="1.8" fill="#1b4311"/><circle cx="682.7" cy="429.2" r="2.7" fill="#2c5c1d"/><circle cx="715.7" cy="455.1" r="2.0" fill="#234f17"/><circle cx="730.1" cy="435.8" r="2.7" fill="#234f17"/><circle cx="753.2" cy="354.1" r="2.0" fill="#234f17"/><circle cx="704.0" cy="349.3" r="2.4" fill="#1b4311"/><circle cx="688.4" cy="417.1" r="2.5" fill="#376a25"/><circle cx="702.7" cy="384.6" r="2.7" fill="#376a25"/><circle cx="672.8" cy="417.7" r="2.8" fill="#1b4311"/><circle cx="677.1" cy="398.8" r="1.5" fill="#2c5c1d"/><circle cx="696.7" cy="362.8" r="1.8" fill="#1b4311"/><circle cx="681.2" cy="404.2" r="1.7" fill="#2c5c1d"/><circle cx="687.8" cy="369.0" r="2.2" fill="#1b4311"/><circle cx="701.5" cy="331.1" r="2.3" fill="#376a25"/><circle cx="681.7" cy="425.4" r="2.9" fill="#376a25"/><circle cx="763.6" cy="355.5" r="2.1" fill="#376a25"/><circle cx="693.6" cy="360.9" r="1.8" fill="#1b4311"/><circle cx="687.4" cy="371.0" r="1.9" fill="#2c5c1d"/><circle cx="698.7" cy="356.8" r="2.5" fill="#234f17"/><circle cx="741.9" cy="439.6" r="2.3" fill="#1b4311"/><circle cx="698.7" cy="409.7" r="3.0" fill="#2c5c1d"/><circle cx="691.9" cy="442.7" r="2.3" fill="#376a25"/><circle cx="668.3" cy="400.2" r="2.2" fill="#2c5c1d"/><circle cx="750.7" cy="390.3" r="2.4" fill="#2c5c1d"/><circle cx="683.9" cy="431.2" r="3.0" fill="#234f17"/><circle cx="700.0" cy="351.1" r="2.9" fill="#376a25"/><circle cx="689.6" cy="428.3" r="1.7" fill="#234f17"/><circle cx="708.9" cy="444.0" r="1.4" fill="#1b4311"/><circle cx="687.7" cy="418.6" r="1.9" fill="#376a25"/><circle cx="688.8" cy="417.4" r="2.4" fill="#376a25"/><circle cx="713.7" cy="453.8" r="2.1" fill="#2c5c1d"/><circle cx="699.9" cy="348.7" r="2.8" fill="#376a25"/><circle cx="690.7" cy="372.9" r="2.9" fill="#1b4311"/><circle cx="698.8" cy="326.7" r="2.1" fill="#376a25"/><circle cx="686.2" cy="401.0" r="2.8" fill="#376a25"/><circle cx="713.5" cy="324.8" r="1.6" fill="#1b4311"/><circle cx="705.7" cy="355.6" r="1.4" fill="#2c5c1d"/><circle cx="676.1" cy="402.7" r="2.4" fill="#1b4311"/><circle cx="751.8" cy="447.3" r="1.9" fill="#2c5c1d"/><circle cx="692.6" cy="423.5" r="1.4" fill="#234f17"/><circle cx="694.1" cy="377.4" r="1.6" fill="#234f17"/><circle cx="661.4" cy="411.0" r="1.5" fill="#234f17"/><circle cx="672.7" cy="392.9" r="2.7" fill="#2c5c1d"/><circle cx="686.2" cy="390.6" r="2.9" fill="#234f17"/><circle cx="745.7" cy="378.8" r="3.0" fill="#1b4311"/><circle cx="682.1" cy="434.8" r="1.9" fill="#2c5c1d"/><circle cx="708.9" cy="344.7" r="2.9" fill="#1b4311"/><circle cx="745.7" cy="444.1" r="1.5" fill="#234f17"/><circle cx="685.9" cy="399.7" r="2.4" fill="#376a25"/><circle cx="734.9" cy="449.2" r="2.3" fill="#1b4311"/><circle cx="682.1" cy="378.8" r="2.7" fill="#376a25"/><circle cx="691.8" cy="357.6" r="1.7" fill="#1b4311"/><circle cx="759.7" cy="362.8" r="2.8" fill="#2c5c1d"/><circle cx="684.5" cy="417.5" r="2.1" fill="#376a25"/><circle cx="691.4" cy="359.0" r="2.9" fill="#2c5c1d"/><circle cx="670.8" cy="383.1" r="2.8" fill="#376a25"/><circle cx="699.6" cy="410.8" r="2.5" fill="#234f17"/><circle cx="762.0" cy="383.7" r="2.5" fill="#1b4311"/><circle cx="685.9" cy="395.5" r="2.9" fill="#1b4311"/><circle cx="687.4" cy="416.1" r="2.7" fill="#1b4311"/><circle cx="693.6" cy="416.6" r="1.4" fill="#1b4311"/><circle cx="693.5" cy="405.9" r="2.9" fill="#234f17"/><circle cx="688.0" cy="412.2" r="2.6" fill="#234f17"/><circle cx="712.5" cy="436.5" r="2.8" fill="#376a25"/><circle cx="703.6" cy="333.4" r="2.8" fill="#1b4311"/><circle cx="732.8" cy="450.7" r="3.0" fill="#2c5c1d"/><circle cx="758.9" cy="435.7" r="2.3" fill="#2c5c1d"/><circle cx="670.4" cy="392.1" r="2.9" fill="#376a25"/><circle cx="676.7" cy="387.7" r="1.7" fill="#376a25"/><circle cx="688.5" cy="418.7" r="1.6" fill="#1b4311"/><circle cx="678.4" cy="385.3" r="1.8" fill="#376a25"/><circle cx="696.8" cy="445.4" r="2.7" fill="#1b4311"/><circle cx="683.6" cy="411.6" r="2.3" fill="#2c5c1d"/><circle cx="685.2" cy="415.5" r="2.9" fill="#376a25"/><circle cx="693.2" cy="399.2" r="2.6" fill="#376a25"/><circle cx="726.3" cy="404.5" r="2.1" fill="#1b4311"/><circle cx="665.1" cy="394.0" r="2.8" fill="#234f17"/><circle cx="726.4" cy="439.0" r="2.9" fill="#1b4311"/><circle cx="678.8" cy="419.8" r="1.8" fill="#234f17"/><circle cx="687.1" cy="425.7" r="2.6" fill="#1b4311"/><circle cx="727.9" cy="448.3" r="1.9" fill="#376a25"/><circle cx="711.2" cy="445.6" r="2.8" fill="#234f17"/><circle cx="680.0" cy="423.9" r="1.6" fill="#376a25"/><circle cx="693.6" cy="396.4" r="2.6" fill="#2c5c1d"/><circle cx="685.8" cy="390.8" r="2.7" fill="#376a25"/><circle cx="714.0" cy="389.9" r="2.5" fill="#234f17"/><circle cx="710.0" cy="386.5" r="2.0" fill="#376a25"/><circle cx="695.2" cy="424.4" r="2.6" fill="#234f17"/><circle cx="715.7" cy="405.9" r="2.5" fill="#1b4311"/><circle cx="735.1" cy="440.9" r="1.9" fill="#2c5c1d"/><circle cx="693.0" cy="405.5" r="1.7" fill="#376a25"/><circle cx="680.1" cy="436.4" r="1.6" fill="#234f17"/><circle cx="688.9" cy="397.1" r="2.8" fill="#234f17"/><circle cx="687.6" cy="429.5" r="2.1" fill="#1b4311"/><circle cx="686.2" cy="382.2" r="2.7" fill="#376a25"/><circle cx="681.4" cy="427.3" r="2.0" fill="#234f17"/><circle cx="714.0" cy="448.5" r="2.3" fill="#234f17"/><circle cx="670.1" cy="388.9" r="1.5" fill="#2c5c1d"/><circle cx="712.6" cy="421.1" r="1.7" fill="#234f17"/><circle cx="707.6" cy="413.7" r="2.0" fill="#2c5c1d"/><circle cx="667.5" cy="407.2" r="2.8" fill="#2c5c1d"/><circle cx="721.7" cy="448.4" r="1.6" fill="#234f17"/><circle cx="676.1" cy="392.7" r="2.2" fill="#376a25"/><circle cx="704.5" cy="396.6" r="1.8" fill="#2c5c1d"/><circle cx="709.8" cy="382.4" r="2.6" fill="#234f17"/><circle cx="676.7" cy="397.9" r="1.5" fill="#1b4311"/><circle cx="704.0" cy="356.0" r="1.8" fill="#234f17"/><circle cx="704.3" cy="441.3" r="1.7" fill="#376a25"/><circle cx="778.6" cy="400.0" r="1.5" fill="#234f17"/><circle cx="696.0" cy="361.5" r="2.5" fill="#1b4311"/><circle cx="709.0" cy="415.7" r="1.7" fill="#234f17"/><circle cx="676.2" cy="409.2" r="2.0" fill="#376a25"/><circle cx="686.0" cy="416.6" r="2.9" fill="#1b4311"/><circle cx="673.5" cy="427.2" r="2.7" fill="#234f17"/><circle cx="690.0" cy="377.7" r="2.7" fill="#2c5c1d"/><circle cx="688.6" cy="357.5" r="2.2" fill="#2c5c1d"/><circle cx="681.9" cy="409.5" r="2.3" fill="#234f17"/><circle cx="710.1" cy="336.6" r="1.9" fill="#2c5c1d"/><circle cx="695.8" cy="353.9" r="2.8" fill="#1b4311"/><circle cx="667.7" cy="432.5" r="2.5" fill="#376a25"/><circle cx="723.4" cy="368.5" r="2.9" fill="#376a25"/><circle cx="711.4" cy="383.2" r="1.9" fill="#2c5c1d"/><circle cx="688.3" cy="435.6" r="1.6" fill="#376a25"/><circle cx="707.2" cy="381.5" r="1.9" fill="#376a25"/><circle cx="702.3" cy="412.5" r="2.8" fill="#234f17"/><circle cx="676.5" cy="421.1" r="2.8" fill="#1b4311"/><circle cx="699.3" cy="382.0" r="2.5" fill="#376a25"/><circle cx="685.2" cy="407.8" r="2.0" fill="#234f17"/><circle cx="734.5" cy="440.9" r="2.2" fill="#376a25"/><circle cx="686.8" cy="373.6" r="2.8" fill="#2c5c1d"/><circle cx="679.1" cy="425.0" r="2.8" fill="#2c5c1d"/><circle cx="701.3" cy="453.8" r="1.6" fill="#234f17"/><circle cx="681.3" cy="431.7" r="2.3" fill="#1b4311"/><circle cx="690.6" cy="414.7" r="1.4" fill="#376a25"/><circle cx="717.3" cy="437.6" r="2.1" fill="#376a25"/><circle cx="692.4" cy="364.0" r="1.6" fill="#234f17"/><circle cx="693.9" cy="421.3" r="2.8" fill="#376a25"/><circle cx="678.7" cy="425.0" r="1.7" fill="#2c5c1d"/><circle cx="686.4" cy="429.1" r="2.3" fill="#234f17"/><circle cx="739.0" cy="439.2" r="2.8" fill="#376a25"/><circle cx="695.2" cy="359.7" r="1.9" fill="#2c5c1d"/><circle cx="711.3" cy="363.4" r="1.6" fill="#234f17"/><circle cx="676.2" cy="384.6" r="3.0" fill="#234f17"/><circle cx="689.0" cy="358.0" r="2.0" fill="#2c5c1d"/><circle cx="707.8" cy="400.6" r="2.9" fill="#376a25"/><circle cx="724.4" cy="439.5" r="2.5" fill="#2c5c1d"/><circle cx="748.0" cy="439.8" r="1.6" fill="#376a25"/><circle cx="686.7" cy="406.5" r="2.8" fill="#376a25"/><circle cx="710.3" cy="319.9" r="1.5" fill="#bcdb5e"/><circle cx="744.7" cy="392.1" r="1.5" fill="#bcdb5e"/><circle cx="763.3" cy="396.8" r="1.5" fill="#aad055"/><circle cx="717.0" cy="338.8" r="1.6" fill="#bcdb5e"/><circle cx="699.9" cy="351.1" r="1.2" fill="#bcdb5e"/><circle cx="728.0" cy="325.5" r="1.1" fill="#98c24c"/><circle cx="774.2" cy="389.8" r="0.9" fill="#bcdb5e"/><circle cx="750.6" cy="351.5" r="1.4" fill="#bcdb5e"/><circle cx="717.3" cy="343.4" r="0.9" fill="#aad055"/><circle cx="732.8" cy="359.6" r="1.4" fill="#bcdb5e"/><circle cx="766.7" cy="397.0" r="1.3" fill="#cfe66c"/><circle cx="756.9" cy="338.3" r="1.4" fill="#aad055"/><circle cx="756.5" cy="444.6" r="0.9" fill="#bcdb5e"/><circle cx="782.2" cy="374.3" r="1.4" fill="#98c24c"/><circle cx="744.8" cy="323.0" r="1.3" fill="#98c24c"/><circle cx="752.9" cy="383.7" r="1.2" fill="#cfe66c"/><circle cx="785.1" cy="400.4" r="1.5" fill="#cfe66c"/><circle cx="753.3" cy="420.7" r="1.1" fill="#cfe66c"/><circle cx="784.7" cy="379.2" r="1.0" fill="#aad055"/><circle cx="772.2" cy="352.7" r="1.6" fill="#cfe66c"/><circle cx="783.4" cy="371.0" r="1.5" fill="#cfe66c"/><circle cx="779.5" cy="407.9" r="1.5" fill="#bcdb5e"/><circle cx="756.6" cy="355.9" r="1.6" fill="#cfe66c"/><circle cx="786.0" cy="399.7" r="1.0" fill="#bcdb5e"/><circle cx="771.1" cy="393.6" r="1.2" fill="#98c24c"/><circle cx="761.8" cy="383.1" r="1.1" fill="#98c24c"/><circle cx="725.9" cy="323.8" r="1.5" fill="#cfe66c"/><circle cx="760.5" cy="328.5" r="1.6" fill="#cfe66c"/><circle cx="765.6" cy="354.1" r="1.5" fill="#cfe66c"/><circle cx="788.3" cy="406.5" r="1.0" fill="#cfe66c"/><circle cx="760.0" cy="368.1" r="1.5" fill="#aad055"/><circle cx="750.9" cy="339.8" r="1.0" fill="#cfe66c"/><circle cx="727.6" cy="345.7" r="1.1" fill="#bcdb5e"/><circle cx="759.6" cy="345.0" r="0.9" fill="#cfe66c"/><circle cx="788.9" cy="404.2" r="0.9" fill="#bcdb5e"/><circle cx="765.1" cy="374.5" r="1.5" fill="#aad055"/><circle cx="729.1" cy="407.5" r="1.5" fill="#98c24c"/><circle cx="785.3" cy="393.7" r="1.4" fill="#aad055"/><circle cx="748.4" cy="433.5" r="1.0" fill="#98c24c"/><circle cx="763.3" cy="411.2" r="1.0" fill="#98c24c"/><circle cx="737.6" cy="424.6" r="1.4" fill="#cfe66c"/><circle cx="759.0" cy="315.6" r="1.5" fill="#98c24c"/><circle cx="772.2" cy="383.2" r="0.8" fill="#aad055"/><circle cx="767.8" cy="428.3" r="0.9" fill="#cfe66c"/><circle cx="747.0" cy="346.0" r="1.3" fill="#aad055"/><circle cx="746.0" cy="331.4" r="1.4" fill="#cfe66c"/><circle cx="718.0" cy="305.4" r="1.3" fill="#98c24c"/><circle cx="770.5" cy="350.1" r="0.9" fill="#aad055"/><circle cx="784.8" cy="382.2" r="1.4" fill="#98c24c"/><circle cx="763.6" cy="371.0" r="1.3" fill="#cfe66c"/><circle cx="737.1" cy="408.0" r="0.9" fill="#bcdb5e"/><circle cx="768.0" cy="352.8" r="1.3" fill="#aad055"/><circle cx="783.6" cy="403.5" r="1.6" fill="#cfe66c"/><circle cx="759.5" cy="363.9" r="1.1" fill="#cfe66c"/><circle cx="723.7" cy="384.6" r="1.0" fill="#cfe66c"/><circle cx="742.5" cy="414.4" r="1.4" fill="#cfe66c"/><circle cx="787.9" cy="398.7" r="0.9" fill="#cfe66c"/><circle cx="738.6" cy="350.0" r="0.8" fill="#98c24c"/><circle cx="781.7" cy="414.3" r="1.1" fill="#bcdb5e"/><circle cx="738.9" cy="428.1" r="1.6" fill="#cfe66c"/><circle cx="750.1" cy="325.2" r="1.3" fill="#cfe66c"/><circle cx="757.5" cy="337.4" r="1.3" fill="#cfe66c"/><circle cx="748.2" cy="364.2" r="1.4" fill="#cfe66c"/><circle cx="745.1" cy="392.3" r="0.9" fill="#aad055"/><circle cx="746.6" cy="386.5" r="1.0" fill="#98c24c"/><circle cx="753.2" cy="345.1" r="0.9" fill="#bcdb5e"/><circle cx="747.3" cy="428.4" r="1.3" fill="#cfe66c"/><circle cx="776.4" cy="366.6" r="1.2" fill="#aad055"/><circle cx="737.3" cy="335.4" r="1.5" fill="#98c24c"/><circle cx="719.4" cy="317.8" r="1.3" fill="#bcdb5e"/><circle cx="738.7" cy="379.0" r="1.1" fill="#98c24c"/><circle cx="748.0" cy="370.5" r="1.1" fill="#aad055"/><circle cx="757.9" cy="393.1" r="1.2" fill="#cfe66c"/><circle cx="750.6" cy="381.7" r="1.0" fill="#aad055"/><circle cx="748.0" cy="347.6" r="1.0" fill="#98c24c"/><circle cx="781.1" cy="383.5" r="1.2" fill="#bcdb5e"/><circle cx="767.8" cy="354.9" r="1.0" fill="#aad055"/><circle cx="752.8" cy="429.7" r="1.2" fill="#98c24c"/><circle cx="707.3" cy="373.3" r="1.2" fill="#98c24c"/><circle cx="789.9" cy="398.7" r="1.5" fill="#bcdb5e"/><circle cx="750.5" cy="412.4" r="1.0" fill="#aad055"/><circle cx="757.6" cy="331.2" r="1.1" fill="#cfe66c"/><circle cx="722.3" cy="371.0" r="1.2" fill="#98c24c"/><circle cx="774.5" cy="350.2" r="0.9" fill="#98c24c"/><circle cx="722.3" cy="321.7" r="1.5" fill="#bcdb5e"/><circle cx="769.4" cy="385.2" r="1.1" fill="#bcdb5e"/><circle cx="750.7" cy="355.2" r="0.9" fill="#aad055"/><circle cx="742.9" cy="432.3" r="1.2" fill="#cfe66c"/><circle cx="785.1" cy="396.7" r="1.3" fill="#98c24c"/><circle cx="748.5" cy="326.1" r="1.4" fill="#bcdb5e"/><circle cx="754.5" cy="407.2" r="1.2" fill="#98c24c"/><circle cx="775.0" cy="397.4" r="0.9" fill="#98c24c"/><circle cx="734.3" cy="324.7" r="0.9" fill="#aad055"/><circle cx="746.4" cy="410.2" r="1.3" fill="#aad055"/><circle cx="770.1" cy="404.4" r="0.9" fill="#cfe66c"/><circle cx="716.2" cy="349.7" r="1.3" fill="#aad055"/><circle cx="731.6" cy="358.7" r="1.2" fill="#bcdb5e"/><circle cx="789.0" cy="416.3" r="1.4" fill="#cfe66c"/><circle cx="769.0" cy="362.6" r="1.3" fill="#bcdb5e"/><circle cx="746.6" cy="334.2" r="1.0" fill="#aad055"/><circle cx="763.2" cy="380.5" r="0.8" fill="#bcdb5e"/><circle cx="762.5" cy="365.4" r="1.2" fill="#bcdb5e"/><circle cx="769.1" cy="366.8" r="1.1" fill="#aad055"/><circle cx="782.2" cy="390.3" r="0.8" fill="#98c24c"/><circle cx="757.5" cy="331.9" r="1.5" fill="#98c24c"/><circle cx="765.5" cy="339.5" r="1.6" fill="#bcdb5e"/><circle cx="771.2" cy="370.6" r="1.0" fill="#98c24c"/><circle cx="729.8" cy="431.2" r="1.0" fill="#cfe66c"/><circle cx="738.1" cy="381.5" r="1.1" fill="#bcdb5e"/><circle cx="752.3" cy="337.0" r="1.5" fill="#98c24c"/><circle cx="745.7" cy="383.6" r="1.0" fill="#bcdb5e"/><circle cx="765.6" cy="407.0" r="1.1" fill="#aad055"/><circle cx="720.2" cy="346.1" r="1.1" fill="#98c24c"/><circle cx="752.0" cy="393.1" r="1.4" fill="#98c24c"/><circle cx="737.0" cy="343.1" r="1.3" fill="#98c24c"/><circle cx="755.7" cy="424.3" r="1.5" fill="#aad055"/><circle cx="760.6" cy="328.0" r="1.6" fill="#cfe66c"/><circle cx="730.5" cy="332.5" r="0.8" fill="#bcdb5e"/><circle cx="756.0" cy="346.6" r="1.4" fill="#98c24c"/><circle cx="773.8" cy="385.9" r="1.2" fill="#aad055"/><circle cx="767.8" cy="346.5" r="0.8" fill="#98c24c"/><circle cx="702.4" cy="349.5" r="1.3" fill="#aad055"/><circle cx="761.1" cy="343.8" r="1.3" fill="#cfe66c"/><circle cx="747.7" cy="308.6" r="1.3" fill="#aad055"/><circle cx="765.3" cy="400.8" r="1.3" fill="#bcdb5e"/><circle cx="767.4" cy="415.0" r="1.0" fill="#cfe66c"/><circle cx="748.4" cy="373.1" r="1.1" fill="#98c24c"/><circle cx="778.0" cy="371.4" r="1.3" fill="#bcdb5e"/><circle cx="771.5" cy="419.2" r="1.1" fill="#bcdb5e"/><circle cx="736.8" cy="312.7" r="1.4" fill="#98c24c"/><circle cx="710.9" cy="327.8" r="1.2" fill="#98c24c"/><circle cx="733.3" cy="310.5" r="1.2" fill="#bcdb5e"/><circle cx="777.1" cy="384.5" r="1.3" fill="#98c24c"/><circle cx="746.4" cy="337.7" r="1.3" fill="#98c24c"/><circle cx="714.7" cy="322.4" r="1.5" fill="#aad055"/><circle cx="776.8" cy="401.0" r="0.9" fill="#cfe66c"/><circle cx="763.9" cy="348.4" r="1.1" fill="#cfe66c"/><circle cx="735.4" cy="339.9" r="0.9" fill="#cfe66c"/><circle cx="704.9" cy="346.6" r="1.6" fill="#cfe66c"/><circle cx="748.4" cy="420.1" r="1.3" fill="#bcdb5e"/><circle cx="768.9" cy="427.1" r="1.5" fill="#bcdb5e"/><circle cx="750.6" cy="377.7" r="1.3" fill="#aad055"/><circle cx="784.1" cy="398.7" r="0.8" fill="#98c24c"/><circle cx="721.3" cy="378.5" r="1.5" fill="#cfe66c"/><circle cx="756.0" cy="406.6" r="1.3" fill="#cfe66c"/><circle cx="796.6" cy="405.3" r="1.1" fill="#aad055"/><circle cx="758.6" cy="329.5" r="1.1" fill="#cfe66c"/><circle cx="739.3" cy="352.0" r="1.5" fill="#bcdb5e"/><circle cx="743.6" cy="398.3" r="1.2" fill="#98c24c"/><circle cx="765.7" cy="385.6" r="1.2" fill="#aad055"/><circle cx="730.2" cy="387.5" r="0.9" fill="#bcdb5e"/><circle cx="753.1" cy="386.6" r="1.2" fill="#98c24c"/><circle cx="756.4" cy="346.0" r="1.0" fill="#98c24c"/><circle cx="749.8" cy="334.5" r="1.4" fill="#bcdb5e"/><circle cx="758.3" cy="433.5" r="1.2" fill="#aad055"/><circle cx="794.1" cy="397.3" r="1.4" fill="#bcdb5e"/><circle cx="778.5" cy="419.7" r="1.0" fill="#98c24c"/><circle cx="747.7" cy="342.0" r="1.5" fill="#cfe66c"/><circle cx="723.5" cy="400.4" r="1.1" fill="#bcdb5e"/><circle cx="743.4" cy="379.3" r="0.8" fill="#aad055"/><circle cx="757.2" cy="333.5" r="1.5" fill="#bcdb5e"/><circle cx="741.1" cy="335.1" r="1.3" fill="#bcdb5e"/><circle cx="718.2" cy="324.2" r="1.0" fill="#98c24c"/><circle cx="777.6" cy="402.6" r="1.1" fill="#cfe66c"/><circle cx="765.9" cy="397.8" r="1.1" fill="#bcdb5e"/><circle cx="764.1" cy="344.5" r="1.1" fill="#98c24c"/><circle cx="774.0" cy="353.3" r="1.3" fill="#aad055"/><circle cx="765.5" cy="333.5" r="1.1" fill="#cfe66c"/><circle cx="767.8" cy="367.9" r="1.4" fill="#aad055"/><circle cx="761.3" cy="342.6" r="1.3" fill="#cfe66c"/><circle cx="756.0" cy="319.1" r="1.1" fill="#bcdb5e"/><circle cx="731.7" cy="355.1" r="1.1" fill="#98c24c"/><circle cx="785.9" cy="425.0" r="1.6" fill="#bcdb5e"/><circle cx="757.4" cy="421.9" r="1.1" fill="#cfe66c"/><circle cx="752.7" cy="390.6" r="1.4" fill="#cfe66c"/><circle cx="742.2" cy="311.1" r="1.5" fill="#98c24c"/><circle cx="707.0" cy="330.2" r="1.0" fill="#98c24c"/><circle cx="766.1" cy="377.5" r="1.6" fill="#aad055"/><circle cx="777.3" cy="374.2" r="1.1" fill="#aad055"/><circle cx="741.6" cy="399.6" r="1.5" fill="#cfe66c"/><circle cx="773.0" cy="415.8" r="1.4" fill="#aad055"/><circle cx="735.9" cy="384.3" r="1.4" fill="#98c24c"/><circle cx="740.4" cy="338.3" r="1.1" fill="#aad055"/><circle cx="732.9" cy="326.7" r="1.3" fill="#cfe66c"/><circle cx="749.4" cy="377.2" r="1.5" fill="#cfe66c"/><circle cx="788.0" cy="397.0" r="1.4" fill="#bcdb5e"/><circle cx="724.1" cy="385.4" r="0.9" fill="#bcdb5e"/><circle cx="751.0" cy="385.8" r="1.2" fill="#bcdb5e"/><circle cx="750.1" cy="375.5" r="1.4" fill="#cfe66c"/><circle cx="755.2" cy="330.8" r="1.3" fill="#98c24c"/><circle cx="744.0" cy="344.8" r="0.8" fill="#98c24c"/><circle cx="759.9" cy="370.1" r="0.9" fill="#bcdb5e"/><circle cx="750.4" cy="395.4" r="1.6" fill="#bcdb5e"/><circle cx="692.0" cy="344.9" r="1.3" fill="#cfe66c"/><circle cx="772.4" cy="410.2" r="1.2" fill="#cfe66c"/><circle cx="730.2" cy="381.4" r="1.4" fill="#aad055"/><circle cx="771.2" cy="361.6" r="1.5" fill="#aad055"/><circle cx="732.8" cy="344.2" r="1.5" fill="#98c24c"/><circle cx="754.3" cy="403.5" r="1.1" fill="#bcdb5e"/><circle cx="786.9" cy="383.6" r="0.9" fill="#98c24c"/><circle cx="757.3" cy="381.6" r="1.1" fill="#bcdb5e"/><circle cx="705.8" cy="335.0" r="1.4" fill="#cfe66c"/><circle cx="773.7" cy="361.4" r="0.9" fill="#cfe66c"/><circle cx="766.4" cy="359.0" r="0.9" fill="#98c24c"/><circle cx="725.2" cy="327.2" r="1.6" fill="#98c24c"/><circle cx="756.5" cy="360.1" r="1.5" fill="#cfe66c"/><circle cx="751.7" cy="317.4" r="0.9" fill="#bcdb5e"/><circle cx="741.1" cy="316.4" r="1.5" fill="#bcdb5e"/><circle cx="744.0" cy="392.3" r="1.4" fill="#aad055"/><circle cx="769.0" cy="396.0" r="1.0" fill="#bcdb5e"/><circle cx="778.6" cy="387.4" r="1.4" fill="#aad055"/><circle cx="735.6" cy="440.0" r="1.2" fill="#bcdb5e"/><circle cx="726.1" cy="351.4" r="0.9" fill="#cfe66c"/><circle cx="754.6" cy="340.8" r="0.9" fill="#aad055"/><circle cx="724.9" cy="336.0" r="1.1" fill="#aad055"/><circle cx="760.4" cy="346.5" r="1.3" fill="#bcdb5e"/><circle cx="744.2" cy="377.9" r="1.3" fill="#aad055"/><circle cx="708.2" cy="353.9" r="0.9" fill="#cfe66c"/><circle cx="761.4" cy="346.5" r="1.0" fill="#aad055"/><circle cx="728.6" cy="410.1" r="1.5" fill="#98c24c"/><circle cx="738.3" cy="329.6" r="1.3" fill="#aad055"/><circle cx="708.0" cy="326.7" r="1.3" fill="#98c24c"/><circle cx="750.9" cy="433.6" r="1.0" fill="#98c24c"/><circle cx="763.9" cy="335.8" r="1.0" fill="#98c24c"/><circle cx="791.2" cy="400.9" r="1.1" fill="#bcdb5e"/><circle cx="742.8" cy="437.4" r="1.2" fill="#aad055"/><circle cx="764.3" cy="372.3" r="1.0" fill="#98c24c"/><circle cx="744.9" cy="346.4" r="1.4" fill="#98c24c"/><circle cx="754.3" cy="324.5" r="1.5" fill="#bcdb5e"/><circle cx="775.1" cy="367.9" r="1.5" fill="#aad055"/><circle cx="779.5" cy="363.9" r="1.5" fill="#98c24c"/><circle cx="748.8" cy="426.2" r="1.4" fill="#aad055"/><circle cx="732.2" cy="420.2" r="1.4" fill="#bcdb5e"/><circle cx="777.1" cy="400.8" r="1.5" fill="#aad055"/><circle cx="791.3" cy="382.0" r="0.8" fill="#aad055"/><circle cx="777.4" cy="375.3" r="1.2" fill="#cfe66c"/><circle cx="717.1" cy="331.3" r="1.2" fill="#98c24c"/><circle cx="779.5" cy="378.2" r="1.3" fill="#98c24c"/><circle cx="791.0" cy="393.4" r="1.3" fill="#bcdb5e"/><circle cx="781.7" cy="387.9" r="0.9" fill="#cfe66c"/><circle cx="702.8" cy="337.6" r="1.0" fill="#bcdb5e"/><circle cx="736.0" cy="352.7" r="1.5" fill="#bcdb5e"/><circle cx="774.4" cy="397.8" r="1.2" fill="#cfe66c"/><circle cx="737.3" cy="404.2" r="1.3" fill="#cfe66c"/><circle cx="707.5" cy="427.4" r="1.5" fill="#cfe66c"/><circle cx="771.7" cy="365.3" r="1.1" fill="#aad055"/><circle cx="782.4" cy="377.7" r="0.9" fill="#aad055"/><circle cx="738.8" cy="332.0" r="1.2" fill="#98c24c"/><circle cx="736.5" cy="411.0" r="1.3" fill="#bcdb5e"/><circle cx="731.2" cy="408.7" r="1.0" fill="#cfe66c"/><circle cx="782.3" cy="403.4" r="1.1" fill="#aad055"/><circle cx="753.5" cy="342.0" r="0.9" fill="#98c24c"/><circle cx="756.1" cy="411.6" r="1.3" fill="#cfe66c"/><circle cx="738.2" cy="319.8" r="1.6" fill="#cfe66c"/><circle cx="743.4" cy="383.8" r="1.2" fill="#bcdb5e"/><circle cx="713.9" cy="329.0" r="1.4" fill="#cfe66c"/><circle cx="734.3" cy="334.2" r="1.0" fill="#aad055"/><circle cx="779.0" cy="407.6" r="1.0" fill="#98c24c"/><circle cx="763.7" cy="415.8" r="1.4" fill="#aad055"/><circle cx="715.7" cy="323.7" r="0.8" fill="#98c24c"/><circle cx="719.8" cy="389.6" r="1.1" fill="#cfe66c"/><circle cx="753.7" cy="409.8" r="1.0" fill="#98c24c"/><circle cx="776.8" cy="400.1" r="1.3" fill="#bcdb5e"/><circle cx="711.7" cy="322.9" r="1.6" fill="#cfe66c"/><circle cx="748.0" cy="344.7" r="1.3" fill="#bcdb5e"/><circle cx="764.7" cy="400.1" r="0.9" fill="#bcdb5e"/><circle cx="708.3" cy="345.7" r="1.0" fill="#bcdb5e"/><circle cx="724.9" cy="397.3" r="1.1" fill="#98c24c"/><circle cx="752.6" cy="346.2" r="1.1" fill="#98c24c"/><circle cx="783.0" cy="405.9" r="0.8" fill="#bcdb5e"/><circle cx="760.6" cy="386.8" r="1.0" fill="#cfe66c"/><circle cx="692.2" cy="350.8" r="1.4" fill="#aad055"/><circle cx="764.7" cy="401.8" r="1.6" fill="#cfe66c"/><circle cx="771.8" cy="351.4" r="1.0" fill="#cfe66c"/><circle cx="712.9" cy="345.3" r="1.5" fill="#98c24c"/><circle cx="781.4" cy="396.3" r="1.3" fill="#cfe66c"/><circle cx="722.3" cy="386.4" r="0.9" fill="#98c24c"/><circle cx="744.1" cy="319.9" r="1.2" fill="#cfe66c"/><circle cx="775.9" cy="422.9" r="1.6" fill="#98c24c"/><circle cx="765.8" cy="406.7" r="1.4" fill="#aad055"/><circle cx="745.2" cy="428.0" r="1.5" fill="#aad055"/><circle cx="764.3" cy="379.4" r="1.3" fill="#cfe66c"/><circle cx="717.0" cy="361.4" r="1.4" fill="#98c24c"/><circle cx="730.3" cy="426.3" r="1.1" fill="#cfe66c"/><circle cx="742.9" cy="378.1" r="1.5" fill="#bcdb5e"/><circle cx="766.4" cy="409.9" r="1.0" fill="#98c24c"/><circle cx="722.8" cy="408.4" r="0.9" fill="#bcdb5e"/><circle cx="721.2" cy="329.9" r="1.1" fill="#bcdb5e"/><circle cx="775.9" cy="417.1" r="1.2" fill="#cfe66c"/><circle cx="787.2" cy="381.2" r="1.5" fill="#cfe66c"/><circle cx="764.5" cy="410.8" r="1.4" fill="#aad055"/><circle cx="764.5" cy="343.8" r="1.5" fill="#cfe66c"/><circle cx="737.1" cy="318.9" r="1.3" fill="#98c24c"/><circle cx="755.5" cy="374.1" r="0.9" fill="#cfe66c"/><circle cx="792.3" cy="402.1" r="1.0" fill="#aad055"/><circle cx="764.3" cy="349.7" r="0.9" fill="#cfe66c"/><circle cx="746.6" cy="344.3" r="1.0" fill="#bcdb5e"/><circle cx="740.4" cy="309.2" r="0.9" fill="#98c24c"/><circle cx="786.8" cy="407.1" r="1.0" fill="#cfe66c"/><circle cx="747.2" cy="348.0" r="1.0" fill="#98c24c"/><circle cx="780.5" cy="379.9" r="1.3" fill="#98c24c"/><circle cx="776.9" cy="405.3" r="1.2" fill="#bcdb5e"/><circle cx="735.6" cy="327.8" r="0.8" fill="#bcdb5e"/><circle cx="739.0" cy="332.3" r="1.0" fill="#bcdb5e"/><circle cx="731.4" cy="335.4" r="1.5" fill="#aad055"/><circle cx="730.7" cy="427.3" r="1.5" fill="#98c24c"/><circle cx="743.7" cy="340.4" r="1.1" fill="#98c24c"/><circle cx="721.4" cy="420.4" r="0.9" fill="#98c24c"/><circle cx="715.6" cy="415.7" r="1.0" fill="#98c24c"/><circle cx="767.3" cy="402.4" r="0.8" fill="#aad055"/><circle cx="786.4" cy="380.0" r="0.8" fill="#98c24c"/><circle cx="717.4" cy="336.5" r="0.8" fill="#98c24c"/><circle cx="735.5" cy="427.8" r="1.6" fill="#bcdb5e"/><circle cx="737.3" cy="316.7" r="1.1" fill="#cfe66c"/><circle cx="766.7" cy="398.3" r="1.6" fill="#98c24c"/><circle cx="785.0" cy="401.9" r="1.2" fill="#cfe66c"/><circle cx="741.1" cy="342.9" r="1.0" fill="#98c24c"/><circle cx="771.1" cy="361.2" r="1.3" fill="#cfe66c"/><circle cx="756.3" cy="330.2" r="1.5" fill="#98c24c"/><circle cx="757.1" cy="437.4" r="1.0" fill="#bcdb5e"/><circle cx="763.2" cy="392.0" r="1.6" fill="#bcdb5e"/><circle cx="738.2" cy="368.5" r="1.4" fill="#cfe66c"/><circle cx="756.8" cy="435.0" r="1.3" fill="#98c24c"/><circle cx="759.1" cy="338.6" r="1.2" fill="#cfe66c"/><circle cx="776.2" cy="408.2" r="1.0" fill="#bcdb5e"/><circle cx="757.3" cy="341.3" r="1.5" fill="#aad055"/><circle cx="723.8" cy="323.3" r="1.3" fill="#bcdb5e"/><circle cx="750.1" cy="398.6" r="1.3" fill="#bcdb5e"/><circle cx="747.9" cy="425.6" r="1.0" fill="#98c24c"/><circle cx="791.8" cy="406.4" r="0.9" fill="#cfe66c"/><circle cx="761.2" cy="380.6" r="1.4" fill="#cfe66c"/><circle cx="745.4" cy="435.5" r="0.8" fill="#bcdb5e"/><circle cx="758.8" cy="312.1" r="1.0" fill="#cfe66c"/><circle cx="730.5" cy="387.8" r="0.9" fill="#aad055"/><circle cx="785.6" cy="392.4" r="1.5" fill="#aad055"/><circle cx="766.0" cy="423.7" r="1.4" fill="#98c24c"/><circle cx="771.3" cy="410.8" r="1.6" fill="#98c24c"/><circle cx="723.3" cy="335.6" r="1.6" fill="#aad055"/><circle cx="756.1" cy="359.8" r="1.2" fill="#bcdb5e"/><circle cx="766.3" cy="333.2" r="1.0" fill="#bcdb5e"/><circle cx="732.1" cy="324.2" r="1.5" fill="#98c24c"/><circle cx="734.6" cy="407.9" r="1.1" fill="#aad055"/><circle cx="763.1" cy="394.0" r="1.1" fill="#aad055"/><circle cx="770.0" cy="424.1" r="1.2" fill="#aad055"/><circle cx="787.3" cy="407.0" r="0.9" fill="#98c24c"/><circle cx="763.3" cy="393.5" r="1.4" fill="#cfe66c"/><circle cx="763.5" cy="436.5" r="1.4" fill="#cfe66c"/><circle cx="766.1" cy="360.8" r="0.9" fill="#bcdb5e"/><circle cx="738.0" cy="307.8" r="1.4" fill="#aad055"/><circle cx="726.3" cy="336.0" r="0.9" fill="#bcdb5e"/><circle cx="778.1" cy="404.4" r="1.5" fill="#aad055"/><circle cx="755.1" cy="371.3" r="1.5" fill="#bcdb5e"/><circle cx="731.3" cy="330.2" r="1.3" fill="#aad055"/><circle cx="738.2" cy="430.8" r="1.6" fill="#bcdb5e"/><circle cx="759.9" cy="349.3" r="1.0" fill="#bcdb5e"/><circle cx="743.1" cy="347.0" r="1.1" fill="#aad055"/><circle cx="741.5" cy="346.8" r="1.4" fill="#aad055"/><circle cx="779.7" cy="406.7" r="1.5" fill="#aad055"/><circle cx="761.1" cy="382.0" r="1.5" fill="#cfe66c"/><circle cx="762.8" cy="383.9" r="0.9" fill="#aad055"/><circle cx="757.5" cy="333.1" r="1.1" fill="#98c24c"/><circle cx="772.8" cy="400.8" r="1.3" fill="#bcdb5e"/><circle cx="702.8" cy="342.6" r="1.2" fill="#aad055"/><circle cx="747.8" cy="330.0" r="1.5" fill="#bcdb5e"/><circle cx="775.3" cy="419.9" r="1.3" fill="#aad055"/><circle cx="709.5" cy="328.2" r="1.5" fill="#cfe66c"/><circle cx="751.6" cy="341.3" r="1.3" fill="#aad055"/><circle cx="766.8" cy="395.0" r="0.8" fill="#cfe66c"/><circle cx="762.7" cy="392.9" r="1.5" fill="#bcdb5e"/><circle cx="743.8" cy="384.3" r="1.3" fill="#aad055"/><circle cx="720.5" cy="325.0" r="1.0" fill="#bcdb5e"/><circle cx="738.4" cy="393.8" r="1.4" fill="#cfe66c"/><circle cx="762.4" cy="391.1" r="1.3" fill="#aad055"/><circle cx="730.4" cy="370.9" r="1.0" fill="#cfe66c"/><circle cx="770.7" cy="350.4" r="1.4" fill="#98c24c"/><circle cx="733.4" cy="395.1" r="0.8" fill="#bcdb5e"/><circle cx="751.1" cy="313.8" r="1.6" fill="#bcdb5e"/><circle cx="720.8" cy="391.8" r="0.8" fill="#98c24c"/><circle cx="725.4" cy="374.8" r="1.3" fill="#bcdb5e"/><circle cx="753.1" cy="354.0" r="0.8" fill="#bcdb5e"/><circle cx="750.5" cy="339.7" r="1.3" fill="#bcdb5e"/><circle cx="748.3" cy="381.3" r="1.0" fill="#bcdb5e"/><circle cx="708.9" cy="426.9" r="1.5" fill="#cfe66c"/><circle cx="785.6" cy="397.2" r="1.3" fill="#aad055"/><circle cx="745.7" cy="371.5" r="1.2" fill="#bcdb5e"/><circle cx="743.3" cy="371.6" r="1.5" fill="#cfe66c"/><circle cx="773.0" cy="401.2" r="1.3" fill="#bcdb5e"/><circle cx="765.7" cy="355.0" r="1.6" fill="#98c24c"/><circle cx="688.9" cy="346.6" r="1.0" fill="#cfe66c"/><circle cx="740.7" cy="433.9" r="1.6" fill="#cfe66c"/><circle cx="725.9" cy="398.5" r="1.5" fill="#aad055"/><circle cx="751.6" cy="335.4" r="1.3" fill="#98c24c"/><circle cx="709.9" cy="343.7" r="1.5" fill="#bcdb5e"/><circle cx="763.7" cy="424.6" r="1.4" fill="#98c24c"/><circle cx="714.5" cy="333.2" r="1.3" fill="#cfe66c"/><circle cx="746.0" cy="370.5" r="0.9" fill="#aad055"/><circle cx="746.1" cy="403.5" r="1.4" fill="#aad055"/><circle cx="723.1" cy="306.1" r="1.4" fill="#aad055"/><circle cx="756.0" cy="326.1" r="1.2" fill="#aad055"/><circle cx="768.5" cy="399.5" r="1.6" fill="#cfe66c"/><circle cx="714.3" cy="414.2" r="1.0" fill="#aad055"/><circle cx="779.1" cy="418.1" r="1.3" fill="#cfe66c"/><circle cx="728.3" cy="373.8" r="1.5" fill="#cfe66c"/><circle cx="770.8" cy="379.7" r="1.3" fill="#cfe66c"/><circle cx="738.4" cy="348.7" r="1.1" fill="#bcdb5e"/><circle cx="732.5" cy="417.7" r="1.2" fill="#98c24c"/><circle cx="731.2" cy="393.5" r="0.8" fill="#98c24c"/><circle cx="750.1" cy="346.3" r="1.0" fill="#bcdb5e"/><circle cx="763.1" cy="409.4" r="1.5" fill="#aad055"/><circle cx="759.7" cy="422.3" r="1.3" fill="#98c24c"/><circle cx="758.6" cy="394.4" r="0.8" fill="#aad055"/><circle cx="779.3" cy="390.9" r="1.4" fill="#aad055"/><circle cx="747.4" cy="348.3" r="1.4" fill="#aad055"/><circle cx="725.9" cy="375.3" r="0.9" fill="#bcdb5e"/><circle cx="775.1" cy="415.1" r="1.0" fill="#aad055"/><circle cx="743.6" cy="356.7" r="1.3" fill="#bcdb5e"/><circle cx="734.4" cy="365.1" r="1.6" fill="#aad055"/><circle cx="728.7" cy="438.4" r="1.0" fill="#aad055"/><circle cx="744.5" cy="393.2" r="1.6" fill="#cfe66c"/><circle cx="737.6" cy="381.4" r="1.4" fill="#cfe66c"/><circle cx="768.0" cy="417.6" r="1.4" fill="#cfe66c"/><circle cx="769.5" cy="399.2" r="1.4" fill="#98c24c"/><circle cx="781.9" cy="421.4" r="1.4" fill="#aad055"/><circle cx="751.5" cy="413.6" r="0.9" fill="#aad055"/><circle cx="743.0" cy="321.9" r="1.6" fill="#cfe66c"/><circle cx="733.4" cy="340.0" r="1.2" fill="#cfe66c"/><circle cx="742.5" cy="334.7" r="1.0" fill="#bcdb5e"/><circle cx="779.7" cy="413.6" r="0.8" fill="#cfe66c"/><circle cx="741.2" cy="353.7" r="1.4" fill="#cfe66c"/><circle cx="744.7" cy="364.3" r="1.4" fill="#cfe66c"/><circle cx="771.7" cy="389.1" r="1.6" fill="#cfe66c"/><circle cx="757.8" cy="389.7" r="1.3" fill="#cfe66c"/><circle cx="724.2" cy="391.2" r="1.3" fill="#bcdb5e"/><circle cx="725.1" cy="326.0" r="1.4" fill="#cfe66c"/><circle cx="732.9" cy="407.3" r="1.2" fill="#98c24c"/><circle cx="769.4" cy="398.7" r="1.1" fill="#bcdb5e"/><circle cx="729.8" cy="354.9" r="1.0" fill="#aad055"/><circle cx="759.3" cy="406.1" r="0.9" fill="#cfe66c"/><circle cx="756.3" cy="362.3" r="1.1" fill="#aad055"/><circle cx="749.3" cy="325.3" r="0.9" fill="#cfe66c"/><circle cx="754.5" cy="336.2" r="1.3" fill="#cfe66c"/><circle cx="751.6" cy="378.7" r="0.9" fill="#bcdb5e"/><circle cx="740.6" cy="347.3" r="1.4" fill="#aad055"/><circle cx="726.7" cy="404.5" r="1.3" fill="#98c24c"/><circle cx="734.6" cy="442.7" r="1.3" fill="#bcdb5e"/><circle cx="758.5" cy="349.2" r="1.4" fill="#aad055"/><circle cx="753.0" cy="423.9" r="1.5" fill="#aad055"/><circle cx="765.4" cy="375.1" r="1.6" fill="#cfe66c"/><circle cx="774.7" cy="378.9" r="1.5" fill="#bcdb5e"/><circle cx="745.3" cy="399.3" r="0.9" fill="#bcdb5e"/><circle cx="735.3" cy="325.2" r="1.0" fill="#aad055"/><circle cx="776.4" cy="372.4" r="1.1" fill="#aad055"/><circle cx="737.1" cy="427.1" r="1.2" fill="#cfe66c"/><circle cx="771.1" cy="426.3" r="1.2" fill="#aad055"/><circle cx="745.1" cy="386.3" r="1.0" fill="#98c24c"/><circle cx="744.7" cy="334.5" r="1.0" fill="#cfe66c"/><circle cx="743.3" cy="389.6" r="1.1" fill="#cfe66c"/><circle cx="761.2" cy="334.7" r="1.5" fill="#cfe66c"/><circle cx="759.4" cy="350.4" r="1.5" fill="#98c24c"/><circle cx="771.7" cy="394.3" r="1.4" fill="#bcdb5e"/><circle cx="761.4" cy="334.9" r="0.9" fill="#98c24c"/><circle cx="737.9" cy="370.3" r="1.5" fill="#aad055"/><circle cx="769.3" cy="355.3" r="1.1" fill="#98c24c"/><circle cx="755.4" cy="397.4" r="0.9" fill="#cfe66c"/><circle cx="749.5" cy="342.5" r="1.1" fill="#bcdb5e"/><circle cx="776.3" cy="421.7" r="1.2" fill="#98c24c"/><circle cx="774.1" cy="394.5" r="0.9" fill="#aad055"/><circle cx="785.4" cy="400.3" r="1.4" fill="#cfe66c"/><circle cx="790.1" cy="396.1" r="1.0" fill="#bcdb5e"/><circle cx="768.5" cy="333.6" r="1.0" fill="#cfe66c"/><circle cx="759.9" cy="351.5" r="0.9" fill="#cfe66c"/><circle cx="775.1" cy="399.5" r="1.5" fill="#98c24c"/><circle cx="778.6" cy="418.6" r="1.4" fill="#cfe66c"/><circle cx="744.4" cy="334.0" r="1.2" fill="#cfe66c"/><circle cx="745.3" cy="335.4" r="1.2" fill="#cfe66c"/><circle cx="736.6" cy="342.5" r="0.9" fill="#bcdb5e"/><circle cx="728.2" cy="367.4" r="1.2" fill="#bcdb5e"/><circle cx="767.4" cy="342.1" r="1.3" fill="#cfe66c"/><circle cx="765.0" cy="402.1" r="1.2" fill="#aad055"/><circle cx="745.2" cy="319.9" r="1.3" fill="#98c24c"/><circle cx="756.7" cy="382.0" r="1.2" fill="#aad055"/><circle cx="742.4" cy="405.4" r="1.1" fill="#98c24c"/><circle cx="727.6" cy="348.4" r="1.5" fill="#bcdb5e"/><circle cx="755.7" cy="324.8" r="1.1" fill="#cfe66c"/><circle cx="762.5" cy="377.6" r="1.3" fill="#aad055"/><circle cx="751.2" cy="426.7" r="1.1" fill="#aad055"/><circle cx="733.2" cy="430.6" r="0.8" fill="#98c24c"/><circle cx="764.1" cy="383.3" r="1.2" fill="#aad055"/><circle cx="760.4" cy="409.3" r="1.3" fill="#bcdb5e"/><circle cx="783.4" cy="421.8" r="1.6" fill="#bcdb5e"/><circle cx="777.1" cy="429.6" r="1.1" fill="#bcdb5e"/><circle cx="764.3" cy="343.8" r="1.6" fill="#aad055"/><circle cx="772.7" cy="389.1" r="0.8" fill="#98c24c"/><circle cx="709.8" cy="384.3" r="1.6" fill="#cfe66c"/><circle cx="783.3" cy="393.3" r="1.3" fill="#aad055"/><circle cx="745.2" cy="312.1" r="1.5" fill="#98c24c"/><circle cx="763.2" cy="433.2" r="1.1" fill="#98c24c"/><circle cx="723.0" cy="411.5" r="1.4" fill="#cfe66c"/><circle cx="726.9" cy="323.5" r="1.4" fill="#bcdb5e"/><circle cx="739.6" cy="384.2" r="1.3" fill="#cfe66c"/><circle cx="736.2" cy="395.1" r="1.5" fill="#aad055"/><circle cx="783.1" cy="407.3" r="1.1" fill="#cfe66c"/><circle cx="736.2" cy="375.1" r="0.9" fill="#cfe66c"/><circle cx="751.8" cy="424.7" r="0.8" fill="#98c24c"/><circle cx="736.6" cy="310.0" r="1.5" fill="#cfe66c"/><circle cx="756.9" cy="342.6" r="1.4" fill="#aad055"/><circle cx="743.0" cy="364.1" r="1.5" fill="#aad055"/><circle cx="744.1" cy="367.7" r="1.4" fill="#98c24c"/><circle cx="753.5" cy="438.1" r="1.3" fill="#98c24c"/><circle cx="746.9" cy="404.5" r="1.0" fill="#aad055"/><circle cx="747.3" cy="403.8" r="0.9" fill="#cfe66c"/><circle cx="706.0" cy="318.0" r="1.1" fill="#bcdb5e"/><circle cx="772.7" cy="384.7" r="1.1" fill="#aad055"/><circle cx="740.0" cy="386.6" r="1.1" fill="#aad055"/><circle cx="739.0" cy="378.9" r="1.3" fill="#cfe66c"/><circle cx="765.2" cy="370.8" r="1.6" fill="#bcdb5e"/><circle cx="770.4" cy="350.2" r="1.4" fill="#98c24c"/><circle cx="776.0" cy="362.1" r="0.9" fill="#bcdb5e"/><circle cx="735.2" cy="346.8" r="1.4" fill="#bcdb5e"/><circle cx="747.9" cy="371.2" r="1.4" fill="#aad055"/><circle cx="757.7" cy="364.9" r="1.0" fill="#aad055"/><circle cx="753.7" cy="427.0" r="0.9" fill="#bcdb5e"/><circle cx="747.0" cy="320.5" r="1.2" fill="#98c24c"/><circle cx="741.6" cy="413.3" r="0.9" fill="#cfe66c"/><circle cx="778.7" cy="370.9" r="1.3" fill="#bcdb5e"/><circle cx="794.5" cy="393.2" r="1.5" fill="#98c24c"/><circle cx="766.2" cy="350.2" r="1.3" fill="#98c24c"/><circle cx="761.1" cy="421.9" r="0.9" fill="#aad055"/><circle cx="727.2" cy="309.7" r="1.1" fill="#cfe66c"/><circle cx="764.8" cy="362.5" r="1.0" fill="#98c24c"/><circle cx="753.7" cy="424.0" r="1.4" fill="#98c24c"/><circle cx="767.9" cy="402.2" r="1.0" fill="#cfe66c"/><circle cx="786.1" cy="405.7" r="1.0" fill="#aad055"/><circle cx="760.4" cy="348.4" r="1.4" fill="#98c24c"/><circle cx="743.6" cy="318.8" r="1.6" fill="#bcdb5e"/><circle cx="771.0" cy="409.1" r="1.3" fill="#bcdb5e"/><circle cx="781.6" cy="383.1" r="0.9" fill="#aad055"/><circle cx="770.2" cy="408.9" r="1.4" fill="#cfe66c"/><circle cx="726.6" cy="342.0" r="1.2" fill="#bcdb5e"/><circle cx="770.1" cy="390.8" r="1.3" fill="#cfe66c"/><circle cx="715.4" cy="334.1" r="1.3" fill="#aad055"/><circle cx="685.2" cy="351.8" r="1.6" fill="#bcdb5e"/><circle cx="747.7" cy="406.3" r="1.3" fill="#bcdb5e"/><circle cx="739.7" cy="392.3" r="1.5" fill="#cfe66c"/><circle cx="763.7" cy="342.6" r="0.9" fill="#bcdb5e"/><circle cx="769.0" cy="386.4" r="1.1" fill="#cfe66c"/><circle cx="745.2" cy="346.0" r="1.1" fill="#aad055"/><circle cx="772.4" cy="394.6" r="1.2" fill="#bcdb5e"/><circle cx="717.8" cy="321.6" r="0.9" fill="#98c24c"/><circle cx="747.4" cy="433.1" r="1.0" fill="#bcdb5e"/><circle cx="737.0" cy="428.8" r="1.5" fill="#aad055"/><circle cx="761.4" cy="403.1" r="1.4" fill="#bcdb5e"/><circle cx="764.4" cy="369.9" r="1.3" fill="#bcdb5e"/><circle cx="746.9" cy="329.1" r="1.4" fill="#98c24c"/><circle cx="750.3" cy="421.3" r="1.2" fill="#bcdb5e"/><circle cx="713.7" cy="317.7" r="1.5" fill="#aad055"/><circle cx="752.0" cy="376.1" r="1.1" fill="#98c24c"/><circle cx="759.6" cy="423.5" r="1.0" fill="#cfe66c"/><circle cx="711.9" cy="324.1" r="0.9" fill="#98c24c"/><circle cx="752.0" cy="354.4" r="0.8" fill="#aad055"/><circle cx="732.2" cy="426.7" r="1.4" fill="#aad055"/><circle cx="738.3" cy="349.9" r="1.1" fill="#cfe66c"/><circle cx="759.0" cy="419.6" r="1.5" fill="#98c24c"/><circle cx="773.7" cy="371.0" r="0.8" fill="#cfe66c"/><circle cx="744.1" cy="383.4" r="0.9" fill="#98c24c"/><circle cx="767.0" cy="424.3" r="1.4" fill="#cfe66c"/><circle cx="769.6" cy="365.0" r="1.0" fill="#bcdb5e"/><circle cx="756.4" cy="394.3" r="1.0" fill="#98c24c"/><circle cx="738.3" cy="405.6" r="0.8" fill="#cfe66c"/><circle cx="770.0" cy="388.7" r="0.9" fill="#aad055"/><circle cx="785.2" cy="408.9" r="1.5" fill="#aad055"/><circle cx="709.6" cy="325.0" r="1.0" fill="#cfe66c"/><circle cx="756.7" cy="331.3" r="1.5" fill="#98c24c"/><circle cx="782.0" cy="389.4" r="1.4" fill="#98c24c"/><circle cx="744.3" cy="367.8" r="1.0" fill="#aad055"/><circle cx="726.8" cy="362.2" r="1.4" fill="#cfe66c"/><circle cx="783.6" cy="386.8" r="1.3" fill="#bcdb5e"/><circle cx="759.8" cy="365.3" r="0.9" fill="#cfe66c"/><circle cx="770.2" cy="366.6" r="1.5" fill="#aad055"/><circle cx="760.3" cy="412.4" r="0.9" fill="#aad055"/><circle cx="781.0" cy="371.8" r="0.9" fill="#cfe66c"/><circle cx="782.6" cy="390.6" r="1.0" fill="#aad055"/><circle cx="744.5" cy="400.8" r="1.0" fill="#cfe66c"/><circle cx="743.0" cy="383.5" r="1.5" fill="#bcdb5e"/><circle cx="751.0" cy="421.6" r="1.3" fill="#aad055"/><circle cx="759.1" cy="420.4" r="1.6" fill="#98c24c"/><circle cx="775.1" cy="368.2" r="1.1" fill="#cfe66c"/><circle cx="731.7" cy="306.5" r="1.2" fill="#98c24c"/><circle cx="777.9" cy="419.3" r="0.9" fill="#bcdb5e"/><circle cx="743.5" cy="381.8" r="0.9" fill="#aad055"/><circle cx="770.2" cy="383.7" r="0.9" fill="#cfe66c"/><circle cx="762.5" cy="357.7" r="1.4" fill="#cfe66c"/><circle cx="718.0" cy="376.7" r="0.9" fill="#cfe66c"/><circle cx="757.3" cy="370.4" r="1.4" fill="#98c24c"/><circle cx="761.1" cy="402.7" r="1.1" fill="#aad055"/><circle cx="765.8" cy="383.8" r="1.5" fill="#aad055"/><circle cx="771.5" cy="359.8" r="1.0" fill="#bcdb5e"/><circle cx="734.1" cy="404.6" r="1.5" fill="#aad055"/><circle cx="749.2" cy="377.9" r="1.5" fill="#bcdb5e"/><circle cx="727.1" cy="331.4" r="1.1" fill="#aad055"/><circle cx="735.0" cy="418.4" r="1.2" fill="#98c24c"/><circle cx="771.8" cy="390.0" r="0.8" fill="#aad055"/><circle cx="766.3" cy="345.8" r="1.3" fill="#bcdb5e"/><circle cx="756.3" cy="366.6" r="1.3" fill="#98c24c"/><circle cx="738.2" cy="327.1" r="1.1" fill="#98c24c"/><circle cx="736.7" cy="337.0" r="1.0" fill="#bcdb5e"/><circle cx="725.0" cy="416.6" r="1.0" fill="#bcdb5e"/><circle cx="736.7" cy="385.6" r="1.6" fill="#bcdb5e"/><circle cx="773.0" cy="364.9" r="0.9" fill="#bcdb5e"/><circle cx="769.8" cy="354.6" r="1.1" fill="#bcdb5e"/><circle cx="744.4" cy="337.2" r="0.8" fill="#98c24c"/><circle cx="754.0" cy="334.0" r="1.4" fill="#cfe66c"/><circle cx="766.5" cy="406.7" r="1.5" fill="#aad055"/><circle cx="739.6" cy="338.1" r="1.5" fill="#98c24c"/><circle cx="752.8" cy="348.5" r="1.5" fill="#aad055"/><circle cx="757.8" cy="419.6" r="1.5" fill="#cfe66c"/><circle cx="761.8" cy="409.9" r="1.0" fill="#98c24c"/><circle cx="764.6" cy="356.2" r="1.4" fill="#bcdb5e"/><circle cx="795.1" cy="407.5" r="0.9" fill="#98c24c"/><circle cx="758.9" cy="327.6" r="1.4" fill="#cfe66c"/><circle cx="725.8" cy="375.5" r="1.1" fill="#cfe66c"/><circle cx="749.4" cy="327.9" r="1.6" fill="#cfe66c"/><circle cx="724.1" cy="366.2" r="1.6" fill="#98c24c"/><circle cx="782.2" cy="406.6" r="1.4" fill="#bcdb5e"/><circle cx="776.7" cy="364.6" r="1.5" fill="#bcdb5e"/><circle cx="765.6" cy="402.3" r="0.8" fill="#bcdb5e"/><circle cx="796.0" cy="395.1" r="1.3" fill="#cfe66c"/><circle cx="710.7" cy="333.6" r="1.4" fill="#bcdb5e"/><circle cx="750.5" cy="410.0" r="1.5" fill="#bcdb5e"/><circle cx="756.4" cy="356.2" r="0.8" fill="#cfe66c"/><circle cx="752.0" cy="424.6" r="1.0" fill="#98c24c"/><circle cx="770.3" cy="345.4" r="1.2" fill="#cfe66c"/><circle cx="755.4" cy="372.8" r="1.3" fill="#aad055"/><circle cx="771.3" cy="394.5" r="0.8" fill="#cfe66c"/><circle cx="772.5" cy="421.1" r="1.2" fill="#bcdb5e"/><circle cx="744.4" cy="337.0" r="1.2" fill="#cfe66c"/><circle cx="745.2" cy="354.6" r="1.3" fill="#aad055"/><circle cx="730.6" cy="373.3" r="0.9" fill="#aad055"/><circle cx="737.4" cy="398.2" r="1.4" fill="#bcdb5e"/><circle cx="767.9" cy="364.9" r="1.1" fill="#aad055"/><circle cx="702.7" cy="351.5" r="0.8" fill="#98c24c"/><circle cx="752.5" cy="383.0" r="1.6" fill="#aad055"/><circle cx="748.6" cy="420.0" r="1.1" fill="#98c24c"/><circle cx="763.8" cy="365.2" r="1.6" fill="#aad055"/><circle cx="734.9" cy="364.0" r="0.9" fill="#98c24c"/><circle cx="741.0" cy="404.3" r="1.3" fill="#98c24c"/><circle cx="750.4" cy="403.5" r="1.1" fill="#98c24c"/><circle cx="748.6" cy="311.7" r="0.9" fill="#cfe66c"/><circle cx="765.4" cy="415.4" r="1.2" fill="#aad055"/><circle cx="789.7" cy="375.3" r="1.0" fill="#cfe66c"/><circle cx="732.5" cy="427.3" r="1.3" fill="#aad055"/><circle cx="730.7" cy="329.0" r="1.5" fill="#bcdb5e"/><circle cx="733.4" cy="350.9" r="1.3" fill="#98c24c"/><circle cx="757.1" cy="404.4" r="1.1" fill="#aad055"/><circle cx="712.8" cy="324.4" r="0.9" fill="#cfe66c"/><circle cx="730.1" cy="314.1" r="1.2" fill="#cfe66c"/><circle cx="743.6" cy="377.9" r="1.3" fill="#98c24c"/><circle cx="721.4" cy="422.4" r="1.6" fill="#aad055"/><circle cx="724.5" cy="334.6" r="1.6" fill="#98c24c"/><circle cx="737.7" cy="378.6" r="0.9" fill="#bcdb5e"/><circle cx="708.6" cy="328.1" r="1.2" fill="#bcdb5e"/><circle cx="742.0" cy="422.3" r="1.2" fill="#98c24c"/><circle cx="718.8" cy="351.2" r="1.0" fill="#bcdb5e"/><circle cx="740.1" cy="415.7" r="0.9" fill="#cfe66c"/><circle cx="783.3" cy="417.5" r="1.5" fill="#cfe66c"/><circle cx="742.0" cy="425.1" r="1.0" fill="#98c24c"/><circle cx="749.9" cy="308.9" r="1.4" fill="#bcdb5e"/><circle cx="741.7" cy="399.3" r="1.4" fill="#cfe66c"/><circle cx="758.3" cy="332.0" r="1.4" fill="#aad055"/><circle cx="758.0" cy="390.0" r="1.2" fill="#98c24c"/><circle cx="721.5" cy="371.2" r="1.2" fill="#cfe66c"/><circle cx="741.5" cy="324.2" r="0.8" fill="#bcdb5e"/><circle cx="751.9" cy="388.0" r="1.3" fill="#aad055"/><circle cx="747.4" cy="371.7" r="1.4" fill="#bcdb5e"/><circle cx="724.5" cy="343.7" r="0.9" fill="#cfe66c"/><circle cx="782.5" cy="389.3" r="0.8" fill="#cfe66c"/><circle cx="777.4" cy="397.4" r="1.2" fill="#bcdb5e"/><circle cx="720.8" cy="397.1" r="1.1" fill="#aad055"/><circle cx="747.6" cy="387.7" r="1.1" fill="#aad055"/><circle cx="766.7" cy="375.1" r="1.1" fill="#98c24c"/><circle cx="738.1" cy="374.5" r="1.2" fill="#98c24c"/><circle cx="760.1" cy="342.5" r="1.1" fill="#cfe66c"/><circle cx="730.2" cy="389.0" r="1.1" fill="#bcdb5e"/><circle cx="709.8" cy="391.3" r="1.5" fill="#bcdb5e"/><circle cx="764.5" cy="343.1" r="1.0" fill="#bcdb5e"/><circle cx="722.6" cy="342.1" r="0.9" fill="#98c24c"/><circle cx="739.9" cy="319.9" r="1.1" fill="#cfe66c"/><circle cx="777.0" cy="423.6" r="1.1" fill="#cfe66c"/><circle cx="763.0" cy="350.6" r="1.1" fill="#cfe66c"/><circle cx="743.5" cy="358.4" r="1.2" fill="#aad055"/><circle cx="747.7" cy="394.1" r="1.4" fill="#98c24c"/><circle cx="731.8" cy="317.8" r="1.1" fill="#aad055"/><circle cx="779.6" cy="408.9" r="1.0" fill="#cfe66c"/><circle cx="743.8" cy="428.0" r="0.8" fill="#aad055"/><circle cx="767.4" cy="414.6" r="1.2" fill="#cfe66c"/><circle cx="765.3" cy="375.2" r="1.2" fill="#aad055"/><circle cx="764.5" cy="363.0" r="1.4" fill="#bcdb5e"/><circle cx="785.6" cy="408.8" r="1.6" fill="#cfe66c"/><circle cx="749.4" cy="415.4" r="0.9" fill="#aad055"/><circle cx="726.9" cy="307.7" r="0.8" fill="#cfe66c"/><circle cx="755.7" cy="332.4" r="0.9" fill="#aad055"/><circle cx="778.9" cy="388.2" r="0.9" fill="#aad055"/><circle cx="741.0" cy="330.0" r="1.3" fill="#aad055"/><circle cx="732.7" cy="396.5" r="1.2" fill="#cfe66c"/><circle cx="760.9" cy="369.5" r="1.0" fill="#cfe66c"/><circle cx="716.3" cy="329.4" r="1.4" fill="#aad055"/><circle cx="741.0" cy="311.8" r="1.4" fill="#98c24c"/><circle cx="710.7" cy="405.0" r="1.6" fill="#cfe66c"/><circle cx="749.8" cy="398.7" r="1.5" fill="#cfe66c"/><circle cx="728.8" cy="348.7" r="1.2" fill="#aad055"/><circle cx="735.3" cy="318.7" r="1.5" fill="#aad055"/><circle cx="727.1" cy="448.8" r="1.2" fill="#98c24c"/><circle cx="778.0" cy="372.1" r="0.8" fill="#aad055"/><circle cx="768.4" cy="400.1" r="0.8" fill="#98c24c"/><circle cx="742.8" cy="387.0" r="1.2" fill="#bcdb5e"/><circle cx="743.3" cy="324.3" r="1.5" fill="#aad055"/><circle cx="765.9" cy="357.8" r="1.1" fill="#aad055"/><circle cx="735.9" cy="378.8" r="1.4" fill="#aad055"/><circle cx="742.8" cy="343.0" r="1.2" fill="#aad055"/><circle cx="744.1" cy="402.9" r="1.5" fill="#cfe66c"/><circle cx="790.8" cy="392.3" r="1.1" fill="#bcdb5e"/><circle cx="750.0" cy="370.6" r="1.1" fill="#cfe66c"/><circle cx="769.6" cy="363.0" r="0.8" fill="#bcdb5e"/><circle cx="740.1" cy="413.2" r="0.8" fill="#cfe66c"/><circle cx="692.8" cy="342.9" r="1.2" fill="#98c24c"/><circle cx="728.0" cy="343.6" r="1.3" fill="#cfe66c"/><circle cx="751.8" cy="351.8" r="1.0" fill="#aad055"/><circle cx="735.8" cy="353.5" r="1.4" fill="#bcdb5e"/><circle cx="763.5" cy="405.0" r="1.2" fill="#98c24c"/><circle cx="770.2" cy="371.1" r="1.5" fill="#aad055"/><circle cx="753.3" cy="355.8" r="1.0" fill="#aad055"/><circle cx="753.5" cy="351.4" r="1.1" fill="#bcdb5e"/><circle cx="776.4" cy="374.0" r="0.9" fill="#98c24c"/><circle cx="768.0" cy="361.1" r="1.0" fill="#aad055"/><circle cx="789.2" cy="423.4" r="1.6" fill="#bcdb5e"/><circle cx="772.0" cy="396.4" r="0.8" fill="#bcdb5e"/><circle cx="776.3" cy="375.0" r="1.6" fill="#bcdb5e"/><circle cx="718.2" cy="343.2" r="1.5" fill="#bcdb5e"/><circle cx="742.3" cy="308.3" r="1.5" fill="#aad055"/><circle cx="739.6" cy="331.5" r="0.9" fill="#98c24c"/><circle cx="767.8" cy="355.8" r="1.1" fill="#aad055"/><circle cx="751.4" cy="348.5" r="1.2" fill="#98c24c"/><circle cx="729.6" cy="378.0" r="0.9" fill="#aad055"/></g>
<circle cx="719" cy="450" r="3" fill="#234f17"/><circle cx="725" cy="453" r="3.2" fill="#1b4311"/><circle cx="731" cy="451" r="3" fill="#2c5c1d"/><circle cx="737" cy="453" r="2.8" fill="#1b4311"/><circle cx="743" cy="449" r="2.6" fill="#6c9f46"/><circle cx="747" cy="447" r="2.4" fill="#74a94a"/>
</svg></body></html>
